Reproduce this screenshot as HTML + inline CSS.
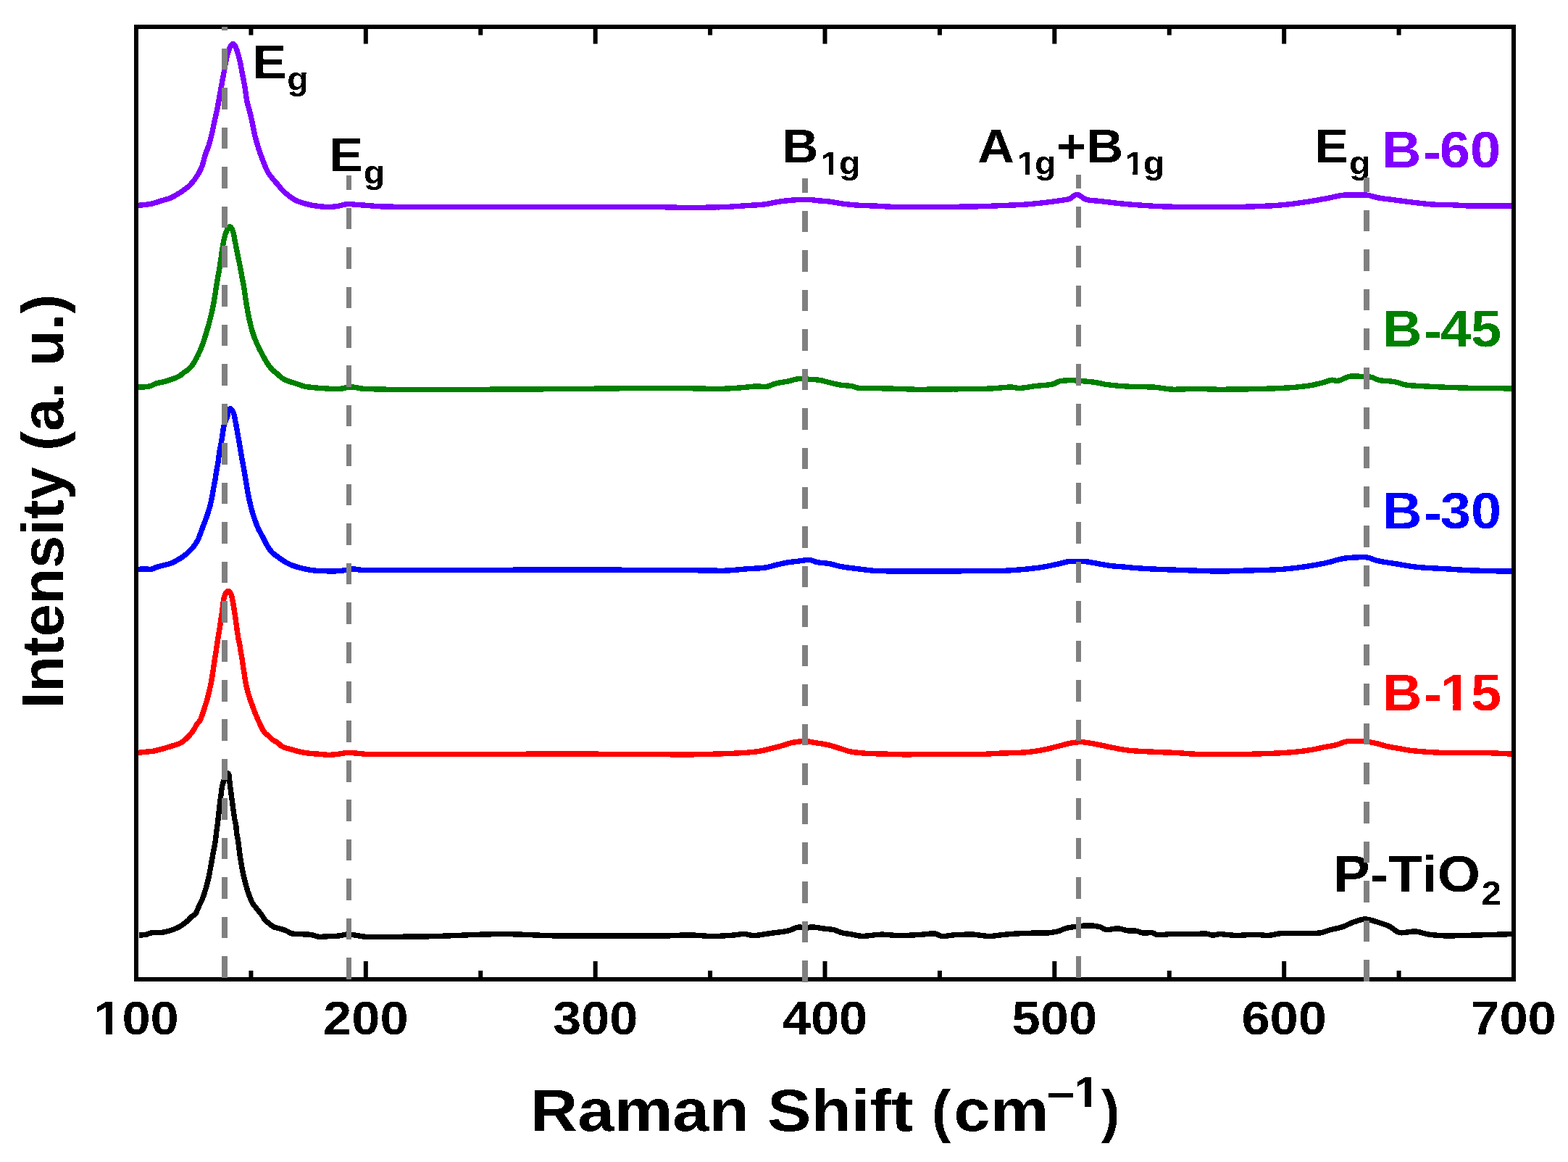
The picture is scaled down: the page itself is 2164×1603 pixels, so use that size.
<!DOCTYPE html>
<html><head><meta charset="utf-8"><title>Raman spectra</title><style>html,body{margin:0;padding:0;background:#fff;overflow:hidden}svg{display:block}</style></head><body>
<svg width="2164" height="1603" viewBox="0 0 2164 1603">
<rect x="0" y="0" width="2164" height="1603" fill="#fff"/>
<path d="M188.9,283.4 189.9,283.3 191.2,283.3 192.6,283.2 194.1,283.1 195.6,283.0 197.1,282.8 198.6,282.7 200.1,282.5 201.6,282.3 203.0,282.1 204.5,281.9 206.0,281.6 207.5,281.4 208.9,281.1 210.4,280.8 211.9,280.4 213.3,280.0 214.7,279.6 216.2,279.1 217.6,278.6 219.0,278.1 220.4,277.7 221.9,277.2 223.3,276.8 224.7,276.3 226.2,275.9 227.6,275.5 229.1,275.1 230.5,274.7 231.9,274.3 233.4,273.8 234.8,273.3 236.2,272.7 237.5,272.1 238.9,271.4 240.2,270.7 241.5,270.0 242.8,269.2 244.1,268.5 245.3,267.7 246.6,266.9 247.9,266.1 249.2,265.3 250.4,264.5 251.7,263.6 252.9,262.8 254.1,261.9 255.3,261.0 256.5,260.1 257.7,259.2 258.9,258.2 260.0,257.3 261.1,256.2 262.2,255.2 263.2,254.1 264.2,253.0 265.2,251.9 266.1,250.7 267.1,249.5 268.0,248.4 268.9,247.2 269.8,245.9 270.6,244.7 271.4,243.4 272.2,242.2 273.0,240.9 273.8,239.6 274.5,238.3 275.3,237.0 276.0,235.7 276.6,234.3 277.3,233.0 277.9,231.6 278.4,230.2 279.0,228.8 279.4,227.4 279.9,226.0 280.3,224.5 280.7,223.1 281.1,221.6 281.4,220.2 281.8,218.7 282.2,217.3 282.6,215.8 283.0,214.4 283.5,212.9 284.0,211.5 284.5,210.1 285.0,208.7 285.6,207.3 286.2,205.9 286.7,204.5 287.2,203.1 287.7,201.7 288.2,200.3 288.6,198.9 289.0,197.4 289.4,196.0 289.8,194.5 290.2,193.1 290.6,191.6 291.0,190.2 291.4,188.7 291.7,187.3 292.1,185.8 292.4,184.4 292.8,182.9 293.1,181.4 293.4,180.0 293.7,178.5 294.0,177.0 294.3,175.6 294.6,174.1 294.9,172.6 295.2,171.2 295.5,169.7 295.9,168.2 296.2,166.8 296.5,165.3 296.8,163.8 297.2,162.4 297.5,160.9 297.8,159.4 298.2,158.0 298.5,156.5 298.8,155.0 299.1,153.6 299.5,152.1 299.8,150.6 300.0,149.2 300.3,147.7 300.6,146.2 300.9,144.7 301.1,143.3 301.4,141.8 301.6,140.3 301.9,138.8 302.2,137.4 302.4,135.9 302.7,134.4 303.0,132.9 303.2,131.5 303.5,130.0 303.8,128.5 304.0,127.0 304.3,125.6 304.6,124.1 304.8,122.6 305.1,121.1 305.4,119.6 305.6,118.2 305.9,116.7 306.2,115.2 306.5,113.8 306.7,112.3 307.0,110.8 307.3,109.3 307.6,107.9 307.8,106.4 308.1,104.9 308.4,103.4 308.6,102.0 308.9,100.5 309.2,99.0 309.4,97.5 309.6,96.0 309.9,94.6 310.1,93.1 310.4,91.6 310.7,90.1 310.9,88.6 311.2,87.2 311.5,85.7 311.8,84.2 312.1,82.8 312.4,81.3 312.8,79.8 313.1,78.4 313.5,76.9 313.9,75.5 314.3,74.0 314.7,72.6 315.1,71.2 315.6,69.7 316.1,68.3 316.6,66.9 317.2,65.5 317.9,64.2 318.6,62.9 319.5,61.8 320.5,61.0 321.5,60.7 322.6,61.1 323.5,62.0 324.4,63.2 325.1,64.5 325.7,65.9 326.2,67.3 326.7,68.7 327.2,70.1 327.6,71.6 328.0,73.0 328.5,74.4 328.9,75.9 329.3,77.3 329.7,78.8 330.1,80.2 330.4,81.7 330.8,83.1 331.1,84.6 331.4,86.1 331.7,87.5 332.1,89.0 332.4,90.5 332.6,91.9 332.9,93.4 333.2,94.9 333.5,96.4 333.8,97.8 334.0,99.3 334.3,100.8 334.6,102.3 334.8,103.7 335.1,105.2 335.4,106.7 335.7,108.2 336.0,109.6 336.3,111.1 336.5,112.6 336.8,114.1 337.1,115.5 337.4,117.0 337.6,118.5 337.9,120.0 338.1,121.4 338.3,122.9 338.6,124.4 338.8,125.9 339.0,127.4 339.2,128.9 339.4,130.3 339.6,131.8 339.8,133.3 340.0,134.8 340.3,136.3 340.5,137.8 340.8,139.2 341.1,140.7 341.4,142.2 341.8,143.6 342.2,145.1 342.6,146.5 343.0,147.9 343.4,149.4 343.8,150.8 344.2,152.3 344.5,153.8 344.9,155.2 345.3,156.7 345.6,158.1 346.0,159.6 346.3,161.0 346.7,162.5 347.0,164.0 347.3,165.4 347.7,166.9 348.0,168.4 348.3,169.8 348.6,171.3 348.9,172.8 349.1,174.2 349.4,175.7 349.7,177.2 350.0,178.7 350.3,180.1 350.6,181.6 350.9,183.1 351.2,184.5 351.6,186.0 351.9,187.4 352.3,188.9 352.7,190.4 353.0,191.8 353.4,193.3 353.8,194.7 354.2,196.1 354.7,197.6 355.1,199.0 355.5,200.5 356.0,201.9 356.4,203.3 356.8,204.8 357.3,206.2 357.8,207.6 358.3,209.0 358.7,210.4 359.2,211.9 359.7,213.3 360.2,214.7 360.8,216.1 361.3,217.5 361.8,218.9 362.4,220.3 362.9,221.7 363.4,223.1 364.0,224.5 364.5,225.9 365.1,227.3 365.6,228.7 366.2,230.1 366.8,231.4 367.4,232.8 368.0,234.2 368.7,235.5 369.4,236.9 370.1,238.2 370.9,239.4 371.8,240.7 372.6,241.9 373.5,243.1 374.5,244.3 375.4,245.4 376.4,246.6 377.3,247.7 378.3,248.9 379.3,250.0 380.3,251.1 381.3,252.2 382.3,253.4 383.3,254.5 384.2,255.7 385.1,256.8 386.1,258.0 387.0,259.2 387.9,260.4 388.9,261.5 389.9,262.6 391.0,263.6 392.1,264.7 393.2,265.7 394.4,266.6 395.5,267.6 396.7,268.5 397.9,269.4 399.1,270.4 400.3,271.3 401.5,272.2 402.7,273.0 403.9,273.9 405.2,274.7 406.5,275.4 407.8,276.2 409.1,276.8 410.5,277.4 411.9,278.0 413.3,278.5 414.7,279.0 416.2,279.5 417.6,279.9 419.0,280.3 420.5,280.7 421.9,281.1 423.4,281.5 424.8,281.9 426.3,282.2 427.7,282.6 429.2,282.9 430.7,283.2 432.1,283.5 433.6,283.7 435.1,283.9 436.6,284.1 438.1,284.3 439.6,284.5 441.1,284.6 442.6,284.8 444.0,285.0 445.5,285.1 447.0,285.2 448.5,285.3 450.0,285.4 451.5,285.4 453.0,285.5 454.5,285.5 456.0,285.4 457.5,285.3 459.0,285.2 460.5,285.1 462.0,284.9 463.5,284.7 465.0,284.5 466.5,284.3 467.9,284.0 469.4,283.7 470.9,283.3 472.3,283.0 473.8,282.6 475.2,282.2 476.7,281.9 478.2,281.7 479.6,281.6 481.1,281.6 482.6,281.6 484.1,281.7 485.6,281.8 487.1,281.9 488.6,282.0 490.1,282.2 491.6,282.3 493.1,282.4 494.6,282.5 496.1,282.6 497.6,282.8 499.1,282.9 500.6,283.0 502.1,283.1 503.6,283.2 505.1,283.3 506.6,283.5 508.1,283.6 509.6,283.7 511.0,283.8 512.5,283.9 514.0,284.1 515.5,284.2 517.0,284.3 518.5,284.4 520.0,284.5 521.5,284.6 523.0,284.7 524.5,284.8 526.0,284.9 527.5,284.9 529.0,285.0 530.5,285.0 532.0,285.0 533.5,285.0 535.0,285.1 536.5,285.1 538.0,285.1 539.5,285.1 541.0,285.1 542.5,285.2 544.0,285.2 545.5,285.2 547.0,285.2 548.5,285.2 550.0,285.3 551.5,285.3 553.0,285.3 554.5,285.3 556.0,285.3 557.5,285.3 559.0,285.3 560.5,285.3 562.0,285.4 563.5,285.4 565.0,285.4 566.5,285.4 568.0,285.4 569.5,285.4 571.0,285.4 572.5,285.4 574.0,285.4 575.5,285.4 577.0,285.4 578.5,285.5 580.0,285.5 581.5,285.5 583.0,285.5 584.5,285.5 586.0,285.5 587.5,285.5 589.0,285.5 590.5,285.5 592.0,285.5 593.5,285.5 595.0,285.5 596.5,285.5 598.0,285.5 599.5,285.5 601.0,285.5 602.5,285.5 604.0,285.5 605.5,285.5 607.0,285.5 608.5,285.5 610.0,285.5 611.5,285.5 613.0,285.5 614.5,285.5 616.0,285.5 617.5,285.5 619.0,285.5 620.5,285.5 622.0,285.5 623.5,285.5 625.0,285.5 626.5,285.5 628.0,285.5 629.5,285.5 631.0,285.5 632.5,285.5 634.0,285.5 635.5,285.5 637.0,285.5 638.5,285.5 640.0,285.5 641.5,285.5 643.0,285.5 644.5,285.5 646.0,285.5 647.5,285.5 649.0,285.5 650.5,285.5 652.0,285.5 653.5,285.5 655.0,285.5 656.5,285.5 658.0,285.5 659.5,285.5 661.0,285.5 662.5,285.5 664.0,285.5 665.5,285.5 667.0,285.5 668.5,285.5 670.0,285.5 671.5,285.5 673.0,285.5 674.5,285.5 676.0,285.5 677.5,285.5 679.0,285.5 680.5,285.5 682.0,285.5 683.5,285.5 685.0,285.5 686.5,285.5 688.0,285.5 689.5,285.5 691.0,285.5 692.5,285.5 694.0,285.5 695.5,285.5 697.0,285.5 698.5,285.5 700.0,285.5 701.5,285.5 703.0,285.5 704.5,285.5 706.0,285.5 707.5,285.5 709.0,285.5 710.5,285.5 712.0,285.5 713.5,285.5 715.0,285.5 716.5,285.5 718.0,285.5 719.5,285.5 721.0,285.5 722.5,285.5 724.0,285.5 725.5,285.5 727.0,285.5 728.5,285.5 730.0,285.5 731.5,285.5 733.0,285.5 734.5,285.5 736.0,285.5 737.5,285.5 739.0,285.5 740.5,285.5 742.0,285.5 743.5,285.5 745.0,285.5 746.5,285.5 748.0,285.5 749.5,285.5 751.0,285.5 752.5,285.5 754.0,285.5 755.5,285.5 757.0,285.5 758.5,285.5 760.0,285.5 761.5,285.5 763.0,285.5 764.5,285.5 766.0,285.5 767.5,285.5 769.0,285.5 770.5,285.5 772.0,285.5 773.5,285.5 775.0,285.5 776.5,285.5 778.0,285.5 779.5,285.5 781.0,285.5 782.5,285.5 784.0,285.5 785.5,285.5 787.0,285.5 788.5,285.5 790.0,285.5 791.5,285.5 793.0,285.5 794.5,285.5 796.0,285.5 797.5,285.5 799.0,285.5 800.5,285.5 802.0,285.5 803.5,285.5 805.0,285.5 806.5,285.5 808.0,285.5 809.5,285.5 811.0,285.5 812.5,285.5 814.0,285.5 815.5,285.5 817.0,285.5 818.5,285.5 820.0,285.5 821.5,285.5 823.0,285.5 824.5,285.5 826.0,285.5 827.5,285.5 829.0,285.5 830.5,285.5 832.0,285.5 833.5,285.5 835.0,285.5 836.5,285.5 838.0,285.5 839.5,285.5 841.0,285.5 842.5,285.5 844.0,285.5 845.5,285.5 847.0,285.5 848.5,285.5 850.0,285.5 851.5,285.5 853.0,285.5 854.5,285.5 856.0,285.5 857.5,285.5 859.0,285.5 860.5,285.5 862.0,285.5 863.5,285.5 865.0,285.5 866.5,285.5 868.0,285.5 869.5,285.5 871.0,285.5 872.5,285.5 874.0,285.5 875.5,285.5 877.0,285.5 878.5,285.5 880.0,285.5 881.5,285.5 883.0,285.5 884.5,285.5 886.0,285.5 887.5,285.5 889.0,285.5 890.5,285.5 892.0,285.5 893.5,285.5 895.0,285.5 896.5,285.5 898.0,285.5 899.5,285.5 901.0,285.5 902.5,285.5 904.0,285.5 905.5,285.5 907.0,285.6 908.5,285.6 910.0,285.6 911.5,285.6 913.0,285.7 914.5,285.7 916.0,285.7 917.5,285.8 919.0,285.8 920.5,285.8 922.0,285.9 923.5,285.9 925.0,285.9 926.5,286.0 928.0,286.0 929.5,286.1 931.0,286.1 932.5,286.1 934.0,286.2 935.5,286.2 937.0,286.2 938.5,286.3 940.0,286.3 941.5,286.3 943.0,286.3 944.5,286.4 946.0,286.4 947.5,286.4 949.0,286.4 950.5,286.4 952.0,286.4 953.5,286.4 955.0,286.4 956.5,286.4 958.0,286.4 959.5,286.4 961.0,286.3 962.5,286.3 964.0,286.3 965.5,286.3 967.0,286.3 968.5,286.3 970.0,286.2 971.5,286.2 973.0,286.2 974.5,286.2 976.0,286.1 977.5,286.1 979.0,286.1 980.5,286.0 982.0,286.0 983.5,286.0 985.0,285.9 986.5,285.9 988.0,285.9 989.5,285.8 991.0,285.8 992.5,285.8 994.0,285.7 995.5,285.7 997.0,285.6 998.5,285.6 1000.0,285.5 1001.5,285.5 1003.0,285.4 1004.5,285.4 1006.0,285.3 1007.5,285.2 1009.0,285.1 1010.5,285.0 1012.0,284.9 1013.5,284.8 1015.0,284.7 1016.5,284.6 1018.0,284.5 1019.5,284.4 1020.9,284.3 1022.4,284.2 1023.9,284.1 1025.4,284.0 1026.9,283.9 1028.4,283.8 1029.9,283.7 1031.4,283.6 1032.9,283.5 1034.4,283.4 1035.9,283.3 1037.4,283.2 1038.9,283.1 1040.4,283.1 1041.9,283.0 1043.4,282.9 1044.9,282.8 1046.4,282.7 1047.9,282.6 1049.4,282.5 1050.9,282.4 1052.4,282.2 1053.9,282.1 1055.4,281.9 1056.8,281.7 1058.3,281.5 1059.8,281.2 1061.3,280.9 1062.7,280.6 1064.2,280.3 1065.7,279.9 1067.1,279.6 1068.6,279.3 1070.1,279.0 1071.5,278.8 1073.0,278.5 1074.5,278.3 1076.0,278.1 1077.5,277.9 1079.0,277.7 1080.5,277.5 1081.9,277.3 1083.4,277.1 1084.9,277.0 1086.4,276.8 1087.9,276.7 1089.4,276.5 1090.9,276.4 1092.4,276.2 1093.9,276.1 1095.4,276.0 1096.9,275.9 1098.4,275.8 1099.9,275.7 1101.4,275.7 1102.9,275.6 1104.4,275.6 1105.9,275.6 1107.4,275.6 1108.9,275.6 1110.4,275.6 1111.9,275.6 1113.4,275.6 1114.9,275.6 1116.4,275.6 1117.9,275.6 1119.4,275.6 1120.9,275.7 1122.3,275.9 1123.8,276.1 1125.3,276.3 1126.8,276.5 1128.3,276.7 1129.8,276.9 1131.3,277.0 1132.8,277.1 1134.3,277.2 1135.8,277.3 1137.3,277.4 1138.7,277.5 1140.2,277.7 1141.7,277.8 1143.2,277.9 1144.7,278.1 1146.2,278.3 1147.7,278.5 1149.2,278.8 1150.6,279.0 1152.1,279.3 1153.6,279.6 1155.1,279.8 1156.5,280.1 1158.0,280.3 1159.5,280.6 1161.0,280.8 1162.5,281.0 1164.0,281.2 1165.5,281.4 1166.9,281.5 1168.4,281.7 1169.9,281.9 1171.4,282.1 1172.9,282.2 1174.4,282.4 1175.9,282.5 1177.4,282.7 1178.9,282.8 1180.4,282.9 1181.9,283.0 1183.4,283.1 1184.9,283.2 1186.4,283.3 1187.9,283.4 1189.4,283.4 1190.9,283.5 1192.4,283.5 1193.9,283.6 1195.4,283.6 1196.9,283.7 1198.4,283.7 1199.9,283.8 1201.4,283.8 1202.9,283.9 1204.4,283.9 1205.8,284.0 1207.3,284.0 1208.8,284.1 1210.3,284.2 1211.8,284.3 1213.3,284.3 1214.8,284.4 1216.3,284.5 1217.8,284.6 1219.3,284.7 1220.8,284.8 1222.3,284.9 1223.8,285.0 1225.3,285.0 1226.8,285.1 1228.3,285.2 1229.8,285.2 1231.3,285.3 1232.8,285.3 1234.3,285.3 1235.8,285.3 1237.3,285.4 1238.8,285.4 1240.3,285.4 1241.8,285.4 1243.3,285.4 1244.8,285.4 1246.3,285.5 1247.8,285.5 1249.3,285.5 1250.8,285.5 1252.3,285.5 1253.8,285.5 1255.3,285.5 1256.8,285.5 1258.3,285.6 1259.8,285.6 1261.3,285.6 1262.8,285.6 1264.3,285.6 1265.8,285.6 1267.3,285.6 1268.8,285.6 1270.3,285.6 1271.8,285.6 1273.3,285.6 1274.8,285.6 1276.3,285.6 1277.8,285.6 1279.3,285.6 1280.8,285.6 1282.3,285.6 1283.8,285.6 1285.3,285.5 1286.8,285.5 1288.3,285.5 1289.8,285.5 1291.3,285.5 1292.8,285.5 1294.3,285.5 1295.8,285.4 1297.3,285.4 1298.8,285.4 1300.3,285.4 1301.8,285.4 1303.3,285.4 1304.8,285.4 1306.3,285.3 1307.8,285.3 1309.3,285.3 1310.8,285.3 1312.3,285.3 1313.8,285.3 1315.3,285.3 1316.8,285.2 1318.3,285.2 1319.8,285.2 1321.3,285.2 1322.8,285.2 1324.3,285.2 1325.8,285.1 1327.3,285.1 1328.8,285.1 1330.3,285.1 1331.8,285.1 1333.3,285.0 1334.8,285.0 1336.3,285.0 1337.8,285.0 1339.3,285.0 1340.8,284.9 1342.3,284.9 1343.8,284.9 1345.3,284.9 1346.8,284.8 1348.3,284.8 1349.8,284.8 1351.3,284.7 1352.8,284.7 1354.3,284.7 1355.8,284.6 1357.3,284.6 1358.8,284.5 1360.3,284.5 1361.8,284.4 1363.3,284.3 1364.8,284.3 1366.3,284.2 1367.8,284.2 1369.3,284.1 1370.8,284.0 1372.3,284.0 1373.8,283.9 1375.3,283.8 1376.8,283.8 1378.3,283.7 1379.8,283.6 1381.3,283.6 1382.8,283.5 1384.3,283.5 1385.8,283.4 1387.3,283.4 1388.8,283.3 1390.3,283.2 1391.8,283.2 1393.3,283.1 1394.8,283.1 1396.3,283.0 1397.8,283.0 1399.3,282.9 1400.8,282.8 1402.3,282.8 1403.8,282.7 1405.3,282.6 1406.8,282.5 1408.3,282.5 1409.8,282.4 1411.3,282.3 1412.8,282.2 1414.3,282.1 1415.7,282.0 1417.2,281.9 1418.7,281.8 1420.2,281.7 1421.7,281.6 1423.2,281.4 1424.7,281.3 1426.2,281.1 1427.7,281.0 1429.2,280.8 1430.7,280.7 1432.2,280.5 1433.7,280.4 1435.2,280.2 1436.7,280.0 1438.1,279.9 1439.6,279.7 1441.1,279.5 1442.6,279.3 1444.1,279.2 1445.6,279.0 1447.1,278.8 1448.6,278.6 1450.1,278.5 1451.5,278.3 1453.0,278.1 1454.5,277.9 1456.0,277.7 1457.5,277.5 1459.0,277.3 1460.5,277.1 1462.0,276.8 1463.4,276.6 1464.9,276.4 1466.4,276.2 1467.9,275.9 1469.4,275.7 1470.8,275.4 1472.3,275.2 1473.8,274.9 1475.2,274.5 1476.6,273.9 1477.9,273.2 1479.1,272.4 1480.3,271.5 1481.5,270.6 1482.7,269.7 1484.0,269.0 1485.3,268.5 1486.6,268.4 1488.0,268.7 1489.4,269.3 1490.6,270.0 1491.9,270.9 1493.1,271.8 1494.3,272.7 1495.5,273.5 1496.8,274.3 1498.1,274.9 1499.5,275.4 1501.0,275.7 1502.4,276.0 1503.9,276.2 1505.4,276.4 1506.9,276.5 1508.4,276.7 1509.9,276.8 1511.4,276.9 1512.9,277.0 1514.4,277.1 1515.9,277.3 1517.4,277.4 1518.9,277.6 1520.3,277.7 1521.8,277.9 1523.3,278.1 1524.8,278.3 1526.3,278.5 1527.8,278.7 1529.3,278.8 1530.8,279.0 1532.3,279.2 1533.7,279.4 1535.2,279.6 1536.7,279.7 1538.2,279.9 1539.7,280.1 1541.2,280.2 1542.7,280.4 1544.2,280.6 1545.7,280.7 1547.2,280.9 1548.7,281.0 1550.1,281.1 1551.6,281.3 1553.1,281.4 1554.6,281.6 1556.1,281.7 1557.6,281.8 1559.1,282.0 1560.6,282.1 1562.1,282.2 1563.6,282.4 1565.1,282.5 1566.6,282.6 1568.1,282.7 1569.6,282.8 1571.1,282.9 1572.6,283.0 1574.1,283.1 1575.6,283.2 1577.1,283.3 1578.6,283.4 1580.0,283.5 1581.5,283.6 1583.0,283.7 1584.5,283.8 1586.0,283.9 1587.5,284.0 1589.0,284.1 1590.5,284.2 1592.0,284.2 1593.5,284.3 1595.0,284.4 1596.5,284.5 1598.0,284.5 1599.5,284.6 1601.0,284.7 1602.5,284.7 1604.0,284.8 1605.5,284.8 1607.0,284.9 1608.5,284.9 1610.0,285.0 1611.5,285.0 1613.0,285.1 1614.5,285.1 1616.0,285.1 1617.5,285.2 1619.0,285.2 1620.5,285.3 1622.0,285.3 1623.5,285.3 1625.0,285.4 1626.5,285.4 1628.0,285.4 1629.5,285.5 1631.0,285.5 1632.5,285.5 1634.0,285.6 1635.5,285.6 1637.0,285.6 1638.5,285.6 1640.0,285.6 1641.5,285.7 1643.0,285.7 1644.5,285.7 1646.0,285.7 1647.5,285.7 1649.0,285.7 1650.5,285.7 1652.0,285.7 1653.5,285.7 1655.0,285.7 1656.5,285.7 1658.0,285.7 1659.5,285.7 1661.0,285.7 1662.5,285.7 1664.0,285.7 1665.5,285.7 1667.0,285.7 1668.5,285.7 1670.0,285.7 1671.5,285.7 1673.0,285.7 1674.5,285.7 1676.0,285.7 1677.5,285.7 1679.0,285.7 1680.5,285.7 1682.0,285.7 1683.5,285.7 1685.0,285.6 1686.5,285.6 1688.0,285.6 1689.5,285.6 1691.0,285.6 1692.5,285.6 1694.0,285.6 1695.5,285.6 1697.0,285.6 1698.5,285.6 1700.0,285.6 1701.5,285.6 1703.0,285.6 1704.5,285.5 1706.0,285.5 1707.5,285.5 1709.0,285.5 1710.5,285.4 1712.0,285.4 1713.5,285.3 1715.0,285.3 1716.5,285.3 1718.0,285.2 1719.5,285.2 1721.0,285.1 1722.5,285.1 1724.0,285.0 1725.5,285.0 1727.0,284.9 1728.5,284.9 1730.0,284.8 1731.5,284.8 1733.0,284.7 1734.5,284.7 1736.0,284.6 1737.5,284.6 1739.0,284.5 1740.5,284.5 1742.0,284.4 1743.5,284.3 1745.0,284.3 1746.5,284.2 1748.0,284.1 1749.5,284.1 1751.0,284.0 1752.5,283.9 1754.0,283.8 1755.5,283.8 1757.0,283.7 1758.5,283.6 1760.0,283.5 1761.5,283.4 1763.0,283.3 1764.5,283.2 1765.9,283.1 1767.4,283.0 1768.9,282.8 1770.4,282.7 1771.9,282.6 1773.4,282.4 1774.9,282.2 1776.4,282.1 1777.9,281.9 1779.4,281.7 1780.9,281.5 1782.4,281.4 1783.8,281.2 1785.3,281.0 1786.8,280.8 1788.3,280.6 1789.8,280.4 1791.3,280.2 1792.8,280.0 1794.3,279.8 1795.7,279.6 1797.2,279.4 1798.7,279.2 1800.2,278.9 1801.7,278.7 1803.2,278.5 1804.6,278.3 1806.1,278.0 1807.6,277.8 1809.1,277.5 1810.6,277.3 1812.0,277.0 1813.5,276.8 1815.0,276.5 1816.5,276.3 1818.0,276.0 1819.4,275.8 1820.9,275.5 1822.4,275.2 1823.9,275.0 1825.3,274.7 1826.8,274.5 1828.3,274.2 1829.8,274.0 1831.2,273.7 1832.7,273.4 1834.2,273.1 1835.7,272.8 1837.1,272.4 1838.6,272.1 1840.0,271.8 1841.5,271.4 1843.0,271.1 1844.4,270.8 1845.9,270.5 1847.4,270.2 1848.9,270.0 1850.3,269.7 1851.8,269.5 1853.3,269.3 1854.8,269.1 1856.3,269.0 1857.8,268.9 1859.3,268.8 1860.8,268.8 1862.3,268.8 1863.8,268.8 1865.3,268.8 1866.8,268.8 1868.3,268.8 1869.8,268.8 1871.3,268.8 1872.8,268.8 1874.3,268.8 1875.8,268.8 1877.3,268.8 1878.8,268.9 1880.3,268.9 1881.8,268.9 1883.3,268.9 1884.8,269.0 1886.3,269.1 1887.8,269.3 1889.2,269.6 1890.7,269.9 1892.1,270.3 1893.6,270.7 1895.0,271.1 1896.4,271.5 1897.9,271.9 1899.4,272.3 1900.8,272.6 1902.3,272.9 1903.8,273.1 1905.3,273.3 1906.7,273.5 1908.2,273.8 1909.7,274.0 1911.2,274.2 1912.7,274.4 1914.2,274.5 1915.7,274.7 1917.2,274.9 1918.6,275.1 1920.1,275.3 1921.6,275.5 1923.1,275.7 1924.6,275.9 1926.1,276.1 1927.6,276.3 1929.1,276.5 1930.5,276.7 1932.0,276.9 1933.5,277.1 1935.0,277.3 1936.5,277.5 1938.0,277.7 1939.5,277.9 1940.9,278.1 1942.4,278.3 1943.9,278.5 1945.4,278.7 1946.9,278.8 1948.4,279.0 1949.9,279.2 1951.4,279.3 1952.9,279.5 1954.3,279.7 1955.8,279.9 1957.3,280.1 1958.8,280.2 1960.3,280.4 1961.8,280.6 1963.3,280.7 1964.8,280.9 1966.3,281.1 1967.8,281.2 1969.3,281.4 1970.7,281.5 1972.2,281.6 1973.7,281.8 1975.2,281.9 1976.7,282.0 1978.2,282.1 1979.7,282.1 1981.2,282.2 1982.7,282.2 1984.2,282.3 1985.7,282.3 1987.2,282.3 1988.7,282.3 1990.2,282.4 1991.7,282.4 1993.2,282.4 1994.7,282.4 1996.2,282.5 1997.7,282.5 1999.2,282.5 2000.7,282.6 2002.2,282.7 2003.7,282.7 2005.2,282.8 2006.7,282.9 2008.2,283.0 2009.7,283.0 2011.2,283.1 2012.7,283.2 2014.2,283.3 2015.7,283.4 2017.2,283.5 2018.7,283.5 2020.2,283.6 2021.7,283.7 2023.2,283.8 2024.7,283.8 2026.2,283.9 2027.7,283.9 2029.2,284.0 2030.7,284.0 2032.2,284.0 2033.7,284.0 2035.2,284.0 2036.7,284.0 2038.2,284.0 2039.7,284.0 2041.2,284.0 2042.7,284.0 2044.2,284.0 2045.7,284.0 2047.2,284.0 2048.7,284.0 2050.2,284.0 2051.7,284.0 2053.2,284.0 2054.7,284.0 2056.2,284.0 2057.7,284.0 2059.2,284.0 2060.7,284.0 2062.2,284.0 2063.7,284.0 2065.2,284.0 2066.7,284.0 2068.2,284.0 2069.7,284.0 2071.2,284.0 2072.7,284.0 2074.2,284.0 2075.7,284.0 2077.2,284.0 2078.7,284.0 2080.2,284.0 2081.7,284.0 2083.2,284.0 2084.7,284.0 2086.1,284.0 2087.4,284.0 2088.3,284.0" fill="none" stroke="#8000FF" stroke-width="7.4" stroke-linejoin="round" stroke-linecap="butt" shape-rendering="crispEdges"/>
<path d="M188.9,283.4 189.9,283.3 191.2,283.3 192.6,283.2 194.1,283.1 195.6,283.0 197.1,282.8 198.6,282.7 200.1,282.5 201.6,282.3 203.0,282.1 204.5,281.9 206.0,281.6 207.5,281.4 208.9,281.1 210.4,280.8 211.9,280.4 213.3,280.0 214.7,279.6 216.2,279.1 217.6,278.6 219.0,278.1 220.4,277.7 221.9,277.2 223.3,276.8 224.7,276.3 226.2,275.9 227.6,275.5 229.1,275.1 230.5,274.7 231.9,274.3 233.4,273.8 234.8,273.3 236.2,272.7 237.5,272.1 238.9,271.4 240.2,270.7 241.5,270.0 242.8,269.2 244.1,268.5 245.3,267.7 246.6,266.9 247.9,266.1 249.2,265.3 250.4,264.5 251.7,263.6 252.9,262.8 254.1,261.9 255.3,261.0 256.5,260.1 257.7,259.2 258.9,258.2 260.0,257.3 261.1,256.2 262.2,255.2 263.2,254.1 264.2,253.0 265.2,251.9 266.1,250.7 267.1,249.5 268.0,248.4 268.9,247.2 269.8,245.9 270.6,244.7 271.4,243.4 272.2,242.2 273.0,240.9 273.8,239.6 274.5,238.3 275.3,237.0 276.0,235.7 276.6,234.3 277.3,233.0 277.9,231.6 278.4,230.2 279.0,228.8 279.4,227.4 279.9,226.0 280.3,224.5 280.7,223.1 281.1,221.6 281.4,220.2 281.8,218.7 282.2,217.3 282.6,215.8 283.0,214.4 283.5,212.9 284.0,211.5 284.5,210.1 285.0,208.7 285.6,207.3 286.2,205.9 286.7,204.5 287.2,203.1 287.7,201.7 288.2,200.3 288.6,198.9 289.0,197.4 289.4,196.0 289.8,194.5 290.2,193.1 290.6,191.6 291.0,190.2 291.4,188.7 291.7,187.3 292.1,185.8 292.4,184.4 292.8,182.9 293.1,181.4 293.4,180.0 293.7,178.5 294.0,177.0 294.3,175.6 294.6,174.1 294.9,172.6 295.2,171.2 295.5,169.7 295.9,168.2 296.2,166.8 296.5,165.3 296.8,163.8 297.2,162.4 297.5,160.9 297.8,159.4 298.2,158.0 298.5,156.5 298.8,155.0 299.1,153.6 299.5,152.1 299.8,150.6 300.0,149.2 300.3,147.7 300.6,146.2 300.9,144.7 301.1,143.3 301.4,141.8 301.6,140.3 301.9,138.8 302.2,137.4 302.4,135.9 302.7,134.4 303.0,132.9 303.2,131.5 303.5,130.0 303.8,128.5 304.0,127.0 304.3,125.6 304.6,124.1 304.8,122.6 305.1,121.1 305.4,119.6 305.6,118.2 305.9,116.7 306.2,115.2 306.5,113.8 306.7,112.3 307.0,110.8 307.3,109.3 307.6,107.9 307.8,106.4 308.1,104.9 308.4,103.4 308.6,102.0 308.9,100.5 309.2,99.0 309.4,97.5 309.6,96.0 309.9,94.6 310.1,93.1 310.4,91.6 310.7,90.1 310.9,88.6 311.2,87.2 311.5,85.7 311.8,84.2 312.1,82.8 312.4,81.3 312.8,79.8 313.1,78.4 313.5,76.9 313.9,75.5 314.3,74.0 314.7,72.6 315.1,71.2 315.6,69.7 316.1,68.3 316.6,66.9 317.2,65.5 317.9,64.2 318.6,62.9 319.5,61.8 320.5,61.0 321.5,60.7 322.6,61.1 323.5,62.0 324.4,63.2 325.1,64.5 325.7,65.9 326.2,67.3 326.7,68.7 327.2,70.1 327.6,71.6 328.0,73.0 328.5,74.4 328.9,75.9 329.3,77.3 329.7,78.8 330.1,80.2 330.4,81.7 330.8,83.1 331.1,84.6 331.4,86.1 331.7,87.5 332.1,89.0 332.4,90.5 332.6,91.9 332.9,93.4 333.2,94.9 333.5,96.4 333.8,97.8 334.0,99.3 334.3,100.8 334.6,102.3 334.8,103.7 335.1,105.2 335.4,106.7 335.7,108.2 336.0,109.6 336.3,111.1 336.5,112.6 336.8,114.1 337.1,115.5 337.4,117.0 337.6,118.5 337.9,120.0 338.1,121.4 338.3,122.9 338.6,124.4 338.8,125.9 339.0,127.4 339.2,128.9 339.4,130.3 339.6,131.8 339.8,133.3 340.0,134.8 340.3,136.3 340.5,137.8 340.8,139.2 341.1,140.7 341.4,142.2 341.8,143.6 342.2,145.1 342.6,146.5 343.0,147.9 343.4,149.4 343.8,150.8 344.2,152.3 344.5,153.8 344.9,155.2 345.3,156.7 345.6,158.1 346.0,159.6 346.3,161.0 346.7,162.5 347.0,164.0 347.3,165.4 347.7,166.9 348.0,168.4 348.3,169.8 348.6,171.3 348.9,172.8 349.1,174.2 349.4,175.7 349.7,177.2 350.0,178.7 350.3,180.1 350.6,181.6 350.9,183.1 351.2,184.5 351.6,186.0 351.9,187.4 352.3,188.9 352.7,190.4 353.0,191.8 353.4,193.3 353.8,194.7 354.2,196.1 354.7,197.6 355.1,199.0 355.5,200.5 356.0,201.9 356.4,203.3 356.8,204.8 357.3,206.2 357.8,207.6 358.3,209.0 358.7,210.4 359.2,211.9 359.7,213.3 360.2,214.7 360.8,216.1 361.3,217.5 361.8,218.9 362.4,220.3 362.9,221.7 363.4,223.1 364.0,224.5 364.5,225.9 365.1,227.3 365.6,228.7 366.2,230.1 366.8,231.4 367.4,232.8 368.0,234.2 368.7,235.5 369.4,236.9 370.1,238.2 370.9,239.4 371.8,240.7 372.6,241.9 373.5,243.1 374.5,244.3 375.4,245.4 376.4,246.6 377.3,247.7 378.3,248.9 379.3,250.0 380.3,251.1 381.3,252.2 382.3,253.4 383.3,254.5 384.2,255.7 385.1,256.8 386.1,258.0 387.0,259.2 387.9,260.4 388.9,261.5 389.9,262.6 391.0,263.6 392.1,264.7 393.2,265.7 394.4,266.6 395.5,267.6 396.7,268.5 397.9,269.4 399.1,270.4 400.3,271.3 401.5,272.2 402.7,273.0 403.9,273.9 405.2,274.7 406.5,275.4 407.8,276.2 409.1,276.8 410.5,277.4 411.9,278.0 413.3,278.5 414.7,279.0 416.2,279.5 417.6,279.9 419.0,280.3 420.5,280.7 421.9,281.1 423.4,281.5 424.8,281.9 426.3,282.2 427.7,282.6 429.2,282.9 430.7,283.2 432.1,283.5 433.6,283.7 435.1,283.9 436.6,284.1 438.1,284.3 439.6,284.5 441.1,284.6 442.6,284.8 444.0,285.0 445.5,285.1 447.0,285.2 448.5,285.3 450.0,285.4 451.5,285.4 453.0,285.5 454.5,285.5 456.0,285.4 457.5,285.3 459.0,285.2 460.5,285.1 462.0,284.9 463.5,284.7 465.0,284.5 466.5,284.3 467.9,284.0 469.4,283.7 470.9,283.3 472.3,283.0 473.8,282.6 475.2,282.2 476.7,281.9 478.2,281.7 479.6,281.6 481.1,281.6 482.6,281.6 484.1,281.7 485.6,281.8 487.1,281.9 488.6,282.0 490.1,282.2 491.6,282.3 493.1,282.4 494.6,282.5 496.1,282.6 497.6,282.8 499.1,282.9 500.6,283.0 502.1,283.1 503.6,283.2 505.1,283.3 506.6,283.5 508.1,283.6 509.6,283.7 511.0,283.8 512.5,283.9 514.0,284.1 515.5,284.2 517.0,284.3 518.5,284.4 520.0,284.5 521.5,284.6 523.0,284.7 524.5,284.8 526.0,284.9 527.5,284.9 529.0,285.0 530.5,285.0 532.0,285.0 533.5,285.0 535.0,285.1 536.5,285.1 538.0,285.1 539.5,285.1 541.0,285.1 542.5,285.2 544.0,285.2 545.5,285.2 547.0,285.2 548.5,285.2 550.0,285.3 551.5,285.3 553.0,285.3 554.5,285.3 556.0,285.3 557.5,285.3 559.0,285.3 560.5,285.3 562.0,285.4 563.5,285.4 565.0,285.4 566.5,285.4 568.0,285.4 569.5,285.4 571.0,285.4 572.5,285.4 574.0,285.4 575.5,285.4 577.0,285.4 578.5,285.5 580.0,285.5 581.5,285.5 583.0,285.5 584.5,285.5 586.0,285.5 587.5,285.5 589.0,285.5 590.5,285.5 592.0,285.5 593.5,285.5 595.0,285.5 596.5,285.5 598.0,285.5 599.5,285.5 601.0,285.5 602.5,285.5 604.0,285.5 605.5,285.5 607.0,285.5 608.5,285.5 610.0,285.5 611.5,285.5 613.0,285.5 614.5,285.5 616.0,285.5 617.5,285.5 619.0,285.5 620.5,285.5 622.0,285.5 623.5,285.5 625.0,285.5 626.5,285.5 628.0,285.5 629.5,285.5 631.0,285.5 632.5,285.5 634.0,285.5 635.5,285.5 637.0,285.5 638.5,285.5 640.0,285.5 641.5,285.5 643.0,285.5 644.5,285.5 646.0,285.5 647.5,285.5 649.0,285.5 650.5,285.5 652.0,285.5 653.5,285.5 655.0,285.5 656.5,285.5 658.0,285.5 659.5,285.5 661.0,285.5 662.5,285.5 664.0,285.5 665.5,285.5 667.0,285.5 668.5,285.5 670.0,285.5 671.5,285.5 673.0,285.5 674.5,285.5 676.0,285.5 677.5,285.5 679.0,285.5 680.5,285.5 682.0,285.5 683.5,285.5 685.0,285.5 686.5,285.5 688.0,285.5 689.5,285.5 691.0,285.5 692.5,285.5 694.0,285.5 695.5,285.5 697.0,285.5 698.5,285.5 700.0,285.5 701.5,285.5 703.0,285.5 704.5,285.5 706.0,285.5 707.5,285.5 709.0,285.5 710.5,285.5 712.0,285.5 713.5,285.5 715.0,285.5 716.5,285.5 718.0,285.5 719.5,285.5 721.0,285.5 722.5,285.5 724.0,285.5 725.5,285.5 727.0,285.5 728.5,285.5 730.0,285.5 731.5,285.5 733.0,285.5 734.5,285.5 736.0,285.5 737.5,285.5 739.0,285.5 740.5,285.5 742.0,285.5 743.5,285.5 745.0,285.5 746.5,285.5 748.0,285.5 749.5,285.5 751.0,285.5 752.5,285.5 754.0,285.5 755.5,285.5 757.0,285.5 758.5,285.5 760.0,285.5 761.5,285.5 763.0,285.5 764.5,285.5 766.0,285.5 767.5,285.5 769.0,285.5 770.5,285.5 772.0,285.5 773.5,285.5 775.0,285.5 776.5,285.5 778.0,285.5 779.5,285.5 781.0,285.5 782.5,285.5 784.0,285.5 785.5,285.5 787.0,285.5 788.5,285.5 790.0,285.5 791.5,285.5 793.0,285.5 794.5,285.5 796.0,285.5 797.5,285.5 799.0,285.5 800.5,285.5 802.0,285.5 803.5,285.5 805.0,285.5 806.5,285.5 808.0,285.5 809.5,285.5 811.0,285.5 812.5,285.5 814.0,285.5 815.5,285.5 817.0,285.5 818.5,285.5 820.0,285.5 821.5,285.5 823.0,285.5 824.5,285.5 826.0,285.5 827.5,285.5 829.0,285.5 830.5,285.5 832.0,285.5 833.5,285.5 835.0,285.5 836.5,285.5 838.0,285.5 839.5,285.5 841.0,285.5 842.5,285.5 844.0,285.5 845.5,285.5 847.0,285.5 848.5,285.5 850.0,285.5 851.5,285.5 853.0,285.5 854.5,285.5 856.0,285.5 857.5,285.5 859.0,285.5 860.5,285.5 862.0,285.5 863.5,285.5 865.0,285.5 866.5,285.5 868.0,285.5 869.5,285.5 871.0,285.5 872.5,285.5 874.0,285.5 875.5,285.5 877.0,285.5 878.5,285.5 880.0,285.5 881.5,285.5 883.0,285.5 884.5,285.5 886.0,285.5 887.5,285.5 889.0,285.5 890.5,285.5 892.0,285.5 893.5,285.5 895.0,285.5 896.5,285.5 898.0,285.5 899.5,285.5 901.0,285.5 902.5,285.5 904.0,285.5 905.5,285.5 907.0,285.6 908.5,285.6 910.0,285.6 911.5,285.6 913.0,285.7 914.5,285.7 916.0,285.7 917.5,285.8 919.0,285.8 920.5,285.8 922.0,285.9 923.5,285.9 925.0,285.9 926.5,286.0 928.0,286.0 929.5,286.1 931.0,286.1 932.5,286.1 934.0,286.2 935.5,286.2 937.0,286.2 938.5,286.3 940.0,286.3 941.5,286.3 943.0,286.3 944.5,286.4 946.0,286.4 947.5,286.4 949.0,286.4 950.5,286.4 952.0,286.4 953.5,286.4 955.0,286.4 956.5,286.4 958.0,286.4 959.5,286.4 961.0,286.3 962.5,286.3 964.0,286.3 965.5,286.3 967.0,286.3 968.5,286.3 970.0,286.2 971.5,286.2 973.0,286.2 974.5,286.2 976.0,286.1 977.5,286.1 979.0,286.1 980.5,286.0 982.0,286.0 983.5,286.0 985.0,285.9 986.5,285.9 988.0,285.9 989.5,285.8 991.0,285.8 992.5,285.8 994.0,285.7 995.5,285.7 997.0,285.6 998.5,285.6 1000.0,285.5 1001.5,285.5 1003.0,285.4 1004.5,285.4 1006.0,285.3 1007.5,285.2 1009.0,285.1 1010.5,285.0 1012.0,284.9 1013.5,284.8 1015.0,284.7 1016.5,284.6 1018.0,284.5 1019.5,284.4 1020.9,284.3 1022.4,284.2 1023.9,284.1 1025.4,284.0 1026.9,283.9 1028.4,283.8 1029.9,283.7 1031.4,283.6 1032.9,283.5 1034.4,283.4 1035.9,283.3 1037.4,283.2 1038.9,283.1 1040.4,283.1 1041.9,283.0 1043.4,282.9 1044.9,282.8 1046.4,282.7 1047.9,282.6 1049.4,282.5 1050.9,282.4 1052.4,282.2 1053.9,282.1 1055.4,281.9 1056.8,281.7 1058.3,281.5 1059.8,281.2 1061.3,280.9 1062.7,280.6 1064.2,280.3 1065.7,279.9 1067.1,279.6 1068.6,279.3 1070.1,279.0 1071.5,278.8 1073.0,278.5 1074.5,278.3 1076.0,278.1 1077.5,277.9 1079.0,277.7 1080.5,277.5 1081.9,277.3 1083.4,277.1 1084.9,277.0 1086.4,276.8 1087.9,276.7 1089.4,276.5 1090.9,276.4 1092.4,276.2 1093.9,276.1 1095.4,276.0 1096.9,275.9 1098.4,275.8 1099.9,275.7 1101.4,275.7 1102.9,275.6 1104.4,275.6 1105.9,275.6 1107.4,275.6 1108.9,275.6 1110.4,275.6 1111.9,275.6 1113.4,275.6 1114.9,275.6 1116.4,275.6 1117.9,275.6 1119.4,275.6 1120.9,275.7 1122.3,275.9 1123.8,276.1 1125.3,276.3 1126.8,276.5 1128.3,276.7 1129.8,276.9 1131.3,277.0 1132.8,277.1 1134.3,277.2 1135.8,277.3 1137.3,277.4 1138.7,277.5 1140.2,277.7 1141.7,277.8 1143.2,277.9 1144.7,278.1 1146.2,278.3 1147.7,278.5 1149.2,278.8 1150.6,279.0 1152.1,279.3 1153.6,279.6 1155.1,279.8 1156.5,280.1 1158.0,280.3 1159.5,280.6 1161.0,280.8 1162.5,281.0 1164.0,281.2 1165.5,281.4 1166.9,281.5 1168.4,281.7 1169.9,281.9 1171.4,282.1 1172.9,282.2 1174.4,282.4 1175.9,282.5 1177.4,282.7 1178.9,282.8 1180.4,282.9 1181.9,283.0 1183.4,283.1 1184.9,283.2 1186.4,283.3 1187.9,283.4 1189.4,283.4 1190.9,283.5 1192.4,283.5 1193.9,283.6 1195.4,283.6 1196.9,283.7 1198.4,283.7 1199.9,283.8 1201.4,283.8 1202.9,283.9 1204.4,283.9 1205.8,284.0 1207.3,284.0 1208.8,284.1 1210.3,284.2 1211.8,284.3 1213.3,284.3 1214.8,284.4 1216.3,284.5 1217.8,284.6 1219.3,284.7 1220.8,284.8 1222.3,284.9 1223.8,285.0 1225.3,285.0 1226.8,285.1 1228.3,285.2 1229.8,285.2 1231.3,285.3 1232.8,285.3 1234.3,285.3 1235.8,285.3 1237.3,285.4 1238.8,285.4 1240.3,285.4 1241.8,285.4 1243.3,285.4 1244.8,285.4 1246.3,285.5 1247.8,285.5 1249.3,285.5 1250.8,285.5 1252.3,285.5 1253.8,285.5 1255.3,285.5 1256.8,285.5 1258.3,285.6 1259.8,285.6 1261.3,285.6 1262.8,285.6 1264.3,285.6 1265.8,285.6 1267.3,285.6 1268.8,285.6 1270.3,285.6 1271.8,285.6 1273.3,285.6 1274.8,285.6 1276.3,285.6 1277.8,285.6 1279.3,285.6 1280.8,285.6 1282.3,285.6 1283.8,285.6 1285.3,285.5 1286.8,285.5 1288.3,285.5 1289.8,285.5 1291.3,285.5 1292.8,285.5 1294.3,285.5 1295.8,285.4 1297.3,285.4 1298.8,285.4 1300.3,285.4 1301.8,285.4 1303.3,285.4 1304.8,285.4 1306.3,285.3 1307.8,285.3 1309.3,285.3 1310.8,285.3 1312.3,285.3 1313.8,285.3 1315.3,285.3 1316.8,285.2 1318.3,285.2 1319.8,285.2 1321.3,285.2 1322.8,285.2 1324.3,285.2 1325.8,285.1 1327.3,285.1 1328.8,285.1 1330.3,285.1 1331.8,285.1 1333.3,285.0 1334.8,285.0 1336.3,285.0 1337.8,285.0 1339.3,285.0 1340.8,284.9 1342.3,284.9 1343.8,284.9 1345.3,284.9 1346.8,284.8 1348.3,284.8 1349.8,284.8 1351.3,284.7 1352.8,284.7 1354.3,284.7 1355.8,284.6 1357.3,284.6 1358.8,284.5 1360.3,284.5 1361.8,284.4 1363.3,284.3 1364.8,284.3 1366.3,284.2 1367.8,284.2 1369.3,284.1 1370.8,284.0 1372.3,284.0 1373.8,283.9 1375.3,283.8 1376.8,283.8 1378.3,283.7 1379.8,283.6 1381.3,283.6 1382.8,283.5 1384.3,283.5 1385.8,283.4 1387.3,283.4 1388.8,283.3 1390.3,283.2 1391.8,283.2 1393.3,283.1 1394.8,283.1 1396.3,283.0 1397.8,283.0 1399.3,282.9 1400.8,282.8 1402.3,282.8 1403.8,282.7 1405.3,282.6 1406.8,282.5 1408.3,282.5 1409.8,282.4 1411.3,282.3 1412.8,282.2 1414.3,282.1 1415.7,282.0 1417.2,281.9 1418.7,281.8 1420.2,281.7 1421.7,281.6 1423.2,281.4 1424.7,281.3 1426.2,281.1 1427.7,281.0 1429.2,280.8 1430.7,280.7 1432.2,280.5 1433.7,280.4 1435.2,280.2 1436.7,280.0 1438.1,279.9 1439.6,279.7 1441.1,279.5 1442.6,279.3 1444.1,279.2 1445.6,279.0 1447.1,278.8 1448.6,278.6 1450.1,278.5 1451.5,278.3 1453.0,278.1 1454.5,277.9 1456.0,277.7 1457.5,277.5 1459.0,277.3 1460.5,277.1 1462.0,276.8 1463.4,276.6 1464.9,276.4 1466.4,276.2 1467.9,275.9 1469.4,275.7 1470.8,275.4 1472.3,275.2 1473.8,274.9 1475.2,274.5 1476.6,273.9 1477.9,273.2 1479.1,272.4 1480.3,271.5 1481.5,270.6 1482.7,269.7 1484.0,269.0 1485.3,268.5 1486.6,268.4 1488.0,268.7 1489.4,269.3 1490.6,270.0 1491.9,270.9 1493.1,271.8 1494.3,272.7 1495.5,273.5 1496.8,274.3 1498.1,274.9 1499.5,275.4 1501.0,275.7 1502.4,276.0 1503.9,276.2 1505.4,276.4 1506.9,276.5 1508.4,276.7 1509.9,276.8 1511.4,276.9 1512.9,277.0 1514.4,277.1 1515.9,277.3 1517.4,277.4 1518.9,277.6 1520.3,277.7 1521.8,277.9 1523.3,278.1 1524.8,278.3 1526.3,278.5 1527.8,278.7 1529.3,278.8 1530.8,279.0 1532.3,279.2 1533.7,279.4 1535.2,279.6 1536.7,279.7 1538.2,279.9 1539.7,280.1 1541.2,280.2 1542.7,280.4 1544.2,280.6 1545.7,280.7 1547.2,280.9 1548.7,281.0 1550.1,281.1 1551.6,281.3 1553.1,281.4 1554.6,281.6 1556.1,281.7 1557.6,281.8 1559.1,282.0 1560.6,282.1 1562.1,282.2 1563.6,282.4 1565.1,282.5 1566.6,282.6 1568.1,282.7 1569.6,282.8 1571.1,282.9 1572.6,283.0 1574.1,283.1 1575.6,283.2 1577.1,283.3 1578.6,283.4 1580.0,283.5 1581.5,283.6 1583.0,283.7 1584.5,283.8 1586.0,283.9 1587.5,284.0 1589.0,284.1 1590.5,284.2 1592.0,284.2 1593.5,284.3 1595.0,284.4 1596.5,284.5 1598.0,284.5 1599.5,284.6 1601.0,284.7 1602.5,284.7 1604.0,284.8 1605.5,284.8 1607.0,284.9 1608.5,284.9 1610.0,285.0 1611.5,285.0 1613.0,285.1 1614.5,285.1 1616.0,285.1 1617.5,285.2 1619.0,285.2 1620.5,285.3 1622.0,285.3 1623.5,285.3 1625.0,285.4 1626.5,285.4 1628.0,285.4 1629.5,285.5 1631.0,285.5 1632.5,285.5 1634.0,285.6 1635.5,285.6 1637.0,285.6 1638.5,285.6 1640.0,285.6 1641.5,285.7 1643.0,285.7 1644.5,285.7 1646.0,285.7 1647.5,285.7 1649.0,285.7 1650.5,285.7 1652.0,285.7 1653.5,285.7 1655.0,285.7 1656.5,285.7 1658.0,285.7 1659.5,285.7 1661.0,285.7 1662.5,285.7 1664.0,285.7 1665.5,285.7 1667.0,285.7 1668.5,285.7 1670.0,285.7 1671.5,285.7 1673.0,285.7 1674.5,285.7 1676.0,285.7 1677.5,285.7 1679.0,285.7 1680.5,285.7 1682.0,285.7 1683.5,285.7 1685.0,285.6 1686.5,285.6 1688.0,285.6 1689.5,285.6 1691.0,285.6 1692.5,285.6 1694.0,285.6 1695.5,285.6 1697.0,285.6 1698.5,285.6 1700.0,285.6 1701.5,285.6 1703.0,285.6 1704.5,285.5 1706.0,285.5 1707.5,285.5 1709.0,285.5 1710.5,285.4 1712.0,285.4 1713.5,285.3 1715.0,285.3 1716.5,285.3 1718.0,285.2 1719.5,285.2 1721.0,285.1 1722.5,285.1 1724.0,285.0 1725.5,285.0 1727.0,284.9 1728.5,284.9 1730.0,284.8 1731.5,284.8 1733.0,284.7 1734.5,284.7 1736.0,284.6 1737.5,284.6 1739.0,284.5 1740.5,284.5 1742.0,284.4 1743.5,284.3 1745.0,284.3 1746.5,284.2 1748.0,284.1 1749.5,284.1 1751.0,284.0 1752.5,283.9 1754.0,283.8 1755.5,283.8 1757.0,283.7 1758.5,283.6 1760.0,283.5 1761.5,283.4 1763.0,283.3 1764.5,283.2 1765.9,283.1 1767.4,283.0 1768.9,282.8 1770.4,282.7 1771.9,282.6 1773.4,282.4 1774.9,282.2 1776.4,282.1 1777.9,281.9 1779.4,281.7 1780.9,281.5 1782.4,281.4 1783.8,281.2 1785.3,281.0 1786.8,280.8 1788.3,280.6 1789.8,280.4 1791.3,280.2 1792.8,280.0 1794.3,279.8 1795.7,279.6 1797.2,279.4 1798.7,279.2 1800.2,278.9 1801.7,278.7 1803.2,278.5 1804.6,278.3 1806.1,278.0 1807.6,277.8 1809.1,277.5 1810.6,277.3 1812.0,277.0 1813.5,276.8 1815.0,276.5 1816.5,276.3 1818.0,276.0 1819.4,275.8 1820.9,275.5 1822.4,275.2 1823.9,275.0 1825.3,274.7 1826.8,274.5 1828.3,274.2 1829.8,274.0 1831.2,273.7 1832.7,273.4 1834.2,273.1 1835.7,272.8 1837.1,272.4 1838.6,272.1 1840.0,271.8 1841.5,271.4 1843.0,271.1 1844.4,270.8 1845.9,270.5 1847.4,270.2 1848.9,270.0 1850.3,269.7 1851.8,269.5 1853.3,269.3 1854.8,269.1 1856.3,269.0 1857.8,268.9 1859.3,268.8 1860.8,268.8 1862.3,268.8 1863.8,268.8 1865.3,268.8 1866.8,268.8 1868.3,268.8 1869.8,268.8 1871.3,268.8 1872.8,268.8 1874.3,268.8 1875.8,268.8 1877.3,268.8 1878.8,268.9 1880.3,268.9 1881.8,268.9 1883.3,268.9 1884.8,269.0 1886.3,269.1 1887.8,269.3 1889.2,269.6 1890.7,269.9 1892.1,270.3 1893.6,270.7 1895.0,271.1 1896.4,271.5 1897.9,271.9 1899.4,272.3 1900.8,272.6 1902.3,272.9 1903.8,273.1 1905.3,273.3 1906.7,273.5 1908.2,273.8 1909.7,274.0 1911.2,274.2 1912.7,274.4 1914.2,274.5 1915.7,274.7 1917.2,274.9 1918.6,275.1 1920.1,275.3 1921.6,275.5 1923.1,275.7 1924.6,275.9 1926.1,276.1 1927.6,276.3 1929.1,276.5 1930.5,276.7 1932.0,276.9 1933.5,277.1 1935.0,277.3 1936.5,277.5 1938.0,277.7 1939.5,277.9 1940.9,278.1 1942.4,278.3 1943.9,278.5 1945.4,278.7 1946.9,278.8 1948.4,279.0 1949.9,279.2 1951.4,279.3 1952.9,279.5 1954.3,279.7 1955.8,279.9 1957.3,280.1 1958.8,280.2 1960.3,280.4 1961.8,280.6 1963.3,280.7 1964.8,280.9 1966.3,281.1 1967.8,281.2 1969.3,281.4 1970.7,281.5 1972.2,281.6 1973.7,281.8 1975.2,281.9 1976.7,282.0 1978.2,282.1 1979.7,282.1 1981.2,282.2 1982.7,282.2 1984.2,282.3 1985.7,282.3 1987.2,282.3 1988.7,282.3 1990.2,282.4 1991.7,282.4 1993.2,282.4 1994.7,282.4 1996.2,282.5 1997.7,282.5 1999.2,282.5 2000.7,282.6 2002.2,282.7 2003.7,282.7 2005.2,282.8 2006.7,282.9 2008.2,283.0 2009.7,283.0 2011.2,283.1 2012.7,283.2 2014.2,283.3 2015.7,283.4 2017.2,283.5 2018.7,283.5 2020.2,283.6 2021.7,283.7 2023.2,283.8 2024.7,283.8 2026.2,283.9 2027.7,283.9 2029.2,284.0 2030.7,284.0 2032.2,284.0 2033.7,284.0 2035.2,284.0 2036.7,284.0 2038.2,284.0 2039.7,284.0 2041.2,284.0 2042.7,284.0 2044.2,284.0 2045.7,284.0 2047.2,284.0 2048.7,284.0 2050.2,284.0 2051.7,284.0 2053.2,284.0 2054.7,284.0 2056.2,284.0 2057.7,284.0 2059.2,284.0 2060.7,284.0 2062.2,284.0 2063.7,284.0 2065.2,284.0 2066.7,284.0 2068.2,284.0 2069.7,284.0 2071.2,284.0 2072.7,284.0 2074.2,284.0 2075.7,284.0 2077.2,284.0 2078.7,284.0 2080.2,284.0 2081.7,284.0 2083.2,284.0 2084.7,284.0 2086.1,284.0 2087.4,284.0 2088.3,284.0" fill="none" stroke="#8000FF" stroke-width="4" stroke-linejoin="round" stroke-linecap="butt"/>
<path d="M188.9,533.7 189.9,533.8 191.1,533.8 192.6,533.9 194.1,534.0 195.6,534.0 197.1,534.0 198.6,533.9 200.1,533.8 201.6,533.7 203.1,533.5 204.5,533.2 206.0,532.9 207.4,532.5 208.8,532.0 210.2,531.4 211.6,530.8 212.9,530.1 214.3,529.5 215.7,529.0 217.1,528.5 218.6,528.2 220.0,527.9 221.5,527.6 223.0,527.3 224.4,527.0 225.9,526.7 227.3,526.3 228.8,525.9 230.2,525.4 231.6,525.0 233.1,524.5 234.5,524.0 235.9,523.6 237.3,523.1 238.8,522.6 240.2,522.1 241.6,521.6 243.0,521.0 244.4,520.4 245.7,519.8 247.0,519.1 248.3,518.3 249.5,517.4 250.6,516.4 251.8,515.5 252.9,514.5 254.1,513.6 255.4,512.8 256.6,512.0 257.9,511.2 259.1,510.4 260.3,509.4 261.4,508.4 262.4,507.3 263.4,506.2 264.3,505.0 265.2,503.8 266.1,502.6 266.9,501.4 267.7,500.1 268.5,498.8 269.2,497.5 270.0,496.2 270.7,494.9 271.4,493.5 272.0,492.2 272.7,490.9 273.4,489.5 274.0,488.2 274.7,486.8 275.3,485.4 275.9,484.1 276.6,482.7 277.1,481.3 277.7,479.9 278.3,478.6 278.8,477.2 279.4,475.8 279.9,474.4 280.4,472.9 280.9,471.5 281.3,470.1 281.8,468.7 282.2,467.2 282.7,465.8 283.1,464.4 283.6,462.9 284.0,461.5 284.4,460.1 284.9,458.6 285.3,457.2 285.7,455.8 286.1,454.3 286.6,452.9 287.0,451.4 287.4,450.0 287.8,448.5 288.2,447.1 288.5,445.6 288.9,444.2 289.3,442.7 289.7,441.3 290.1,439.8 290.4,438.4 290.8,436.9 291.2,435.5 291.5,434.0 291.9,432.6 292.2,431.1 292.6,429.6 292.9,428.2 293.2,426.7 293.5,425.2 293.8,423.8 294.1,422.3 294.4,420.8 294.7,419.4 295.0,417.9 295.2,416.4 295.5,414.9 295.7,413.4 296.0,412.0 296.2,410.5 296.5,409.0 296.7,407.5 296.9,406.0 297.1,404.6 297.3,403.1 297.5,401.6 297.7,400.1 297.9,398.6 298.2,397.1 298.4,395.6 298.7,394.2 299.0,392.7 299.3,391.2 299.5,389.8 299.8,388.3 300.0,386.8 300.2,385.3 300.5,383.8 300.7,382.3 301.0,380.9 301.2,379.4 301.5,377.9 301.8,376.4 302.0,375.0 302.3,373.5 302.6,372.0 302.9,370.5 303.1,369.1 303.4,367.6 303.6,366.1 303.8,364.6 304.0,363.1 304.2,361.6 304.4,360.2 304.6,358.7 304.9,357.2 305.1,355.7 305.3,354.2 305.5,352.7 305.7,351.3 305.9,349.8 306.1,348.3 306.4,346.8 306.6,345.3 306.8,343.8 307.1,342.4 307.3,340.9 307.5,339.4 307.8,337.9 308.0,336.4 308.3,335.0 308.5,333.5 308.8,332.0 309.2,330.5 309.5,329.1 309.9,327.6 310.2,326.2 310.6,324.7 311.0,323.3 311.5,321.9 312.0,320.4 312.5,319.0 313.1,317.7 313.7,316.3 314.4,315.0 315.1,313.8 316.1,313.0 317.1,312.7 318.1,313.2 319.1,314.1 319.9,315.3 320.5,316.6 321.1,318.0 321.6,319.4 322.0,320.8 322.4,322.3 322.7,323.8 322.9,325.3 323.2,326.7 323.5,328.2 323.7,329.7 324.0,331.2 324.3,332.6 324.6,334.1 324.9,335.6 325.2,337.0 325.4,338.5 325.7,340.0 326.0,341.5 326.3,342.9 326.6,344.4 326.9,345.9 327.2,347.3 327.5,348.8 327.8,350.3 328.1,351.8 328.4,353.2 328.7,354.7 329.0,356.2 329.3,357.6 329.6,359.1 329.9,360.6 330.2,362.0 330.5,363.5 330.8,365.0 331.1,366.5 331.4,367.9 331.6,369.4 331.9,370.9 332.2,372.3 332.5,373.8 332.7,375.3 333.0,376.8 333.3,378.3 333.5,379.7 333.8,381.2 334.1,382.7 334.4,384.1 334.7,385.6 335.0,387.1 335.3,388.6 335.6,390.0 335.9,391.5 336.1,393.0 336.4,394.5 336.7,395.9 336.9,397.4 337.1,398.9 337.3,400.4 337.5,401.9 337.7,403.4 337.9,404.8 338.1,406.3 338.3,407.8 338.6,409.3 338.8,410.8 339.0,412.3 339.2,413.7 339.4,415.2 339.7,416.7 339.9,418.2 340.1,419.7 340.4,421.2 340.6,422.6 340.9,424.1 341.1,425.6 341.4,427.1 341.7,428.5 341.9,430.0 342.2,431.5 342.5,433.0 342.8,434.4 343.1,435.9 343.4,437.4 343.7,438.8 344.0,440.3 344.4,441.8 344.7,443.2 345.0,444.7 345.4,446.2 345.7,447.6 346.1,449.1 346.5,450.5 346.8,452.0 347.2,453.4 347.6,454.9 348.0,456.3 348.4,457.8 348.9,459.2 349.4,460.6 349.8,462.0 350.3,463.4 350.8,464.9 351.4,466.3 351.9,467.7 352.5,469.0 353.1,470.4 353.6,471.8 354.2,473.2 354.9,474.6 355.5,475.9 356.1,477.3 356.7,478.6 357.4,480.0 358.0,481.3 358.7,482.7 359.4,484.0 360.1,485.4 360.8,486.7 361.5,488.0 362.2,489.3 362.9,490.7 363.6,492.0 364.4,493.3 365.1,494.6 365.8,495.9 366.5,497.2 367.3,498.5 368.0,499.8 368.8,501.1 369.6,502.4 370.5,503.6 371.3,504.8 372.3,506.0 373.2,507.2 374.2,508.3 375.2,509.4 376.2,510.5 377.3,511.5 378.5,512.5 379.7,513.4 380.8,514.3 382.0,515.2 383.2,516.2 384.3,517.2 385.4,518.2 386.5,519.3 387.6,520.3 388.7,521.2 390.0,522.0 391.2,522.8 392.6,523.5 393.9,524.1 395.3,524.7 396.7,525.3 398.1,525.8 399.5,526.3 400.9,526.8 402.4,527.2 403.8,527.7 405.2,528.1 406.7,528.5 408.1,529.0 409.5,529.5 410.9,530.0 412.4,530.5 413.8,531.0 415.2,531.5 416.6,532.0 418.0,532.4 419.5,532.8 420.9,533.2 422.4,533.5 423.9,533.7 425.4,533.9 426.9,534.1 428.3,534.2 429.8,534.4 431.3,534.5 432.8,534.6 434.3,534.8 435.8,534.9 437.3,535.0 438.8,535.2 440.3,535.3 441.8,535.4 443.3,535.5 444.8,535.6 446.3,535.7 447.8,535.8 449.3,535.9 450.8,536.0 452.3,536.1 453.8,536.2 455.3,536.2 456.8,536.3 458.3,536.4 459.8,536.4 461.3,536.4 462.8,536.4 464.3,536.4 465.8,536.3 467.3,536.3 468.8,536.2 470.3,536.2 471.8,536.1 473.2,535.9 474.7,535.6 476.1,535.2 477.5,534.7 479.0,534.3 480.4,534.1 481.9,534.0 483.4,534.0 484.9,534.0 486.4,534.1 487.9,534.1 489.4,534.3 490.9,534.5 492.3,534.8 493.8,535.1 495.3,535.4 496.7,535.7 498.2,535.9 499.7,536.1 501.2,536.2 502.7,536.3 504.2,536.4 505.7,536.5 507.2,536.5 508.7,536.6 510.2,536.6 511.7,536.7 513.2,536.7 514.7,536.7 516.2,536.8 517.7,536.8 519.2,536.9 520.7,536.9 522.2,536.9 523.7,537.0 525.2,537.0 526.7,537.0 528.2,537.1 529.7,537.1 531.2,537.1 532.7,537.2 534.2,537.2 535.7,537.2 537.2,537.2 538.7,537.3 540.2,537.3 541.7,537.3 543.2,537.4 544.7,537.4 546.2,537.4 547.7,537.4 549.2,537.4 550.7,537.5 552.2,537.5 553.7,537.5 555.2,537.5 556.7,537.5 558.2,537.6 559.7,537.6 561.2,537.6 562.7,537.6 564.2,537.6 565.7,537.6 567.2,537.6 568.7,537.7 570.2,537.7 571.7,537.7 573.2,537.7 574.7,537.7 576.2,537.7 577.7,537.7 579.2,537.7 580.7,537.7 582.2,537.7 583.7,537.7 585.2,537.7 586.7,537.7 588.2,537.7 589.7,537.7 591.2,537.7 592.7,537.7 594.2,537.7 595.7,537.7 597.2,537.7 598.7,537.7 600.2,537.7 601.7,537.7 603.2,537.7 604.7,537.7 606.2,537.6 607.7,537.6 609.2,537.6 610.7,537.6 612.2,537.6 613.7,537.6 615.2,537.6 616.7,537.6 618.2,537.6 619.7,537.6 621.2,537.6 622.7,537.6 624.2,537.6 625.7,537.5 627.2,537.5 628.7,537.5 630.2,537.5 631.7,537.5 633.2,537.5 634.7,537.5 636.2,537.5 637.7,537.5 639.2,537.4 640.7,537.4 642.2,537.4 643.7,537.4 645.2,537.4 646.7,537.4 648.2,537.4 649.7,537.4 651.2,537.4 652.7,537.3 654.2,537.3 655.7,537.3 657.2,537.3 658.7,537.3 660.2,537.3 661.7,537.3 663.2,537.3 664.7,537.2 666.2,537.2 667.7,537.2 669.2,537.2 670.7,537.2 672.2,537.2 673.7,537.2 675.2,537.2 676.7,537.2 678.2,537.1 679.7,537.1 681.2,537.1 682.7,537.1 684.2,537.1 685.7,537.1 687.2,537.1 688.7,537.1 690.2,537.1 691.7,537.0 693.2,537.0 694.7,537.0 696.2,537.0 697.7,537.0 699.2,537.0 700.7,537.0 702.2,537.0 703.7,537.0 705.2,537.0 706.7,537.0 708.2,537.0 709.7,536.9 711.2,536.9 712.7,536.9 714.2,536.9 715.7,536.9 717.2,536.9 718.7,536.9 720.2,536.9 721.7,536.9 723.2,536.9 724.7,536.9 726.2,536.9 727.7,536.9 729.2,536.9 730.7,536.8 732.2,536.8 733.7,536.8 735.2,536.8 736.7,536.8 738.2,536.8 739.7,536.8 741.2,536.8 742.7,536.8 744.2,536.8 745.7,536.8 747.2,536.8 748.7,536.8 750.2,536.8 751.7,536.7 753.2,536.7 754.7,536.7 756.2,536.7 757.7,536.7 759.2,536.7 760.7,536.7 762.2,536.7 763.7,536.7 765.2,536.7 766.7,536.7 768.2,536.7 769.7,536.6 771.2,536.6 772.7,536.6 774.2,536.6 775.7,536.6 777.2,536.6 778.7,536.6 780.2,536.6 781.7,536.6 783.2,536.6 784.7,536.5 786.2,536.5 787.7,536.5 789.2,536.5 790.7,536.5 792.2,536.5 793.7,536.5 795.2,536.4 796.7,536.4 798.2,536.4 799.7,536.4 801.2,536.4 802.7,536.4 804.2,536.4 805.7,536.3 807.2,536.3 808.7,536.3 810.2,536.3 811.7,536.3 813.2,536.3 814.7,536.2 816.2,536.2 817.7,536.2 819.2,536.2 820.7,536.2 822.2,536.1 823.7,536.1 825.2,536.1 826.7,536.1 828.2,536.1 829.7,536.1 831.2,536.0 832.7,536.0 834.2,536.0 835.7,536.0 837.2,536.0 838.7,535.9 840.2,535.9 841.7,535.9 843.2,535.9 844.7,535.9 846.2,535.9 847.7,535.8 849.2,535.8 850.7,535.8 852.2,535.8 853.7,535.8 855.2,535.8 856.7,535.7 858.2,535.7 859.7,535.7 861.2,535.7 862.7,535.7 864.2,535.7 865.7,535.7 867.2,535.7 868.7,535.6 870.2,535.6 871.7,535.6 873.2,535.6 874.7,535.6 876.2,535.6 877.7,535.6 879.2,535.6 880.7,535.6 882.2,535.5 883.7,535.5 885.2,535.5 886.7,535.5 888.2,535.5 889.7,535.5 891.2,535.5 892.7,535.5 894.2,535.5 895.7,535.5 897.2,535.5 898.7,535.5 900.2,535.5 901.7,535.5 903.2,535.5 904.7,535.5 906.2,535.5 907.7,535.5 909.2,535.5 910.7,535.5 912.2,535.5 913.7,535.5 915.2,535.5 916.7,535.5 918.2,535.5 919.7,535.5 921.2,535.5 922.7,535.5 924.2,535.6 925.7,535.6 927.2,535.6 928.7,535.6 930.2,535.6 931.7,535.6 933.2,535.6 934.7,535.6 936.2,535.6 937.7,535.6 939.2,535.6 940.7,535.6 942.2,535.7 943.7,535.7 945.2,535.7 946.7,535.7 948.2,535.7 949.7,535.7 951.2,535.7 952.7,535.7 954.2,535.7 955.7,535.8 957.2,535.8 958.7,535.8 960.2,535.9 961.7,535.9 963.2,535.9 964.7,536.0 966.2,536.0 967.7,536.0 969.2,536.1 970.7,536.1 972.2,536.1 973.7,536.2 975.2,536.2 976.7,536.2 978.2,536.3 979.7,536.3 981.2,536.3 982.7,536.3 984.2,536.4 985.7,536.4 987.2,536.4 988.7,536.4 990.2,536.4 991.7,536.4 993.2,536.4 994.7,536.3 996.2,536.3 997.7,536.3 999.2,536.2 1000.7,536.2 1002.2,536.1 1003.7,536.0 1005.2,535.9 1006.7,535.8 1008.2,535.8 1009.7,535.7 1011.2,535.6 1012.7,535.5 1014.1,535.4 1015.6,535.3 1017.1,535.2 1018.6,535.1 1020.1,535.0 1021.6,534.9 1023.1,534.8 1024.6,534.7 1026.1,534.5 1027.6,534.4 1029.1,534.2 1030.6,534.1 1032.1,533.9 1033.6,533.8 1035.1,533.6 1036.6,533.4 1038.1,533.3 1039.5,533.2 1041.0,533.1 1042.5,533.0 1044.0,532.9 1045.5,532.9 1047.0,532.9 1048.5,533.0 1050.0,533.2 1051.5,533.4 1053.0,533.5 1054.5,533.7 1056.0,533.6 1057.4,533.5 1058.9,533.2 1060.3,532.8 1061.7,532.3 1063.1,531.7 1064.5,531.2 1065.9,530.6 1067.3,530.1 1068.7,529.6 1070.2,529.2 1071.6,528.8 1073.1,528.5 1074.6,528.2 1076.0,527.9 1077.5,527.6 1079.0,527.4 1080.5,527.2 1082.0,526.9 1083.4,526.7 1084.9,526.4 1086.4,526.2 1087.9,525.9 1089.3,525.6 1090.8,525.2 1092.2,524.8 1093.7,524.4 1095.1,524.0 1096.6,523.7 1098.0,523.3 1099.5,523.1 1101.0,522.8 1102.5,522.7 1104.0,522.7 1105.5,522.7 1107.0,522.7 1108.5,522.8 1110.0,522.8 1111.5,522.9 1113.0,523.0 1114.5,523.1 1116.0,523.3 1117.5,523.4 1119.0,523.4 1120.5,523.5 1122.0,523.6 1123.4,523.7 1124.9,523.7 1126.4,523.8 1127.9,523.9 1129.4,524.1 1130.9,524.3 1132.4,524.6 1133.9,524.9 1135.3,525.2 1136.8,525.6 1138.2,526.0 1139.7,526.4 1141.1,526.8 1142.6,527.1 1144.0,527.5 1145.5,527.8 1146.9,528.2 1148.4,528.6 1149.8,528.9 1151.3,529.3 1152.8,529.7 1154.2,530.0 1155.7,530.3 1157.1,530.6 1158.6,530.9 1160.1,531.1 1161.6,531.3 1163.1,531.5 1164.6,531.6 1166.1,531.7 1167.6,531.9 1169.1,532.0 1170.6,532.1 1172.1,532.2 1173.5,532.4 1175.0,532.6 1176.5,532.8 1177.9,533.2 1179.4,533.7 1180.8,534.2 1182.2,534.7 1183.6,535.0 1185.1,535.2 1186.6,535.3 1188.1,535.4 1189.6,535.4 1191.1,535.4 1192.6,535.4 1194.1,535.5 1195.6,535.5 1197.1,535.5 1198.6,535.5 1200.1,535.5 1201.6,535.5 1203.1,535.5 1204.6,535.5 1206.1,535.6 1207.6,535.6 1209.1,535.6 1210.6,535.6 1212.1,535.7 1213.6,535.7 1215.1,535.7 1216.6,535.8 1218.1,535.8 1219.6,535.8 1221.1,535.9 1222.6,535.9 1224.1,535.9 1225.6,536.0 1227.1,536.0 1228.6,536.0 1230.1,536.1 1231.6,536.1 1233.1,536.2 1234.6,536.2 1236.1,536.3 1237.6,536.3 1239.1,536.3 1240.6,536.4 1242.1,536.4 1243.6,536.5 1245.1,536.5 1246.6,536.6 1248.1,536.7 1249.6,536.7 1251.1,536.8 1252.6,536.9 1254.1,536.9 1255.6,537.0 1257.1,537.0 1258.6,537.1 1260.0,537.1 1261.5,537.2 1263.0,537.2 1264.5,537.2 1266.0,537.2 1267.5,537.2 1269.0,537.2 1270.5,537.2 1272.0,537.2 1273.5,537.2 1275.0,537.2 1276.5,537.2 1278.0,537.2 1279.5,537.2 1281.0,537.1 1282.5,537.1 1284.0,537.1 1285.5,537.1 1287.0,537.1 1288.5,537.1 1290.0,537.1 1291.5,537.1 1293.0,537.1 1294.5,537.0 1296.0,537.0 1297.5,537.0 1299.0,537.0 1300.5,537.0 1302.0,537.0 1303.5,537.0 1305.0,537.0 1306.5,536.9 1308.0,536.9 1309.5,536.9 1311.0,536.9 1312.5,536.9 1314.0,536.9 1315.5,536.8 1317.0,536.8 1318.5,536.8 1320.0,536.8 1321.5,536.8 1323.0,536.7 1324.5,536.7 1326.0,536.7 1327.5,536.7 1329.0,536.6 1330.5,536.6 1332.0,536.6 1333.5,536.6 1335.0,536.6 1336.5,536.5 1338.0,536.5 1339.5,536.5 1341.0,536.5 1342.5,536.5 1344.0,536.5 1345.5,536.4 1347.0,536.4 1348.5,536.4 1350.0,536.4 1351.5,536.4 1353.0,536.3 1354.5,536.3 1356.0,536.3 1357.5,536.3 1359.0,536.2 1360.5,536.2 1362.0,536.2 1363.5,536.1 1365.0,536.1 1366.5,536.0 1368.0,536.0 1369.5,535.9 1371.0,535.8 1372.5,535.7 1374.0,535.6 1375.5,535.4 1377.0,535.3 1378.5,535.2 1380.0,535.0 1381.5,534.9 1383.0,534.8 1384.5,534.6 1386.0,534.5 1387.5,534.4 1389.0,534.3 1390.5,534.2 1392.0,534.1 1393.5,534.1 1395.0,534.1 1396.5,534.1 1397.9,534.2 1399.4,534.4 1400.9,534.7 1402.4,535.0 1403.8,535.2 1405.3,535.3 1406.8,535.3 1408.3,535.3 1409.8,535.2 1411.3,535.0 1412.8,534.9 1414.3,534.7 1415.8,534.5 1417.3,534.3 1418.7,534.1 1420.2,533.8 1421.7,533.6 1423.2,533.4 1424.7,533.1 1426.2,532.9 1427.6,532.7 1429.1,532.5 1430.6,532.4 1432.1,532.2 1433.6,532.1 1435.1,532.0 1436.6,531.8 1438.1,531.7 1439.6,531.6 1441.1,531.5 1442.6,531.4 1444.1,531.2 1445.6,531.1 1447.1,530.9 1448.5,530.7 1450.0,530.5 1451.5,530.2 1453.0,529.9 1454.4,529.5 1455.7,528.9 1457.1,528.2 1458.4,527.5 1459.7,526.8 1461.1,526.3 1462.5,525.9 1464.0,525.6 1465.4,525.4 1466.9,525.2 1468.4,525.1 1469.9,525.0 1471.4,524.8 1472.9,524.8 1474.4,524.7 1475.9,524.6 1477.4,524.6 1478.9,524.6 1480.4,524.7 1481.9,524.7 1483.4,524.8 1484.9,524.9 1486.4,525.0 1487.9,525.2 1489.4,525.3 1490.9,525.4 1492.4,525.5 1493.9,525.7 1495.4,525.8 1496.9,525.9 1498.4,526.1 1499.8,526.2 1501.3,526.3 1502.8,526.5 1504.3,526.6 1505.8,526.8 1507.3,526.9 1508.8,527.1 1510.3,527.3 1511.8,527.5 1513.2,527.8 1514.7,528.1 1516.2,528.4 1517.7,528.7 1519.1,529.0 1520.6,529.3 1522.1,529.6 1523.5,529.9 1525.0,530.2 1526.5,530.4 1528.0,530.6 1529.5,530.8 1531.0,530.9 1532.4,531.1 1533.9,531.3 1535.4,531.4 1536.9,531.6 1538.4,531.7 1539.9,531.9 1541.4,532.0 1542.9,532.2 1544.4,532.3 1545.9,532.4 1547.4,532.5 1548.9,532.6 1550.4,532.7 1551.9,532.8 1553.4,532.9 1554.9,533.0 1556.4,533.1 1557.9,533.2 1559.4,533.2 1560.9,533.3 1562.4,533.3 1563.9,533.4 1565.4,533.4 1566.9,533.4 1568.4,533.5 1569.8,533.5 1571.3,533.5 1572.8,533.6 1574.3,533.6 1575.8,533.6 1577.3,533.6 1578.8,533.7 1580.3,533.7 1581.8,533.7 1583.3,533.8 1584.8,533.8 1586.3,533.8 1587.8,533.9 1589.3,533.9 1590.8,534.0 1592.3,534.1 1593.8,534.2 1595.3,534.3 1596.8,534.5 1598.3,534.7 1599.8,534.9 1601.3,535.1 1602.8,535.3 1604.2,535.5 1605.7,535.8 1607.2,536.0 1608.7,536.2 1610.2,536.4 1611.7,536.6 1613.2,536.8 1614.7,536.9 1616.1,537.0 1617.6,537.1 1619.1,537.2 1620.6,537.2 1622.1,537.2 1623.6,537.2 1625.1,537.1 1626.6,537.1 1628.1,537.1 1629.6,537.0 1631.1,537.0 1632.6,536.9 1634.1,536.8 1635.6,536.8 1637.1,536.7 1638.6,536.7 1640.1,536.6 1641.6,536.6 1643.1,536.5 1644.6,536.5 1646.1,536.4 1647.6,536.4 1649.1,536.4 1650.6,536.4 1652.1,536.4 1653.6,536.4 1655.1,536.5 1656.6,536.5 1658.1,536.5 1659.6,536.6 1661.1,536.6 1662.6,536.7 1664.1,536.7 1665.6,536.8 1667.1,536.8 1668.6,536.9 1670.1,536.9 1671.6,537.0 1673.1,537.0 1674.6,537.1 1676.1,537.1 1677.6,537.1 1679.1,537.2 1680.6,537.2 1682.1,537.2 1683.6,537.2 1685.1,537.2 1686.6,537.2 1688.1,537.2 1689.6,537.2 1691.1,537.2 1692.6,537.2 1694.1,537.1 1695.6,537.1 1697.1,537.1 1698.6,537.1 1700.1,537.1 1701.6,537.1 1703.1,537.0 1704.6,537.0 1706.1,537.0 1707.6,537.0 1709.1,537.0 1710.6,537.0 1712.1,536.9 1713.6,536.9 1715.1,536.9 1716.6,536.9 1718.1,536.9 1719.6,536.8 1721.1,536.8 1722.6,536.8 1724.1,536.7 1725.6,536.7 1727.1,536.7 1728.6,536.7 1730.1,536.6 1731.6,536.6 1733.1,536.6 1734.6,536.5 1736.1,536.5 1737.6,536.5 1739.1,536.4 1740.6,536.4 1742.1,536.3 1743.6,536.3 1745.1,536.3 1746.6,536.2 1748.1,536.2 1749.6,536.1 1751.1,536.1 1752.6,536.0 1754.1,536.0 1755.6,535.9 1757.1,535.9 1758.6,535.8 1760.1,535.8 1761.6,535.7 1763.1,535.6 1764.6,535.6 1766.1,535.5 1767.6,535.4 1769.1,535.4 1770.6,535.3 1772.1,535.2 1773.6,535.1 1775.1,535.0 1776.6,535.0 1778.1,534.9 1779.6,534.8 1781.1,534.7 1782.6,534.6 1784.1,534.5 1785.6,534.4 1787.1,534.3 1788.6,534.1 1790.0,534.0 1791.5,533.9 1793.0,533.7 1794.5,533.6 1796.0,533.4 1797.5,533.2 1799.0,533.1 1800.5,532.9 1802.0,532.7 1803.5,532.5 1804.9,532.3 1806.4,532.1 1807.9,531.8 1809.4,531.6 1810.9,531.3 1812.3,531.0 1813.8,530.7 1815.3,530.4 1816.7,530.0 1818.2,529.7 1819.7,529.4 1821.1,529.0 1822.6,528.6 1824.0,528.3 1825.5,527.9 1826.9,527.5 1828.4,527.1 1829.8,526.7 1831.2,526.2 1832.6,525.6 1834.0,525.1 1835.4,524.7 1836.9,524.3 1838.3,524.2 1839.8,524.3 1841.2,524.7 1842.6,525.1 1844.0,525.4 1845.5,525.4 1846.9,525.2 1848.4,524.9 1849.8,524.4 1851.2,523.9 1852.5,523.3 1853.9,522.6 1855.3,522.0 1856.6,521.4 1858.0,520.8 1859.4,520.2 1860.8,519.7 1862.2,519.4 1863.7,519.1 1865.2,519.0 1866.7,518.9 1868.2,518.9 1869.7,519.0 1871.2,519.0 1872.7,519.0 1874.2,519.1 1875.7,519.2 1877.2,519.2 1878.7,519.3 1880.2,519.4 1881.7,519.4 1883.2,519.5 1884.7,519.6 1886.2,519.7 1887.7,519.8 1889.2,519.9 1890.7,520.0 1892.1,520.2 1893.6,520.6 1895.0,521.1 1896.4,521.7 1897.7,522.3 1899.0,523.0 1900.4,523.6 1901.8,524.0 1903.3,524.4 1904.7,524.7 1906.2,524.9 1907.7,525.0 1909.2,525.2 1910.7,525.3 1912.2,525.5 1913.7,525.6 1915.2,525.7 1916.7,525.8 1918.2,525.9 1919.7,526.1 1921.2,526.2 1922.6,526.4 1924.1,526.6 1925.6,526.9 1927.1,527.2 1928.5,527.6 1930.0,528.0 1931.4,528.5 1932.8,529.0 1934.2,529.4 1935.6,529.9 1937.1,530.3 1938.5,530.7 1940.0,531.0 1941.5,531.2 1943.0,531.4 1944.5,531.5 1946.0,531.7 1947.5,531.8 1948.9,531.9 1950.4,532.0 1951.9,532.1 1953.4,532.2 1954.9,532.3 1956.4,532.4 1957.9,532.5 1959.4,532.5 1960.9,532.6 1962.4,532.7 1963.9,532.7 1965.4,532.8 1966.9,532.9 1968.4,533.0 1969.9,533.0 1971.4,533.1 1972.9,533.2 1974.4,533.2 1975.9,533.3 1977.4,533.4 1978.9,533.5 1980.4,533.5 1981.9,533.6 1983.4,533.7 1984.9,533.8 1986.4,533.8 1987.9,533.9 1989.4,534.0 1990.9,534.0 1992.4,534.1 1993.9,534.2 1995.4,534.2 1996.9,534.3 1998.4,534.3 1999.9,534.4 2001.4,534.4 2002.9,534.5 2004.4,534.5 2005.9,534.6 2007.4,534.6 2008.9,534.7 2010.4,534.7 2011.9,534.8 2013.4,534.8 2014.9,534.9 2016.4,534.9 2017.9,535.0 2019.4,535.0 2020.9,535.0 2022.4,535.1 2023.9,535.1 2025.4,535.2 2026.9,535.2 2028.4,535.2 2029.9,535.2 2031.4,535.3 2032.9,535.3 2034.4,535.3 2035.9,535.3 2037.4,535.4 2038.9,535.4 2040.4,535.4 2041.9,535.4 2043.4,535.4 2044.9,535.5 2046.4,535.5 2047.9,535.5 2049.4,535.5 2050.9,535.5 2052.4,535.6 2053.9,535.6 2055.4,535.6 2056.9,535.6 2058.4,535.6 2059.9,535.6 2061.4,535.7 2062.9,535.7 2064.4,535.7 2065.9,535.7 2067.4,535.7 2068.9,535.7 2070.4,535.7 2071.9,535.7 2073.4,535.7 2074.9,535.8 2076.4,535.8 2077.9,535.8 2079.4,535.8 2080.9,535.8 2082.4,535.8 2083.9,535.8 2085.3,535.8 2086.7,535.8 2087.8,535.8 2088.3,535.8" fill="none" stroke="#008000" stroke-width="7.4" stroke-linejoin="round" stroke-linecap="butt" shape-rendering="crispEdges"/>
<path d="M188.9,533.7 189.9,533.8 191.1,533.8 192.6,533.9 194.1,534.0 195.6,534.0 197.1,534.0 198.6,533.9 200.1,533.8 201.6,533.7 203.1,533.5 204.5,533.2 206.0,532.9 207.4,532.5 208.8,532.0 210.2,531.4 211.6,530.8 212.9,530.1 214.3,529.5 215.7,529.0 217.1,528.5 218.6,528.2 220.0,527.9 221.5,527.6 223.0,527.3 224.4,527.0 225.9,526.7 227.3,526.3 228.8,525.9 230.2,525.4 231.6,525.0 233.1,524.5 234.5,524.0 235.9,523.6 237.3,523.1 238.8,522.6 240.2,522.1 241.6,521.6 243.0,521.0 244.4,520.4 245.7,519.8 247.0,519.1 248.3,518.3 249.5,517.4 250.6,516.4 251.8,515.5 252.9,514.5 254.1,513.6 255.4,512.8 256.6,512.0 257.9,511.2 259.1,510.4 260.3,509.4 261.4,508.4 262.4,507.3 263.4,506.2 264.3,505.0 265.2,503.8 266.1,502.6 266.9,501.4 267.7,500.1 268.5,498.8 269.2,497.5 270.0,496.2 270.7,494.9 271.4,493.5 272.0,492.2 272.7,490.9 273.4,489.5 274.0,488.2 274.7,486.8 275.3,485.4 275.9,484.1 276.6,482.7 277.1,481.3 277.7,479.9 278.3,478.6 278.8,477.2 279.4,475.8 279.9,474.4 280.4,472.9 280.9,471.5 281.3,470.1 281.8,468.7 282.2,467.2 282.7,465.8 283.1,464.4 283.6,462.9 284.0,461.5 284.4,460.1 284.9,458.6 285.3,457.2 285.7,455.8 286.1,454.3 286.6,452.9 287.0,451.4 287.4,450.0 287.8,448.5 288.2,447.1 288.5,445.6 288.9,444.2 289.3,442.7 289.7,441.3 290.1,439.8 290.4,438.4 290.8,436.9 291.2,435.5 291.5,434.0 291.9,432.6 292.2,431.1 292.6,429.6 292.9,428.2 293.2,426.7 293.5,425.2 293.8,423.8 294.1,422.3 294.4,420.8 294.7,419.4 295.0,417.9 295.2,416.4 295.5,414.9 295.7,413.4 296.0,412.0 296.2,410.5 296.5,409.0 296.7,407.5 296.9,406.0 297.1,404.6 297.3,403.1 297.5,401.6 297.7,400.1 297.9,398.6 298.2,397.1 298.4,395.6 298.7,394.2 299.0,392.7 299.3,391.2 299.5,389.8 299.8,388.3 300.0,386.8 300.2,385.3 300.5,383.8 300.7,382.3 301.0,380.9 301.2,379.4 301.5,377.9 301.8,376.4 302.0,375.0 302.3,373.5 302.6,372.0 302.9,370.5 303.1,369.1 303.4,367.6 303.6,366.1 303.8,364.6 304.0,363.1 304.2,361.6 304.4,360.2 304.6,358.7 304.9,357.2 305.1,355.7 305.3,354.2 305.5,352.7 305.7,351.3 305.9,349.8 306.1,348.3 306.4,346.8 306.6,345.3 306.8,343.8 307.1,342.4 307.3,340.9 307.5,339.4 307.8,337.9 308.0,336.4 308.3,335.0 308.5,333.5 308.8,332.0 309.2,330.5 309.5,329.1 309.9,327.6 310.2,326.2 310.6,324.7 311.0,323.3 311.5,321.9 312.0,320.4 312.5,319.0 313.1,317.7 313.7,316.3 314.4,315.0 315.1,313.8 316.1,313.0 317.1,312.7 318.1,313.2 319.1,314.1 319.9,315.3 320.5,316.6 321.1,318.0 321.6,319.4 322.0,320.8 322.4,322.3 322.7,323.8 322.9,325.3 323.2,326.7 323.5,328.2 323.7,329.7 324.0,331.2 324.3,332.6 324.6,334.1 324.9,335.6 325.2,337.0 325.4,338.5 325.7,340.0 326.0,341.5 326.3,342.9 326.6,344.4 326.9,345.9 327.2,347.3 327.5,348.8 327.8,350.3 328.1,351.8 328.4,353.2 328.7,354.7 329.0,356.2 329.3,357.6 329.6,359.1 329.9,360.6 330.2,362.0 330.5,363.5 330.8,365.0 331.1,366.5 331.4,367.9 331.6,369.4 331.9,370.9 332.2,372.3 332.5,373.8 332.7,375.3 333.0,376.8 333.3,378.3 333.5,379.7 333.8,381.2 334.1,382.7 334.4,384.1 334.7,385.6 335.0,387.1 335.3,388.6 335.6,390.0 335.9,391.5 336.1,393.0 336.4,394.5 336.7,395.9 336.9,397.4 337.1,398.9 337.3,400.4 337.5,401.9 337.7,403.4 337.9,404.8 338.1,406.3 338.3,407.8 338.6,409.3 338.8,410.8 339.0,412.3 339.2,413.7 339.4,415.2 339.7,416.7 339.9,418.2 340.1,419.7 340.4,421.2 340.6,422.6 340.9,424.1 341.1,425.6 341.4,427.1 341.7,428.5 341.9,430.0 342.2,431.5 342.5,433.0 342.8,434.4 343.1,435.9 343.4,437.4 343.7,438.8 344.0,440.3 344.4,441.8 344.7,443.2 345.0,444.7 345.4,446.2 345.7,447.6 346.1,449.1 346.5,450.5 346.8,452.0 347.2,453.4 347.6,454.9 348.0,456.3 348.4,457.8 348.9,459.2 349.4,460.6 349.8,462.0 350.3,463.4 350.8,464.9 351.4,466.3 351.9,467.7 352.5,469.0 353.1,470.4 353.6,471.8 354.2,473.2 354.9,474.6 355.5,475.9 356.1,477.3 356.7,478.6 357.4,480.0 358.0,481.3 358.7,482.7 359.4,484.0 360.1,485.4 360.8,486.7 361.5,488.0 362.2,489.3 362.9,490.7 363.6,492.0 364.4,493.3 365.1,494.6 365.8,495.9 366.5,497.2 367.3,498.5 368.0,499.8 368.8,501.1 369.6,502.4 370.5,503.6 371.3,504.8 372.3,506.0 373.2,507.2 374.2,508.3 375.2,509.4 376.2,510.5 377.3,511.5 378.5,512.5 379.7,513.4 380.8,514.3 382.0,515.2 383.2,516.2 384.3,517.2 385.4,518.2 386.5,519.3 387.6,520.3 388.7,521.2 390.0,522.0 391.2,522.8 392.6,523.5 393.9,524.1 395.3,524.7 396.7,525.3 398.1,525.8 399.5,526.3 400.9,526.8 402.4,527.2 403.8,527.7 405.2,528.1 406.7,528.5 408.1,529.0 409.5,529.5 410.9,530.0 412.4,530.5 413.8,531.0 415.2,531.5 416.6,532.0 418.0,532.4 419.5,532.8 420.9,533.2 422.4,533.5 423.9,533.7 425.4,533.9 426.9,534.1 428.3,534.2 429.8,534.4 431.3,534.5 432.8,534.6 434.3,534.8 435.8,534.9 437.3,535.0 438.8,535.2 440.3,535.3 441.8,535.4 443.3,535.5 444.8,535.6 446.3,535.7 447.8,535.8 449.3,535.9 450.8,536.0 452.3,536.1 453.8,536.2 455.3,536.2 456.8,536.3 458.3,536.4 459.8,536.4 461.3,536.4 462.8,536.4 464.3,536.4 465.8,536.3 467.3,536.3 468.8,536.2 470.3,536.2 471.8,536.1 473.2,535.9 474.7,535.6 476.1,535.2 477.5,534.7 479.0,534.3 480.4,534.1 481.9,534.0 483.4,534.0 484.9,534.0 486.4,534.1 487.9,534.1 489.4,534.3 490.9,534.5 492.3,534.8 493.8,535.1 495.3,535.4 496.7,535.7 498.2,535.9 499.7,536.1 501.2,536.2 502.7,536.3 504.2,536.4 505.7,536.5 507.2,536.5 508.7,536.6 510.2,536.6 511.7,536.7 513.2,536.7 514.7,536.7 516.2,536.8 517.7,536.8 519.2,536.9 520.7,536.9 522.2,536.9 523.7,537.0 525.2,537.0 526.7,537.0 528.2,537.1 529.7,537.1 531.2,537.1 532.7,537.2 534.2,537.2 535.7,537.2 537.2,537.2 538.7,537.3 540.2,537.3 541.7,537.3 543.2,537.4 544.7,537.4 546.2,537.4 547.7,537.4 549.2,537.4 550.7,537.5 552.2,537.5 553.7,537.5 555.2,537.5 556.7,537.5 558.2,537.6 559.7,537.6 561.2,537.6 562.7,537.6 564.2,537.6 565.7,537.6 567.2,537.6 568.7,537.7 570.2,537.7 571.7,537.7 573.2,537.7 574.7,537.7 576.2,537.7 577.7,537.7 579.2,537.7 580.7,537.7 582.2,537.7 583.7,537.7 585.2,537.7 586.7,537.7 588.2,537.7 589.7,537.7 591.2,537.7 592.7,537.7 594.2,537.7 595.7,537.7 597.2,537.7 598.7,537.7 600.2,537.7 601.7,537.7 603.2,537.7 604.7,537.7 606.2,537.6 607.7,537.6 609.2,537.6 610.7,537.6 612.2,537.6 613.7,537.6 615.2,537.6 616.7,537.6 618.2,537.6 619.7,537.6 621.2,537.6 622.7,537.6 624.2,537.6 625.7,537.5 627.2,537.5 628.7,537.5 630.2,537.5 631.7,537.5 633.2,537.5 634.7,537.5 636.2,537.5 637.7,537.5 639.2,537.4 640.7,537.4 642.2,537.4 643.7,537.4 645.2,537.4 646.7,537.4 648.2,537.4 649.7,537.4 651.2,537.4 652.7,537.3 654.2,537.3 655.7,537.3 657.2,537.3 658.7,537.3 660.2,537.3 661.7,537.3 663.2,537.3 664.7,537.2 666.2,537.2 667.7,537.2 669.2,537.2 670.7,537.2 672.2,537.2 673.7,537.2 675.2,537.2 676.7,537.2 678.2,537.1 679.7,537.1 681.2,537.1 682.7,537.1 684.2,537.1 685.7,537.1 687.2,537.1 688.7,537.1 690.2,537.1 691.7,537.0 693.2,537.0 694.7,537.0 696.2,537.0 697.7,537.0 699.2,537.0 700.7,537.0 702.2,537.0 703.7,537.0 705.2,537.0 706.7,537.0 708.2,537.0 709.7,536.9 711.2,536.9 712.7,536.9 714.2,536.9 715.7,536.9 717.2,536.9 718.7,536.9 720.2,536.9 721.7,536.9 723.2,536.9 724.7,536.9 726.2,536.9 727.7,536.9 729.2,536.9 730.7,536.8 732.2,536.8 733.7,536.8 735.2,536.8 736.7,536.8 738.2,536.8 739.7,536.8 741.2,536.8 742.7,536.8 744.2,536.8 745.7,536.8 747.2,536.8 748.7,536.8 750.2,536.8 751.7,536.7 753.2,536.7 754.7,536.7 756.2,536.7 757.7,536.7 759.2,536.7 760.7,536.7 762.2,536.7 763.7,536.7 765.2,536.7 766.7,536.7 768.2,536.7 769.7,536.6 771.2,536.6 772.7,536.6 774.2,536.6 775.7,536.6 777.2,536.6 778.7,536.6 780.2,536.6 781.7,536.6 783.2,536.6 784.7,536.5 786.2,536.5 787.7,536.5 789.2,536.5 790.7,536.5 792.2,536.5 793.7,536.5 795.2,536.4 796.7,536.4 798.2,536.4 799.7,536.4 801.2,536.4 802.7,536.4 804.2,536.4 805.7,536.3 807.2,536.3 808.7,536.3 810.2,536.3 811.7,536.3 813.2,536.3 814.7,536.2 816.2,536.2 817.7,536.2 819.2,536.2 820.7,536.2 822.2,536.1 823.7,536.1 825.2,536.1 826.7,536.1 828.2,536.1 829.7,536.1 831.2,536.0 832.7,536.0 834.2,536.0 835.7,536.0 837.2,536.0 838.7,535.9 840.2,535.9 841.7,535.9 843.2,535.9 844.7,535.9 846.2,535.9 847.7,535.8 849.2,535.8 850.7,535.8 852.2,535.8 853.7,535.8 855.2,535.8 856.7,535.7 858.2,535.7 859.7,535.7 861.2,535.7 862.7,535.7 864.2,535.7 865.7,535.7 867.2,535.7 868.7,535.6 870.2,535.6 871.7,535.6 873.2,535.6 874.7,535.6 876.2,535.6 877.7,535.6 879.2,535.6 880.7,535.6 882.2,535.5 883.7,535.5 885.2,535.5 886.7,535.5 888.2,535.5 889.7,535.5 891.2,535.5 892.7,535.5 894.2,535.5 895.7,535.5 897.2,535.5 898.7,535.5 900.2,535.5 901.7,535.5 903.2,535.5 904.7,535.5 906.2,535.5 907.7,535.5 909.2,535.5 910.7,535.5 912.2,535.5 913.7,535.5 915.2,535.5 916.7,535.5 918.2,535.5 919.7,535.5 921.2,535.5 922.7,535.5 924.2,535.6 925.7,535.6 927.2,535.6 928.7,535.6 930.2,535.6 931.7,535.6 933.2,535.6 934.7,535.6 936.2,535.6 937.7,535.6 939.2,535.6 940.7,535.6 942.2,535.7 943.7,535.7 945.2,535.7 946.7,535.7 948.2,535.7 949.7,535.7 951.2,535.7 952.7,535.7 954.2,535.7 955.7,535.8 957.2,535.8 958.7,535.8 960.2,535.9 961.7,535.9 963.2,535.9 964.7,536.0 966.2,536.0 967.7,536.0 969.2,536.1 970.7,536.1 972.2,536.1 973.7,536.2 975.2,536.2 976.7,536.2 978.2,536.3 979.7,536.3 981.2,536.3 982.7,536.3 984.2,536.4 985.7,536.4 987.2,536.4 988.7,536.4 990.2,536.4 991.7,536.4 993.2,536.4 994.7,536.3 996.2,536.3 997.7,536.3 999.2,536.2 1000.7,536.2 1002.2,536.1 1003.7,536.0 1005.2,535.9 1006.7,535.8 1008.2,535.8 1009.7,535.7 1011.2,535.6 1012.7,535.5 1014.1,535.4 1015.6,535.3 1017.1,535.2 1018.6,535.1 1020.1,535.0 1021.6,534.9 1023.1,534.8 1024.6,534.7 1026.1,534.5 1027.6,534.4 1029.1,534.2 1030.6,534.1 1032.1,533.9 1033.6,533.8 1035.1,533.6 1036.6,533.4 1038.1,533.3 1039.5,533.2 1041.0,533.1 1042.5,533.0 1044.0,532.9 1045.5,532.9 1047.0,532.9 1048.5,533.0 1050.0,533.2 1051.5,533.4 1053.0,533.5 1054.5,533.7 1056.0,533.6 1057.4,533.5 1058.9,533.2 1060.3,532.8 1061.7,532.3 1063.1,531.7 1064.5,531.2 1065.9,530.6 1067.3,530.1 1068.7,529.6 1070.2,529.2 1071.6,528.8 1073.1,528.5 1074.6,528.2 1076.0,527.9 1077.5,527.6 1079.0,527.4 1080.5,527.2 1082.0,526.9 1083.4,526.7 1084.9,526.4 1086.4,526.2 1087.9,525.9 1089.3,525.6 1090.8,525.2 1092.2,524.8 1093.7,524.4 1095.1,524.0 1096.6,523.7 1098.0,523.3 1099.5,523.1 1101.0,522.8 1102.5,522.7 1104.0,522.7 1105.5,522.7 1107.0,522.7 1108.5,522.8 1110.0,522.8 1111.5,522.9 1113.0,523.0 1114.5,523.1 1116.0,523.3 1117.5,523.4 1119.0,523.4 1120.5,523.5 1122.0,523.6 1123.4,523.7 1124.9,523.7 1126.4,523.8 1127.9,523.9 1129.4,524.1 1130.9,524.3 1132.4,524.6 1133.9,524.9 1135.3,525.2 1136.8,525.6 1138.2,526.0 1139.7,526.4 1141.1,526.8 1142.6,527.1 1144.0,527.5 1145.5,527.8 1146.9,528.2 1148.4,528.6 1149.8,528.9 1151.3,529.3 1152.8,529.7 1154.2,530.0 1155.7,530.3 1157.1,530.6 1158.6,530.9 1160.1,531.1 1161.6,531.3 1163.1,531.5 1164.6,531.6 1166.1,531.7 1167.6,531.9 1169.1,532.0 1170.6,532.1 1172.1,532.2 1173.5,532.4 1175.0,532.6 1176.5,532.8 1177.9,533.2 1179.4,533.7 1180.8,534.2 1182.2,534.7 1183.6,535.0 1185.1,535.2 1186.6,535.3 1188.1,535.4 1189.6,535.4 1191.1,535.4 1192.6,535.4 1194.1,535.5 1195.6,535.5 1197.1,535.5 1198.6,535.5 1200.1,535.5 1201.6,535.5 1203.1,535.5 1204.6,535.5 1206.1,535.6 1207.6,535.6 1209.1,535.6 1210.6,535.6 1212.1,535.7 1213.6,535.7 1215.1,535.7 1216.6,535.8 1218.1,535.8 1219.6,535.8 1221.1,535.9 1222.6,535.9 1224.1,535.9 1225.6,536.0 1227.1,536.0 1228.6,536.0 1230.1,536.1 1231.6,536.1 1233.1,536.2 1234.6,536.2 1236.1,536.3 1237.6,536.3 1239.1,536.3 1240.6,536.4 1242.1,536.4 1243.6,536.5 1245.1,536.5 1246.6,536.6 1248.1,536.7 1249.6,536.7 1251.1,536.8 1252.6,536.9 1254.1,536.9 1255.6,537.0 1257.1,537.0 1258.6,537.1 1260.0,537.1 1261.5,537.2 1263.0,537.2 1264.5,537.2 1266.0,537.2 1267.5,537.2 1269.0,537.2 1270.5,537.2 1272.0,537.2 1273.5,537.2 1275.0,537.2 1276.5,537.2 1278.0,537.2 1279.5,537.2 1281.0,537.1 1282.5,537.1 1284.0,537.1 1285.5,537.1 1287.0,537.1 1288.5,537.1 1290.0,537.1 1291.5,537.1 1293.0,537.1 1294.5,537.0 1296.0,537.0 1297.5,537.0 1299.0,537.0 1300.5,537.0 1302.0,537.0 1303.5,537.0 1305.0,537.0 1306.5,536.9 1308.0,536.9 1309.5,536.9 1311.0,536.9 1312.5,536.9 1314.0,536.9 1315.5,536.8 1317.0,536.8 1318.5,536.8 1320.0,536.8 1321.5,536.8 1323.0,536.7 1324.5,536.7 1326.0,536.7 1327.5,536.7 1329.0,536.6 1330.5,536.6 1332.0,536.6 1333.5,536.6 1335.0,536.6 1336.5,536.5 1338.0,536.5 1339.5,536.5 1341.0,536.5 1342.5,536.5 1344.0,536.5 1345.5,536.4 1347.0,536.4 1348.5,536.4 1350.0,536.4 1351.5,536.4 1353.0,536.3 1354.5,536.3 1356.0,536.3 1357.5,536.3 1359.0,536.2 1360.5,536.2 1362.0,536.2 1363.5,536.1 1365.0,536.1 1366.5,536.0 1368.0,536.0 1369.5,535.9 1371.0,535.8 1372.5,535.7 1374.0,535.6 1375.5,535.4 1377.0,535.3 1378.5,535.2 1380.0,535.0 1381.5,534.9 1383.0,534.8 1384.5,534.6 1386.0,534.5 1387.5,534.4 1389.0,534.3 1390.5,534.2 1392.0,534.1 1393.5,534.1 1395.0,534.1 1396.5,534.1 1397.9,534.2 1399.4,534.4 1400.9,534.7 1402.4,535.0 1403.8,535.2 1405.3,535.3 1406.8,535.3 1408.3,535.3 1409.8,535.2 1411.3,535.0 1412.8,534.9 1414.3,534.7 1415.8,534.5 1417.3,534.3 1418.7,534.1 1420.2,533.8 1421.7,533.6 1423.2,533.4 1424.7,533.1 1426.2,532.9 1427.6,532.7 1429.1,532.5 1430.6,532.4 1432.1,532.2 1433.6,532.1 1435.1,532.0 1436.6,531.8 1438.1,531.7 1439.6,531.6 1441.1,531.5 1442.6,531.4 1444.1,531.2 1445.6,531.1 1447.1,530.9 1448.5,530.7 1450.0,530.5 1451.5,530.2 1453.0,529.9 1454.4,529.5 1455.7,528.9 1457.1,528.2 1458.4,527.5 1459.7,526.8 1461.1,526.3 1462.5,525.9 1464.0,525.6 1465.4,525.4 1466.9,525.2 1468.4,525.1 1469.9,525.0 1471.4,524.8 1472.9,524.8 1474.4,524.7 1475.9,524.6 1477.4,524.6 1478.9,524.6 1480.4,524.7 1481.9,524.7 1483.4,524.8 1484.9,524.9 1486.4,525.0 1487.9,525.2 1489.4,525.3 1490.9,525.4 1492.4,525.5 1493.9,525.7 1495.4,525.8 1496.9,525.9 1498.4,526.1 1499.8,526.2 1501.3,526.3 1502.8,526.5 1504.3,526.6 1505.8,526.8 1507.3,526.9 1508.8,527.1 1510.3,527.3 1511.8,527.5 1513.2,527.8 1514.7,528.1 1516.2,528.4 1517.7,528.7 1519.1,529.0 1520.6,529.3 1522.1,529.6 1523.5,529.9 1525.0,530.2 1526.5,530.4 1528.0,530.6 1529.5,530.8 1531.0,530.9 1532.4,531.1 1533.9,531.3 1535.4,531.4 1536.9,531.6 1538.4,531.7 1539.9,531.9 1541.4,532.0 1542.9,532.2 1544.4,532.3 1545.9,532.4 1547.4,532.5 1548.9,532.6 1550.4,532.7 1551.9,532.8 1553.4,532.9 1554.9,533.0 1556.4,533.1 1557.9,533.2 1559.4,533.2 1560.9,533.3 1562.4,533.3 1563.9,533.4 1565.4,533.4 1566.9,533.4 1568.4,533.5 1569.8,533.5 1571.3,533.5 1572.8,533.6 1574.3,533.6 1575.8,533.6 1577.3,533.6 1578.8,533.7 1580.3,533.7 1581.8,533.7 1583.3,533.8 1584.8,533.8 1586.3,533.8 1587.8,533.9 1589.3,533.9 1590.8,534.0 1592.3,534.1 1593.8,534.2 1595.3,534.3 1596.8,534.5 1598.3,534.7 1599.8,534.9 1601.3,535.1 1602.8,535.3 1604.2,535.5 1605.7,535.8 1607.2,536.0 1608.7,536.2 1610.2,536.4 1611.7,536.6 1613.2,536.8 1614.7,536.9 1616.1,537.0 1617.6,537.1 1619.1,537.2 1620.6,537.2 1622.1,537.2 1623.6,537.2 1625.1,537.1 1626.6,537.1 1628.1,537.1 1629.6,537.0 1631.1,537.0 1632.6,536.9 1634.1,536.8 1635.6,536.8 1637.1,536.7 1638.6,536.7 1640.1,536.6 1641.6,536.6 1643.1,536.5 1644.6,536.5 1646.1,536.4 1647.6,536.4 1649.1,536.4 1650.6,536.4 1652.1,536.4 1653.6,536.4 1655.1,536.5 1656.6,536.5 1658.1,536.5 1659.6,536.6 1661.1,536.6 1662.6,536.7 1664.1,536.7 1665.6,536.8 1667.1,536.8 1668.6,536.9 1670.1,536.9 1671.6,537.0 1673.1,537.0 1674.6,537.1 1676.1,537.1 1677.6,537.1 1679.1,537.2 1680.6,537.2 1682.1,537.2 1683.6,537.2 1685.1,537.2 1686.6,537.2 1688.1,537.2 1689.6,537.2 1691.1,537.2 1692.6,537.2 1694.1,537.1 1695.6,537.1 1697.1,537.1 1698.6,537.1 1700.1,537.1 1701.6,537.1 1703.1,537.0 1704.6,537.0 1706.1,537.0 1707.6,537.0 1709.1,537.0 1710.6,537.0 1712.1,536.9 1713.6,536.9 1715.1,536.9 1716.6,536.9 1718.1,536.9 1719.6,536.8 1721.1,536.8 1722.6,536.8 1724.1,536.7 1725.6,536.7 1727.1,536.7 1728.6,536.7 1730.1,536.6 1731.6,536.6 1733.1,536.6 1734.6,536.5 1736.1,536.5 1737.6,536.5 1739.1,536.4 1740.6,536.4 1742.1,536.3 1743.6,536.3 1745.1,536.3 1746.6,536.2 1748.1,536.2 1749.6,536.1 1751.1,536.1 1752.6,536.0 1754.1,536.0 1755.6,535.9 1757.1,535.9 1758.6,535.8 1760.1,535.8 1761.6,535.7 1763.1,535.6 1764.6,535.6 1766.1,535.5 1767.6,535.4 1769.1,535.4 1770.6,535.3 1772.1,535.2 1773.6,535.1 1775.1,535.0 1776.6,535.0 1778.1,534.9 1779.6,534.8 1781.1,534.7 1782.6,534.6 1784.1,534.5 1785.6,534.4 1787.1,534.3 1788.6,534.1 1790.0,534.0 1791.5,533.9 1793.0,533.7 1794.5,533.6 1796.0,533.4 1797.5,533.2 1799.0,533.1 1800.5,532.9 1802.0,532.7 1803.5,532.5 1804.9,532.3 1806.4,532.1 1807.9,531.8 1809.4,531.6 1810.9,531.3 1812.3,531.0 1813.8,530.7 1815.3,530.4 1816.7,530.0 1818.2,529.7 1819.7,529.4 1821.1,529.0 1822.6,528.6 1824.0,528.3 1825.5,527.9 1826.9,527.5 1828.4,527.1 1829.8,526.7 1831.2,526.2 1832.6,525.6 1834.0,525.1 1835.4,524.7 1836.9,524.3 1838.3,524.2 1839.8,524.3 1841.2,524.7 1842.6,525.1 1844.0,525.4 1845.5,525.4 1846.9,525.2 1848.4,524.9 1849.8,524.4 1851.2,523.9 1852.5,523.3 1853.9,522.6 1855.3,522.0 1856.6,521.4 1858.0,520.8 1859.4,520.2 1860.8,519.7 1862.2,519.4 1863.7,519.1 1865.2,519.0 1866.7,518.9 1868.2,518.9 1869.7,519.0 1871.2,519.0 1872.7,519.0 1874.2,519.1 1875.7,519.2 1877.2,519.2 1878.7,519.3 1880.2,519.4 1881.7,519.4 1883.2,519.5 1884.7,519.6 1886.2,519.7 1887.7,519.8 1889.2,519.9 1890.7,520.0 1892.1,520.2 1893.6,520.6 1895.0,521.1 1896.4,521.7 1897.7,522.3 1899.0,523.0 1900.4,523.6 1901.8,524.0 1903.3,524.4 1904.7,524.7 1906.2,524.9 1907.7,525.0 1909.2,525.2 1910.7,525.3 1912.2,525.5 1913.7,525.6 1915.2,525.7 1916.7,525.8 1918.2,525.9 1919.7,526.1 1921.2,526.2 1922.6,526.4 1924.1,526.6 1925.6,526.9 1927.1,527.2 1928.5,527.6 1930.0,528.0 1931.4,528.5 1932.8,529.0 1934.2,529.4 1935.6,529.9 1937.1,530.3 1938.5,530.7 1940.0,531.0 1941.5,531.2 1943.0,531.4 1944.5,531.5 1946.0,531.7 1947.5,531.8 1948.9,531.9 1950.4,532.0 1951.9,532.1 1953.4,532.2 1954.9,532.3 1956.4,532.4 1957.9,532.5 1959.4,532.5 1960.9,532.6 1962.4,532.7 1963.9,532.7 1965.4,532.8 1966.9,532.9 1968.4,533.0 1969.9,533.0 1971.4,533.1 1972.9,533.2 1974.4,533.2 1975.9,533.3 1977.4,533.4 1978.9,533.5 1980.4,533.5 1981.9,533.6 1983.4,533.7 1984.9,533.8 1986.4,533.8 1987.9,533.9 1989.4,534.0 1990.9,534.0 1992.4,534.1 1993.9,534.2 1995.4,534.2 1996.9,534.3 1998.4,534.3 1999.9,534.4 2001.4,534.4 2002.9,534.5 2004.4,534.5 2005.9,534.6 2007.4,534.6 2008.9,534.7 2010.4,534.7 2011.9,534.8 2013.4,534.8 2014.9,534.9 2016.4,534.9 2017.9,535.0 2019.4,535.0 2020.9,535.0 2022.4,535.1 2023.9,535.1 2025.4,535.2 2026.9,535.2 2028.4,535.2 2029.9,535.2 2031.4,535.3 2032.9,535.3 2034.4,535.3 2035.9,535.3 2037.4,535.4 2038.9,535.4 2040.4,535.4 2041.9,535.4 2043.4,535.4 2044.9,535.5 2046.4,535.5 2047.9,535.5 2049.4,535.5 2050.9,535.5 2052.4,535.6 2053.9,535.6 2055.4,535.6 2056.9,535.6 2058.4,535.6 2059.9,535.6 2061.4,535.7 2062.9,535.7 2064.4,535.7 2065.9,535.7 2067.4,535.7 2068.9,535.7 2070.4,535.7 2071.9,535.7 2073.4,535.7 2074.9,535.8 2076.4,535.8 2077.9,535.8 2079.4,535.8 2080.9,535.8 2082.4,535.8 2083.9,535.8 2085.3,535.8 2086.7,535.8 2087.8,535.8 2088.3,535.8" fill="none" stroke="#008000" stroke-width="4" stroke-linejoin="round" stroke-linecap="butt"/>
<path d="M189.5,785.8 190.4,785.6 191.7,785.4 193.2,785.2 194.6,785.1 196.1,785.0 197.6,784.9 199.1,785.0 200.6,785.0 202.1,785.1 203.6,785.1 205.1,785.2 206.6,785.2 208.1,785.2 209.6,785.0 211.0,784.6 212.4,784.1 213.7,783.4 215.1,782.8 216.5,782.3 217.9,781.8 219.4,781.4 220.8,781.0 222.3,780.6 223.7,780.3 225.2,779.9 226.6,779.5 228.1,779.2 229.5,778.9 231.0,778.5 232.5,778.2 233.9,777.8 235.3,777.3 236.7,776.8 238.1,776.2 239.5,775.5 240.8,774.9 242.1,774.2 243.4,773.4 244.7,772.7 246.0,771.9 247.3,771.1 248.6,770.4 249.9,769.6 251.1,768.7 252.3,767.9 253.6,767.0 254.7,766.1 255.9,765.2 257.1,764.2 258.2,763.2 259.3,762.2 260.4,761.2 261.5,760.1 262.5,759.1 263.6,758.0 264.6,756.9 265.6,755.8 266.6,754.6 267.5,753.5 268.4,752.3 269.3,751.1 270.2,749.8 271.0,748.6 271.7,747.3 272.5,746.0 273.1,744.6 273.8,743.3 274.4,741.9 274.9,740.5 275.5,739.1 276.0,737.7 276.5,736.3 277.0,734.9 277.5,733.5 278.0,732.1 278.6,730.7 279.1,729.3 279.6,727.9 280.1,726.4 280.7,725.0 281.2,723.6 281.7,722.2 282.3,720.8 282.8,719.4 283.3,718.0 283.9,716.6 284.4,715.2 284.9,713.8 285.4,712.4 285.8,711.0 286.3,709.5 286.8,708.1 287.2,706.7 287.7,705.3 288.1,703.8 288.5,702.4 289.0,700.9 289.4,699.5 289.8,698.1 290.2,696.6 290.5,695.2 290.9,693.7 291.2,692.2 291.5,690.8 291.9,689.3 292.2,687.8 292.4,686.4 292.7,684.9 293.0,683.4 293.2,681.9 293.5,680.5 293.8,679.0 294.0,677.5 294.3,676.0 294.6,674.6 294.8,673.1 295.1,671.6 295.4,670.1 295.6,668.6 295.9,667.2 296.2,665.7 296.4,664.2 296.7,662.7 297.0,661.3 297.2,659.8 297.5,658.3 297.7,656.8 297.9,655.3 298.2,653.9 298.4,652.4 298.6,650.9 298.8,649.4 299.1,647.9 299.3,646.5 299.6,645.0 299.9,643.5 300.2,642.0 300.4,640.6 300.7,639.1 301.0,637.6 301.2,636.1 301.4,634.6 301.5,633.1 301.7,631.7 301.9,630.2 302.1,628.7 302.3,627.2 302.5,625.7 302.7,624.2 303.0,622.7 303.3,621.3 303.5,619.8 303.8,618.3 304.1,616.9 304.4,615.4 304.7,613.9 305.0,612.4 305.2,611.0 305.5,609.5 305.7,608.0 306.0,606.5 306.2,605.0 306.4,603.6 306.7,602.1 306.9,600.6 307.1,599.1 307.3,597.6 307.6,596.1 307.8,594.7 308.0,593.2 308.2,591.7 308.5,590.2 308.8,588.7 309.1,587.3 309.5,585.8 309.9,584.4 310.4,583.0 311.0,581.6 311.5,580.2 312.1,578.8 312.7,577.4 313.2,576.0 313.6,574.6 314.1,573.2 314.4,571.7 314.7,570.2 315.1,568.8 315.4,567.3 315.8,565.9 316.3,564.7 317.1,563.9 318.0,563.8 319.0,564.4 320.0,565.4 320.8,566.6 321.6,567.9 322.2,569.2 322.7,570.6 323.1,572.1 323.4,573.5 323.7,575.0 324.0,576.5 324.3,577.9 324.6,579.4 324.8,580.9 325.1,582.4 325.4,583.8 325.7,585.3 326.0,586.8 326.2,588.3 326.5,589.7 326.8,591.2 327.0,592.7 327.3,594.2 327.6,595.6 327.8,597.1 328.1,598.6 328.3,600.1 328.6,601.5 328.8,603.0 329.1,604.5 329.4,606.0 329.6,607.5 329.9,608.9 330.1,610.4 330.4,611.9 330.6,613.4 330.9,614.9 331.1,616.3 331.4,617.8 331.6,619.3 331.9,620.8 332.1,622.2 332.4,623.7 332.6,625.2 332.8,626.7 333.1,628.2 333.4,629.6 333.6,631.1 333.9,632.6 334.1,634.1 334.4,635.6 334.7,637.0 335.0,638.5 335.3,640.0 335.5,641.4 335.8,642.9 336.1,644.4 336.3,645.9 336.6,647.3 336.9,648.8 337.1,650.3 337.4,651.8 337.6,653.3 337.8,654.7 338.1,656.2 338.3,657.7 338.6,659.2 338.8,660.7 339.1,662.1 339.3,663.6 339.5,665.1 339.8,666.6 340.0,668.1 340.3,669.5 340.5,671.0 340.8,672.5 341.0,674.0 341.3,675.5 341.6,676.9 341.9,678.4 342.1,679.9 342.4,681.4 342.7,682.8 343.0,684.3 343.3,685.8 343.6,687.2 343.9,688.7 344.2,690.2 344.5,691.6 344.9,693.1 345.2,694.6 345.6,696.0 345.9,697.5 346.3,698.9 346.6,700.4 347.0,701.8 347.4,703.3 347.8,704.7 348.2,706.2 348.6,707.6 349.1,709.1 349.5,710.5 349.9,711.9 350.4,713.3 350.9,714.8 351.4,716.2 351.8,717.6 352.3,719.0 352.9,720.4 353.4,721.8 353.9,723.2 354.5,724.6 355.1,726.0 355.7,727.4 356.3,728.8 356.9,730.1 357.6,731.5 358.3,732.8 359.0,734.1 359.7,735.4 360.4,736.8 361.1,738.1 361.8,739.4 362.6,740.7 363.3,742.0 364.0,743.3 364.7,744.7 365.4,746.0 366.0,747.3 366.7,748.7 367.4,750.0 368.0,751.4 368.8,752.7 369.5,754.0 370.3,755.2 371.2,756.5 372.0,757.7 372.9,758.9 373.9,760.1 374.9,761.2 375.9,762.3 377.0,763.3 378.1,764.3 379.3,765.3 380.5,766.2 381.7,767.0 382.9,767.9 384.1,768.8 385.3,769.6 386.6,770.5 387.8,771.3 389.1,772.2 390.3,773.0 391.5,773.9 392.8,774.7 394.1,775.5 395.4,776.2 396.7,776.9 398.0,777.6 399.4,778.2 400.8,778.8 402.1,779.4 403.5,780.0 404.9,780.5 406.4,781.0 407.8,781.5 409.2,781.9 410.6,782.3 412.1,782.7 413.5,783.1 415.0,783.5 416.5,783.8 417.9,784.2 419.4,784.5 420.8,784.8 422.3,785.1 423.8,785.4 425.3,785.7 426.7,786.0 428.2,786.2 429.7,786.5 431.2,786.7 432.7,786.9 434.2,787.0 435.6,787.2 437.1,787.3 438.6,787.3 440.1,787.4 441.6,787.5 443.1,787.6 444.6,787.6 446.1,787.7 447.6,787.7 449.1,787.7 450.6,787.8 452.1,787.8 453.6,787.8 455.1,787.9 456.6,787.9 458.1,787.9 459.6,787.9 461.1,787.9 462.6,787.8 464.1,787.8 465.6,787.7 467.1,787.6 468.6,787.5 470.1,787.4 471.6,787.3 473.1,787.1 474.6,786.9 476.1,786.6 477.5,786.3 479.0,786.0 480.4,785.7 481.9,785.3 483.4,785.1 484.9,784.9 486.4,784.8 487.8,784.8 489.3,785.0 490.8,785.2 492.3,785.4 493.8,785.6 495.3,785.9 496.7,786.1 498.2,786.2 499.7,786.3 501.2,786.3 502.7,786.3 504.2,786.3 505.7,786.3 507.2,786.3 508.7,786.3 510.2,786.3 511.7,786.3 513.2,786.3 514.7,786.3 516.2,786.3 517.7,786.3 519.2,786.3 520.7,786.3 522.2,786.3 523.7,786.3 525.2,786.3 526.7,786.3 528.2,786.3 529.7,786.3 531.2,786.3 532.7,786.3 534.2,786.3 535.7,786.3 537.2,786.3 538.7,786.3 540.2,786.3 541.7,786.3 543.2,786.3 544.7,786.3 546.2,786.3 547.7,786.3 549.2,786.3 550.7,786.3 552.2,786.3 553.7,786.3 555.2,786.3 556.7,786.3 558.2,786.3 559.7,786.3 561.2,786.3 562.7,786.3 564.2,786.3 565.7,786.3 567.2,786.3 568.7,786.3 570.2,786.3 571.7,786.3 573.2,786.3 574.7,786.3 576.2,786.3 577.7,786.3 579.2,786.3 580.7,786.3 582.2,786.3 583.7,786.3 585.2,786.3 586.7,786.3 588.2,786.3 589.7,786.3 591.2,786.3 592.7,786.3 594.2,786.3 595.7,786.3 597.2,786.3 598.7,786.3 600.2,786.3 601.7,786.3 603.2,786.3 604.7,786.3 606.2,786.3 607.7,786.3 609.2,786.3 610.7,786.3 612.2,786.3 613.7,786.3 615.2,786.3 616.7,786.3 618.2,786.3 619.7,786.3 621.2,786.3 622.7,786.3 624.2,786.3 625.7,786.3 627.2,786.3 628.7,786.3 630.2,786.3 631.7,786.3 633.2,786.3 634.7,786.3 636.2,786.3 637.7,786.3 639.2,786.3 640.7,786.3 642.2,786.3 643.7,786.3 645.2,786.3 646.7,786.3 648.2,786.3 649.7,786.3 651.2,786.3 652.7,786.3 654.2,786.3 655.7,786.3 657.2,786.3 658.7,786.3 660.2,786.3 661.7,786.3 663.2,786.3 664.7,786.3 666.2,786.3 667.7,786.3 669.2,786.3 670.7,786.3 672.2,786.3 673.7,786.3 675.2,786.3 676.7,786.2 678.2,786.2 679.7,786.2 681.2,786.2 682.7,786.2 684.2,786.2 685.7,786.2 687.2,786.2 688.7,786.2 690.2,786.2 691.7,786.2 693.2,786.2 694.7,786.2 696.2,786.2 697.7,786.2 699.2,786.2 700.7,786.2 702.2,786.2 703.7,786.2 705.2,786.2 706.7,786.2 708.2,786.2 709.7,786.1 711.2,786.1 712.7,786.1 714.2,786.1 715.7,786.1 717.2,786.1 718.7,786.1 720.2,786.1 721.7,786.1 723.2,786.1 724.7,786.1 726.2,786.1 727.7,786.1 729.2,786.1 730.7,786.1 732.2,786.1 733.7,786.1 735.2,786.1 736.7,786.1 738.2,786.1 739.7,786.1 741.2,786.1 742.7,786.0 744.2,786.0 745.7,786.0 747.2,786.0 748.7,786.0 750.2,786.0 751.7,786.0 753.2,786.0 754.7,786.0 756.2,786.0 757.7,786.0 759.2,786.0 760.7,786.0 762.2,786.0 763.7,786.0 765.2,786.0 766.7,786.0 768.2,786.0 769.7,786.0 771.2,786.0 772.7,786.0 774.2,786.0 775.7,786.0 777.2,786.0 778.7,786.0 780.2,786.0 781.7,786.0 783.2,786.0 784.7,786.0 786.2,786.0 787.7,786.0 789.2,786.0 790.7,786.0 792.2,786.0 793.7,786.0 795.2,786.0 796.7,786.0 798.2,786.0 799.7,786.0 801.2,786.0 802.7,786.0 804.2,786.0 805.7,786.0 807.2,786.0 808.7,786.0 810.2,786.0 811.7,786.0 813.2,786.0 814.7,786.0 816.2,786.0 817.7,786.0 819.2,786.0 820.7,786.0 822.2,786.0 823.7,786.1 825.2,786.1 826.7,786.1 828.2,786.1 829.7,786.1 831.2,786.1 832.7,786.1 834.2,786.1 835.7,786.1 837.2,786.1 838.7,786.1 840.2,786.1 841.7,786.1 843.2,786.1 844.7,786.1 846.2,786.1 847.7,786.1 849.2,786.1 850.7,786.1 852.2,786.1 853.7,786.1 855.2,786.1 856.7,786.1 858.2,786.2 859.7,786.2 861.2,786.2 862.7,786.2 864.2,786.2 865.7,786.2 867.2,786.2 868.7,786.2 870.2,786.2 871.7,786.2 873.2,786.2 874.7,786.2 876.2,786.2 877.7,786.2 879.2,786.2 880.7,786.2 882.2,786.2 883.7,786.3 885.2,786.3 886.7,786.3 888.2,786.3 889.7,786.3 891.2,786.3 892.7,786.3 894.2,786.3 895.7,786.3 897.2,786.3 898.7,786.3 900.2,786.3 901.7,786.3 903.2,786.3 904.7,786.3 906.2,786.4 907.7,786.4 909.2,786.4 910.7,786.4 912.2,786.4 913.7,786.4 915.2,786.4 916.7,786.4 918.2,786.4 919.7,786.4 921.2,786.4 922.7,786.4 924.2,786.5 925.7,786.5 927.2,786.5 928.7,786.5 930.2,786.5 931.7,786.5 933.2,786.5 934.7,786.5 936.2,786.5 937.7,786.5 939.2,786.5 940.7,786.5 942.2,786.6 943.7,786.6 945.2,786.6 946.7,786.6 948.2,786.6 949.7,786.6 951.2,786.6 952.7,786.6 954.2,786.6 955.7,786.7 957.2,786.7 958.7,786.7 960.2,786.7 961.7,786.7 963.2,786.8 964.7,786.8 966.2,786.8 967.7,786.8 969.2,786.9 970.7,786.9 972.2,786.9 973.7,786.9 975.2,787.0 976.7,787.0 978.2,787.0 979.7,787.0 981.2,787.0 982.7,787.1 984.2,787.1 985.7,787.1 987.2,787.1 988.7,787.1 990.2,787.2 991.7,787.2 993.2,787.2 994.7,787.2 996.2,787.2 997.7,787.2 999.2,787.2 1000.7,787.2 1002.2,787.1 1003.7,787.1 1005.2,787.0 1006.7,786.9 1008.2,786.8 1009.7,786.7 1011.2,786.6 1012.7,786.5 1014.2,786.3 1015.7,786.2 1017.2,786.0 1018.7,785.9 1020.2,785.8 1021.7,785.6 1023.2,785.5 1024.6,785.3 1026.1,785.2 1027.6,785.1 1029.1,784.9 1030.6,784.8 1032.1,784.7 1033.6,784.6 1035.1,784.5 1036.6,784.5 1038.1,784.4 1039.6,784.3 1041.1,784.2 1042.6,784.1 1044.1,784.0 1045.6,784.0 1047.1,783.9 1048.6,783.8 1050.1,783.6 1051.6,783.5 1053.1,783.4 1054.6,783.2 1056.1,783.0 1057.5,782.8 1059.0,782.5 1060.5,782.2 1061.9,781.8 1063.4,781.4 1064.8,781.0 1066.3,780.6 1067.7,780.2 1069.2,779.8 1070.6,779.5 1072.1,779.1 1073.5,778.8 1075.0,778.5 1076.5,778.1 1077.9,777.8 1079.4,777.5 1080.9,777.2 1082.3,776.9 1083.8,776.6 1085.3,776.3 1086.7,776.0 1088.2,775.8 1089.7,775.6 1091.2,775.4 1092.7,775.2 1094.2,775.0 1095.7,774.8 1097.2,774.7 1098.6,774.5 1100.1,774.3 1101.6,774.1 1103.1,773.9 1104.6,773.7 1106.1,773.5 1107.6,773.3 1109.0,773.1 1110.5,772.9 1112.0,772.7 1113.5,772.5 1115.0,772.4 1116.5,772.4 1118.0,772.6 1119.4,772.9 1120.9,773.3 1122.3,773.8 1123.7,774.3 1125.1,774.8 1126.5,775.3 1128.0,775.6 1129.4,775.9 1130.9,776.1 1132.4,776.3 1133.9,776.4 1135.4,776.6 1136.9,776.7 1138.4,776.8 1139.9,777.0 1141.4,777.2 1142.8,777.4 1144.3,777.6 1145.8,777.8 1147.3,778.2 1148.7,778.5 1150.2,778.9 1151.6,779.3 1153.1,779.7 1154.5,780.1 1156.0,780.5 1157.4,780.8 1158.9,781.2 1160.3,781.5 1161.8,781.8 1163.3,782.0 1164.8,782.2 1166.3,782.5 1167.7,782.7 1169.2,782.9 1170.7,783.1 1172.2,783.3 1173.7,783.5 1175.2,783.7 1176.7,783.9 1178.2,784.0 1179.6,784.2 1181.1,784.4 1182.6,784.6 1184.1,784.8 1185.6,784.9 1187.1,785.1 1188.6,785.3 1190.1,785.5 1191.6,785.7 1193.0,785.9 1194.5,786.1 1196.0,786.3 1197.5,786.5 1199.0,786.6 1200.5,786.8 1202.0,786.9 1203.5,787.1 1205.0,787.2 1206.5,787.3 1208.0,787.4 1209.5,787.4 1211.0,787.5 1212.5,787.5 1214.0,787.6 1215.5,787.6 1217.0,787.6 1218.5,787.7 1220.0,787.7 1221.5,787.7 1223.0,787.8 1224.5,787.8 1226.0,787.8 1227.5,787.9 1229.0,787.9 1230.5,787.9 1232.0,787.9 1233.5,787.9 1235.0,788.0 1236.5,788.0 1238.0,788.0 1239.5,788.0 1241.0,788.0 1242.5,788.0 1244.0,788.0 1245.5,788.0 1247.0,788.0 1248.5,788.0 1250.0,788.0 1251.5,788.0 1253.0,788.0 1254.5,788.0 1256.0,788.0 1257.5,788.0 1259.0,788.1 1260.5,788.1 1262.0,788.1 1263.5,788.1 1265.0,788.1 1266.5,788.1 1268.0,788.1 1269.5,788.1 1271.0,788.1 1272.5,788.1 1274.0,788.1 1275.5,788.1 1277.0,788.1 1278.5,788.1 1280.0,788.1 1281.5,788.1 1283.0,788.1 1284.5,788.1 1286.0,788.1 1287.5,788.1 1289.0,788.1 1290.5,788.1 1292.0,788.1 1293.5,788.1 1295.0,788.1 1296.5,788.1 1298.0,788.1 1299.5,788.1 1301.0,788.1 1302.5,788.1 1304.0,788.1 1305.5,788.1 1307.0,788.1 1308.5,788.0 1310.0,788.0 1311.5,788.0 1313.0,788.0 1314.5,788.0 1316.0,787.9 1317.5,787.9 1319.0,787.9 1320.5,787.9 1322.0,787.8 1323.5,787.8 1325.0,787.8 1326.5,787.8 1328.0,787.7 1329.5,787.7 1331.0,787.7 1332.5,787.7 1334.0,787.7 1335.5,787.7 1337.0,787.7 1338.5,787.7 1340.0,787.6 1341.5,787.6 1343.0,787.6 1344.5,787.6 1346.0,787.6 1347.5,787.6 1349.0,787.6 1350.5,787.6 1352.0,787.6 1353.5,787.6 1355.0,787.6 1356.5,787.6 1358.0,787.6 1359.5,787.6 1361.0,787.6 1362.5,787.5 1364.0,787.5 1365.5,787.5 1367.0,787.5 1368.5,787.5 1370.0,787.5 1371.5,787.5 1373.0,787.5 1374.5,787.5 1376.0,787.5 1377.5,787.4 1379.0,787.4 1380.5,787.4 1382.0,787.4 1383.5,787.3 1385.0,787.3 1386.4,787.3 1387.9,787.2 1389.4,787.1 1390.9,787.1 1392.4,787.0 1393.9,786.9 1395.4,786.8 1396.9,786.7 1398.4,786.6 1399.9,786.5 1401.4,786.4 1402.9,786.2 1404.4,786.1 1405.9,786.0 1407.4,785.9 1408.9,785.8 1410.4,785.6 1411.9,785.5 1413.4,785.4 1414.9,785.3 1416.4,785.1 1417.9,785.0 1419.4,784.8 1420.8,784.7 1422.3,784.5 1423.8,784.3 1425.3,784.1 1426.8,784.0 1428.3,783.8 1429.8,783.6 1431.3,783.4 1432.8,783.2 1434.2,783.0 1435.7,782.8 1437.2,782.5 1438.7,782.3 1440.2,782.1 1441.6,781.8 1443.1,781.5 1444.6,781.3 1446.1,781.0 1447.5,780.7 1449.0,780.4 1450.5,780.1 1451.9,779.8 1453.4,779.4 1454.9,779.1 1456.3,778.8 1457.8,778.5 1459.3,778.2 1460.7,777.9 1462.2,777.6 1463.7,777.2 1465.1,776.9 1466.6,776.5 1468.0,776.1 1469.5,775.8 1471.0,775.4 1472.4,775.1 1473.9,774.8 1475.4,774.6 1476.9,774.5 1478.4,774.4 1479.9,774.4 1481.4,774.4 1482.9,774.4 1484.4,774.3 1485.9,774.3 1487.4,774.3 1488.9,774.3 1490.4,774.3 1491.9,774.3 1493.4,774.3 1494.9,774.4 1496.4,774.4 1497.8,774.6 1499.3,774.7 1500.8,775.0 1502.3,775.2 1503.8,775.5 1505.2,775.8 1506.7,776.1 1508.2,776.3 1509.7,776.6 1511.1,776.8 1512.6,777.1 1514.1,777.3 1515.6,777.6 1517.1,777.9 1518.5,778.1 1520.0,778.4 1521.5,778.7 1523.0,778.9 1524.4,779.2 1525.9,779.5 1527.4,779.7 1528.9,779.9 1530.4,780.2 1531.8,780.4 1533.3,780.6 1534.8,780.7 1536.3,780.9 1537.8,781.0 1539.3,781.1 1540.8,781.3 1542.3,781.4 1543.8,781.5 1545.3,781.6 1546.8,781.7 1548.3,781.8 1549.8,781.9 1551.3,782.1 1552.8,782.2 1554.3,782.3 1555.8,782.5 1557.2,782.6 1558.7,782.7 1560.2,782.9 1561.7,783.0 1563.2,783.2 1564.7,783.3 1566.2,783.4 1567.7,783.6 1569.2,783.7 1570.7,783.8 1572.2,783.9 1573.7,784.0 1575.2,784.1 1576.7,784.2 1578.2,784.3 1579.7,784.4 1581.2,784.5 1582.7,784.5 1584.2,784.6 1585.7,784.7 1587.2,784.8 1588.7,784.8 1590.2,784.9 1591.7,785.0 1593.2,785.0 1594.7,785.1 1596.2,785.2 1597.7,785.2 1599.2,785.3 1600.7,785.3 1602.1,785.4 1603.6,785.5 1605.1,785.5 1606.6,785.6 1608.1,785.6 1609.6,785.7 1611.1,785.8 1612.6,785.8 1614.1,785.9 1615.6,785.9 1617.1,786.0 1618.6,786.0 1620.1,786.1 1621.6,786.1 1623.1,786.2 1624.6,786.3 1626.1,786.3 1627.6,786.4 1629.1,786.4 1630.6,786.5 1632.1,786.5 1633.6,786.6 1635.1,786.6 1636.6,786.7 1638.1,786.7 1639.6,786.8 1641.1,786.8 1642.6,786.9 1644.1,786.9 1645.6,787.0 1647.1,787.0 1648.6,787.1 1650.1,787.1 1651.6,787.2 1653.1,787.2 1654.6,787.3 1656.1,787.3 1657.6,787.4 1659.1,787.4 1660.6,787.5 1662.1,787.5 1663.6,787.6 1665.1,787.6 1666.6,787.7 1668.1,787.7 1669.6,787.8 1671.1,787.8 1672.6,787.9 1674.1,787.9 1675.6,787.9 1677.1,788.0 1678.6,788.0 1680.1,788.0 1681.6,788.0 1683.1,788.0 1684.6,788.0 1686.1,788.0 1687.6,788.0 1689.1,787.9 1690.6,787.9 1692.1,787.9 1693.6,787.8 1695.1,787.8 1696.6,787.8 1698.1,787.7 1699.6,787.7 1701.1,787.6 1702.6,787.6 1704.1,787.5 1705.6,787.5 1707.1,787.4 1708.6,787.4 1710.1,787.3 1711.6,787.3 1713.1,787.2 1714.6,787.2 1716.1,787.2 1717.6,787.1 1719.1,787.1 1720.6,787.0 1722.1,787.0 1723.6,787.0 1725.1,786.9 1726.6,786.9 1728.1,786.9 1729.6,786.8 1731.1,786.8 1732.6,786.7 1734.1,786.7 1735.6,786.7 1737.1,786.6 1738.6,786.6 1740.1,786.5 1741.6,786.5 1743.1,786.5 1744.6,786.4 1746.1,786.4 1747.6,786.3 1749.1,786.3 1750.6,786.2 1752.1,786.2 1753.6,786.1 1755.1,786.1 1756.6,786.0 1758.1,785.9 1759.6,785.9 1761.1,785.8 1762.6,785.7 1764.1,785.6 1765.6,785.6 1767.1,785.5 1768.6,785.4 1770.1,785.3 1771.6,785.1 1773.0,785.0 1774.5,784.9 1776.0,784.7 1777.5,784.6 1779.0,784.4 1780.5,784.3 1782.0,784.1 1783.5,784.0 1785.0,783.8 1786.5,783.6 1788.0,783.4 1789.5,783.3 1790.9,783.1 1792.4,782.9 1793.9,782.7 1795.4,782.5 1796.9,782.3 1798.4,782.1 1799.9,781.9 1801.3,781.7 1802.8,781.5 1804.3,781.3 1805.8,781.0 1807.3,780.8 1808.8,780.5 1810.2,780.3 1811.7,780.0 1813.2,779.8 1814.7,779.5 1816.1,779.2 1817.6,779.0 1819.1,778.7 1820.6,778.4 1822.0,778.1 1823.5,777.8 1825.0,777.6 1826.5,777.3 1827.9,777.0 1829.4,776.7 1830.9,776.3 1832.3,776.0 1833.8,775.6 1835.2,775.3 1836.7,774.9 1838.1,774.5 1839.6,774.1 1841.0,773.7 1842.5,773.2 1843.9,772.8 1845.3,772.5 1846.8,772.1 1848.2,771.7 1849.7,771.3 1851.2,771.0 1852.6,770.7 1854.1,770.4 1855.6,770.2 1857.1,770.0 1858.6,769.8 1860.1,769.6 1861.5,769.5 1863.0,769.4 1864.5,769.3 1866.0,769.2 1867.5,769.1 1869.0,769.1 1870.5,769.0 1872.0,768.9 1873.5,768.9 1875.0,768.8 1876.5,768.7 1878.0,768.7 1879.5,768.7 1881.0,768.6 1882.5,768.6 1884.0,768.7 1885.5,768.8 1887.0,769.0 1888.4,769.3 1889.9,769.7 1891.3,770.2 1892.7,770.7 1894.1,771.2 1895.5,771.8 1896.9,772.3 1898.3,772.8 1899.8,773.2 1901.2,773.6 1902.7,773.9 1904.1,774.2 1905.6,774.5 1907.1,774.7 1908.6,775.0 1910.1,775.2 1911.5,775.5 1913.0,775.7 1914.5,775.9 1916.0,776.2 1917.5,776.4 1919.0,776.6 1920.4,776.8 1921.9,777.0 1923.4,777.3 1924.9,777.5 1926.4,777.7 1927.8,778.0 1929.3,778.2 1930.8,778.5 1932.3,778.8 1933.8,779.0 1935.2,779.3 1936.7,779.5 1938.2,779.8 1939.7,780.0 1941.1,780.3 1942.6,780.5 1944.1,780.8 1945.6,781.0 1947.1,781.2 1948.6,781.5 1950.0,781.7 1951.5,781.9 1953.0,782.0 1954.5,782.2 1956.0,782.4 1957.5,782.5 1959.0,782.6 1960.5,782.8 1962.0,782.9 1963.5,783.0 1965.0,783.1 1966.5,783.2 1968.0,783.3 1969.5,783.4 1971.0,783.5 1972.5,783.6 1973.9,783.7 1975.4,783.7 1976.9,783.8 1978.4,783.9 1979.9,784.0 1981.4,784.0 1982.9,784.1 1984.4,784.2 1985.9,784.3 1987.4,784.4 1988.9,784.4 1990.4,784.5 1991.9,784.6 1993.4,784.7 1994.9,784.7 1996.4,784.8 1997.9,784.9 1999.4,785.0 2000.9,785.1 2002.4,785.2 2003.9,785.3 2005.4,785.4 2006.9,785.5 2008.4,785.6 2009.9,785.7 2011.4,785.8 2012.9,785.9 2014.4,786.0 2015.9,786.1 2017.4,786.2 2018.9,786.2 2020.4,786.3 2021.9,786.4 2023.4,786.5 2024.9,786.6 2026.4,786.6 2027.9,786.7 2029.4,786.8 2030.9,786.8 2032.4,786.9 2033.9,786.9 2035.4,787.0 2036.9,787.0 2038.4,787.1 2039.9,787.1 2041.4,787.2 2042.9,787.2 2044.4,787.2 2045.9,787.3 2047.4,787.3 2048.8,787.4 2050.3,787.4 2051.8,787.4 2053.3,787.5 2054.8,787.5 2056.3,787.6 2057.8,787.6 2059.3,787.6 2060.8,787.7 2062.3,787.7 2063.8,787.7 2065.3,787.8 2066.8,787.8 2068.3,787.8 2069.8,787.8 2071.3,787.9 2072.8,787.9 2074.3,787.9 2075.8,787.9 2077.3,787.9 2078.8,787.9 2080.3,788.0 2081.8,788.0 2083.3,788.0 2084.8,788.0 2086.3,788.0 2087.5,788.0 2088.2,788.0" fill="none" stroke="#0000FF" stroke-width="7.4" stroke-linejoin="round" stroke-linecap="butt" shape-rendering="crispEdges"/>
<path d="M189.5,785.8 190.4,785.6 191.7,785.4 193.2,785.2 194.6,785.1 196.1,785.0 197.6,784.9 199.1,785.0 200.6,785.0 202.1,785.1 203.6,785.1 205.1,785.2 206.6,785.2 208.1,785.2 209.6,785.0 211.0,784.6 212.4,784.1 213.7,783.4 215.1,782.8 216.5,782.3 217.9,781.8 219.4,781.4 220.8,781.0 222.3,780.6 223.7,780.3 225.2,779.9 226.6,779.5 228.1,779.2 229.5,778.9 231.0,778.5 232.5,778.2 233.9,777.8 235.3,777.3 236.7,776.8 238.1,776.2 239.5,775.5 240.8,774.9 242.1,774.2 243.4,773.4 244.7,772.7 246.0,771.9 247.3,771.1 248.6,770.4 249.9,769.6 251.1,768.7 252.3,767.9 253.6,767.0 254.7,766.1 255.9,765.2 257.1,764.2 258.2,763.2 259.3,762.2 260.4,761.2 261.5,760.1 262.5,759.1 263.6,758.0 264.6,756.9 265.6,755.8 266.6,754.6 267.5,753.5 268.4,752.3 269.3,751.1 270.2,749.8 271.0,748.6 271.7,747.3 272.5,746.0 273.1,744.6 273.8,743.3 274.4,741.9 274.9,740.5 275.5,739.1 276.0,737.7 276.5,736.3 277.0,734.9 277.5,733.5 278.0,732.1 278.6,730.7 279.1,729.3 279.6,727.9 280.1,726.4 280.7,725.0 281.2,723.6 281.7,722.2 282.3,720.8 282.8,719.4 283.3,718.0 283.9,716.6 284.4,715.2 284.9,713.8 285.4,712.4 285.8,711.0 286.3,709.5 286.8,708.1 287.2,706.7 287.7,705.3 288.1,703.8 288.5,702.4 289.0,700.9 289.4,699.5 289.8,698.1 290.2,696.6 290.5,695.2 290.9,693.7 291.2,692.2 291.5,690.8 291.9,689.3 292.2,687.8 292.4,686.4 292.7,684.9 293.0,683.4 293.2,681.9 293.5,680.5 293.8,679.0 294.0,677.5 294.3,676.0 294.6,674.6 294.8,673.1 295.1,671.6 295.4,670.1 295.6,668.6 295.9,667.2 296.2,665.7 296.4,664.2 296.7,662.7 297.0,661.3 297.2,659.8 297.5,658.3 297.7,656.8 297.9,655.3 298.2,653.9 298.4,652.4 298.6,650.9 298.8,649.4 299.1,647.9 299.3,646.5 299.6,645.0 299.9,643.5 300.2,642.0 300.4,640.6 300.7,639.1 301.0,637.6 301.2,636.1 301.4,634.6 301.5,633.1 301.7,631.7 301.9,630.2 302.1,628.7 302.3,627.2 302.5,625.7 302.7,624.2 303.0,622.7 303.3,621.3 303.5,619.8 303.8,618.3 304.1,616.9 304.4,615.4 304.7,613.9 305.0,612.4 305.2,611.0 305.5,609.5 305.7,608.0 306.0,606.5 306.2,605.0 306.4,603.6 306.7,602.1 306.9,600.6 307.1,599.1 307.3,597.6 307.6,596.1 307.8,594.7 308.0,593.2 308.2,591.7 308.5,590.2 308.8,588.7 309.1,587.3 309.5,585.8 309.9,584.4 310.4,583.0 311.0,581.6 311.5,580.2 312.1,578.8 312.7,577.4 313.2,576.0 313.6,574.6 314.1,573.2 314.4,571.7 314.7,570.2 315.1,568.8 315.4,567.3 315.8,565.9 316.3,564.7 317.1,563.9 318.0,563.8 319.0,564.4 320.0,565.4 320.8,566.6 321.6,567.9 322.2,569.2 322.7,570.6 323.1,572.1 323.4,573.5 323.7,575.0 324.0,576.5 324.3,577.9 324.6,579.4 324.8,580.9 325.1,582.4 325.4,583.8 325.7,585.3 326.0,586.8 326.2,588.3 326.5,589.7 326.8,591.2 327.0,592.7 327.3,594.2 327.6,595.6 327.8,597.1 328.1,598.6 328.3,600.1 328.6,601.5 328.8,603.0 329.1,604.5 329.4,606.0 329.6,607.5 329.9,608.9 330.1,610.4 330.4,611.9 330.6,613.4 330.9,614.9 331.1,616.3 331.4,617.8 331.6,619.3 331.9,620.8 332.1,622.2 332.4,623.7 332.6,625.2 332.8,626.7 333.1,628.2 333.4,629.6 333.6,631.1 333.9,632.6 334.1,634.1 334.4,635.6 334.7,637.0 335.0,638.5 335.3,640.0 335.5,641.4 335.8,642.9 336.1,644.4 336.3,645.9 336.6,647.3 336.9,648.8 337.1,650.3 337.4,651.8 337.6,653.3 337.8,654.7 338.1,656.2 338.3,657.7 338.6,659.2 338.8,660.7 339.1,662.1 339.3,663.6 339.5,665.1 339.8,666.6 340.0,668.1 340.3,669.5 340.5,671.0 340.8,672.5 341.0,674.0 341.3,675.5 341.6,676.9 341.9,678.4 342.1,679.9 342.4,681.4 342.7,682.8 343.0,684.3 343.3,685.8 343.6,687.2 343.9,688.7 344.2,690.2 344.5,691.6 344.9,693.1 345.2,694.6 345.6,696.0 345.9,697.5 346.3,698.9 346.6,700.4 347.0,701.8 347.4,703.3 347.8,704.7 348.2,706.2 348.6,707.6 349.1,709.1 349.5,710.5 349.9,711.9 350.4,713.3 350.9,714.8 351.4,716.2 351.8,717.6 352.3,719.0 352.9,720.4 353.4,721.8 353.9,723.2 354.5,724.6 355.1,726.0 355.7,727.4 356.3,728.8 356.9,730.1 357.6,731.5 358.3,732.8 359.0,734.1 359.7,735.4 360.4,736.8 361.1,738.1 361.8,739.4 362.6,740.7 363.3,742.0 364.0,743.3 364.7,744.7 365.4,746.0 366.0,747.3 366.7,748.7 367.4,750.0 368.0,751.4 368.8,752.7 369.5,754.0 370.3,755.2 371.2,756.5 372.0,757.7 372.9,758.9 373.9,760.1 374.9,761.2 375.9,762.3 377.0,763.3 378.1,764.3 379.3,765.3 380.5,766.2 381.7,767.0 382.9,767.9 384.1,768.8 385.3,769.6 386.6,770.5 387.8,771.3 389.1,772.2 390.3,773.0 391.5,773.9 392.8,774.7 394.1,775.5 395.4,776.2 396.7,776.9 398.0,777.6 399.4,778.2 400.8,778.8 402.1,779.4 403.5,780.0 404.9,780.5 406.4,781.0 407.8,781.5 409.2,781.9 410.6,782.3 412.1,782.7 413.5,783.1 415.0,783.5 416.5,783.8 417.9,784.2 419.4,784.5 420.8,784.8 422.3,785.1 423.8,785.4 425.3,785.7 426.7,786.0 428.2,786.2 429.7,786.5 431.2,786.7 432.7,786.9 434.2,787.0 435.6,787.2 437.1,787.3 438.6,787.3 440.1,787.4 441.6,787.5 443.1,787.6 444.6,787.6 446.1,787.7 447.6,787.7 449.1,787.7 450.6,787.8 452.1,787.8 453.6,787.8 455.1,787.9 456.6,787.9 458.1,787.9 459.6,787.9 461.1,787.9 462.6,787.8 464.1,787.8 465.6,787.7 467.1,787.6 468.6,787.5 470.1,787.4 471.6,787.3 473.1,787.1 474.6,786.9 476.1,786.6 477.5,786.3 479.0,786.0 480.4,785.7 481.9,785.3 483.4,785.1 484.9,784.9 486.4,784.8 487.8,784.8 489.3,785.0 490.8,785.2 492.3,785.4 493.8,785.6 495.3,785.9 496.7,786.1 498.2,786.2 499.7,786.3 501.2,786.3 502.7,786.3 504.2,786.3 505.7,786.3 507.2,786.3 508.7,786.3 510.2,786.3 511.7,786.3 513.2,786.3 514.7,786.3 516.2,786.3 517.7,786.3 519.2,786.3 520.7,786.3 522.2,786.3 523.7,786.3 525.2,786.3 526.7,786.3 528.2,786.3 529.7,786.3 531.2,786.3 532.7,786.3 534.2,786.3 535.7,786.3 537.2,786.3 538.7,786.3 540.2,786.3 541.7,786.3 543.2,786.3 544.7,786.3 546.2,786.3 547.7,786.3 549.2,786.3 550.7,786.3 552.2,786.3 553.7,786.3 555.2,786.3 556.7,786.3 558.2,786.3 559.7,786.3 561.2,786.3 562.7,786.3 564.2,786.3 565.7,786.3 567.2,786.3 568.7,786.3 570.2,786.3 571.7,786.3 573.2,786.3 574.7,786.3 576.2,786.3 577.7,786.3 579.2,786.3 580.7,786.3 582.2,786.3 583.7,786.3 585.2,786.3 586.7,786.3 588.2,786.3 589.7,786.3 591.2,786.3 592.7,786.3 594.2,786.3 595.7,786.3 597.2,786.3 598.7,786.3 600.2,786.3 601.7,786.3 603.2,786.3 604.7,786.3 606.2,786.3 607.7,786.3 609.2,786.3 610.7,786.3 612.2,786.3 613.7,786.3 615.2,786.3 616.7,786.3 618.2,786.3 619.7,786.3 621.2,786.3 622.7,786.3 624.2,786.3 625.7,786.3 627.2,786.3 628.7,786.3 630.2,786.3 631.7,786.3 633.2,786.3 634.7,786.3 636.2,786.3 637.7,786.3 639.2,786.3 640.7,786.3 642.2,786.3 643.7,786.3 645.2,786.3 646.7,786.3 648.2,786.3 649.7,786.3 651.2,786.3 652.7,786.3 654.2,786.3 655.7,786.3 657.2,786.3 658.7,786.3 660.2,786.3 661.7,786.3 663.2,786.3 664.7,786.3 666.2,786.3 667.7,786.3 669.2,786.3 670.7,786.3 672.2,786.3 673.7,786.3 675.2,786.3 676.7,786.2 678.2,786.2 679.7,786.2 681.2,786.2 682.7,786.2 684.2,786.2 685.7,786.2 687.2,786.2 688.7,786.2 690.2,786.2 691.7,786.2 693.2,786.2 694.7,786.2 696.2,786.2 697.7,786.2 699.2,786.2 700.7,786.2 702.2,786.2 703.7,786.2 705.2,786.2 706.7,786.2 708.2,786.2 709.7,786.1 711.2,786.1 712.7,786.1 714.2,786.1 715.7,786.1 717.2,786.1 718.7,786.1 720.2,786.1 721.7,786.1 723.2,786.1 724.7,786.1 726.2,786.1 727.7,786.1 729.2,786.1 730.7,786.1 732.2,786.1 733.7,786.1 735.2,786.1 736.7,786.1 738.2,786.1 739.7,786.1 741.2,786.1 742.7,786.0 744.2,786.0 745.7,786.0 747.2,786.0 748.7,786.0 750.2,786.0 751.7,786.0 753.2,786.0 754.7,786.0 756.2,786.0 757.7,786.0 759.2,786.0 760.7,786.0 762.2,786.0 763.7,786.0 765.2,786.0 766.7,786.0 768.2,786.0 769.7,786.0 771.2,786.0 772.7,786.0 774.2,786.0 775.7,786.0 777.2,786.0 778.7,786.0 780.2,786.0 781.7,786.0 783.2,786.0 784.7,786.0 786.2,786.0 787.7,786.0 789.2,786.0 790.7,786.0 792.2,786.0 793.7,786.0 795.2,786.0 796.7,786.0 798.2,786.0 799.7,786.0 801.2,786.0 802.7,786.0 804.2,786.0 805.7,786.0 807.2,786.0 808.7,786.0 810.2,786.0 811.7,786.0 813.2,786.0 814.7,786.0 816.2,786.0 817.7,786.0 819.2,786.0 820.7,786.0 822.2,786.0 823.7,786.1 825.2,786.1 826.7,786.1 828.2,786.1 829.7,786.1 831.2,786.1 832.7,786.1 834.2,786.1 835.7,786.1 837.2,786.1 838.7,786.1 840.2,786.1 841.7,786.1 843.2,786.1 844.7,786.1 846.2,786.1 847.7,786.1 849.2,786.1 850.7,786.1 852.2,786.1 853.7,786.1 855.2,786.1 856.7,786.1 858.2,786.2 859.7,786.2 861.2,786.2 862.7,786.2 864.2,786.2 865.7,786.2 867.2,786.2 868.7,786.2 870.2,786.2 871.7,786.2 873.2,786.2 874.7,786.2 876.2,786.2 877.7,786.2 879.2,786.2 880.7,786.2 882.2,786.2 883.7,786.3 885.2,786.3 886.7,786.3 888.2,786.3 889.7,786.3 891.2,786.3 892.7,786.3 894.2,786.3 895.7,786.3 897.2,786.3 898.7,786.3 900.2,786.3 901.7,786.3 903.2,786.3 904.7,786.3 906.2,786.4 907.7,786.4 909.2,786.4 910.7,786.4 912.2,786.4 913.7,786.4 915.2,786.4 916.7,786.4 918.2,786.4 919.7,786.4 921.2,786.4 922.7,786.4 924.2,786.5 925.7,786.5 927.2,786.5 928.7,786.5 930.2,786.5 931.7,786.5 933.2,786.5 934.7,786.5 936.2,786.5 937.7,786.5 939.2,786.5 940.7,786.5 942.2,786.6 943.7,786.6 945.2,786.6 946.7,786.6 948.2,786.6 949.7,786.6 951.2,786.6 952.7,786.6 954.2,786.6 955.7,786.7 957.2,786.7 958.7,786.7 960.2,786.7 961.7,786.7 963.2,786.8 964.7,786.8 966.2,786.8 967.7,786.8 969.2,786.9 970.7,786.9 972.2,786.9 973.7,786.9 975.2,787.0 976.7,787.0 978.2,787.0 979.7,787.0 981.2,787.0 982.7,787.1 984.2,787.1 985.7,787.1 987.2,787.1 988.7,787.1 990.2,787.2 991.7,787.2 993.2,787.2 994.7,787.2 996.2,787.2 997.7,787.2 999.2,787.2 1000.7,787.2 1002.2,787.1 1003.7,787.1 1005.2,787.0 1006.7,786.9 1008.2,786.8 1009.7,786.7 1011.2,786.6 1012.7,786.5 1014.2,786.3 1015.7,786.2 1017.2,786.0 1018.7,785.9 1020.2,785.8 1021.7,785.6 1023.2,785.5 1024.6,785.3 1026.1,785.2 1027.6,785.1 1029.1,784.9 1030.6,784.8 1032.1,784.7 1033.6,784.6 1035.1,784.5 1036.6,784.5 1038.1,784.4 1039.6,784.3 1041.1,784.2 1042.6,784.1 1044.1,784.0 1045.6,784.0 1047.1,783.9 1048.6,783.8 1050.1,783.6 1051.6,783.5 1053.1,783.4 1054.6,783.2 1056.1,783.0 1057.5,782.8 1059.0,782.5 1060.5,782.2 1061.9,781.8 1063.4,781.4 1064.8,781.0 1066.3,780.6 1067.7,780.2 1069.2,779.8 1070.6,779.5 1072.1,779.1 1073.5,778.8 1075.0,778.5 1076.5,778.1 1077.9,777.8 1079.4,777.5 1080.9,777.2 1082.3,776.9 1083.8,776.6 1085.3,776.3 1086.7,776.0 1088.2,775.8 1089.7,775.6 1091.2,775.4 1092.7,775.2 1094.2,775.0 1095.7,774.8 1097.2,774.7 1098.6,774.5 1100.1,774.3 1101.6,774.1 1103.1,773.9 1104.6,773.7 1106.1,773.5 1107.6,773.3 1109.0,773.1 1110.5,772.9 1112.0,772.7 1113.5,772.5 1115.0,772.4 1116.5,772.4 1118.0,772.6 1119.4,772.9 1120.9,773.3 1122.3,773.8 1123.7,774.3 1125.1,774.8 1126.5,775.3 1128.0,775.6 1129.4,775.9 1130.9,776.1 1132.4,776.3 1133.9,776.4 1135.4,776.6 1136.9,776.7 1138.4,776.8 1139.9,777.0 1141.4,777.2 1142.8,777.4 1144.3,777.6 1145.8,777.8 1147.3,778.2 1148.7,778.5 1150.2,778.9 1151.6,779.3 1153.1,779.7 1154.5,780.1 1156.0,780.5 1157.4,780.8 1158.9,781.2 1160.3,781.5 1161.8,781.8 1163.3,782.0 1164.8,782.2 1166.3,782.5 1167.7,782.7 1169.2,782.9 1170.7,783.1 1172.2,783.3 1173.7,783.5 1175.2,783.7 1176.7,783.9 1178.2,784.0 1179.6,784.2 1181.1,784.4 1182.6,784.6 1184.1,784.8 1185.6,784.9 1187.1,785.1 1188.6,785.3 1190.1,785.5 1191.6,785.7 1193.0,785.9 1194.5,786.1 1196.0,786.3 1197.5,786.5 1199.0,786.6 1200.5,786.8 1202.0,786.9 1203.5,787.1 1205.0,787.2 1206.5,787.3 1208.0,787.4 1209.5,787.4 1211.0,787.5 1212.5,787.5 1214.0,787.6 1215.5,787.6 1217.0,787.6 1218.5,787.7 1220.0,787.7 1221.5,787.7 1223.0,787.8 1224.5,787.8 1226.0,787.8 1227.5,787.9 1229.0,787.9 1230.5,787.9 1232.0,787.9 1233.5,787.9 1235.0,788.0 1236.5,788.0 1238.0,788.0 1239.5,788.0 1241.0,788.0 1242.5,788.0 1244.0,788.0 1245.5,788.0 1247.0,788.0 1248.5,788.0 1250.0,788.0 1251.5,788.0 1253.0,788.0 1254.5,788.0 1256.0,788.0 1257.5,788.0 1259.0,788.1 1260.5,788.1 1262.0,788.1 1263.5,788.1 1265.0,788.1 1266.5,788.1 1268.0,788.1 1269.5,788.1 1271.0,788.1 1272.5,788.1 1274.0,788.1 1275.5,788.1 1277.0,788.1 1278.5,788.1 1280.0,788.1 1281.5,788.1 1283.0,788.1 1284.5,788.1 1286.0,788.1 1287.5,788.1 1289.0,788.1 1290.5,788.1 1292.0,788.1 1293.5,788.1 1295.0,788.1 1296.5,788.1 1298.0,788.1 1299.5,788.1 1301.0,788.1 1302.5,788.1 1304.0,788.1 1305.5,788.1 1307.0,788.1 1308.5,788.0 1310.0,788.0 1311.5,788.0 1313.0,788.0 1314.5,788.0 1316.0,787.9 1317.5,787.9 1319.0,787.9 1320.5,787.9 1322.0,787.8 1323.5,787.8 1325.0,787.8 1326.5,787.8 1328.0,787.7 1329.5,787.7 1331.0,787.7 1332.5,787.7 1334.0,787.7 1335.5,787.7 1337.0,787.7 1338.5,787.7 1340.0,787.6 1341.5,787.6 1343.0,787.6 1344.5,787.6 1346.0,787.6 1347.5,787.6 1349.0,787.6 1350.5,787.6 1352.0,787.6 1353.5,787.6 1355.0,787.6 1356.5,787.6 1358.0,787.6 1359.5,787.6 1361.0,787.6 1362.5,787.5 1364.0,787.5 1365.5,787.5 1367.0,787.5 1368.5,787.5 1370.0,787.5 1371.5,787.5 1373.0,787.5 1374.5,787.5 1376.0,787.5 1377.5,787.4 1379.0,787.4 1380.5,787.4 1382.0,787.4 1383.5,787.3 1385.0,787.3 1386.4,787.3 1387.9,787.2 1389.4,787.1 1390.9,787.1 1392.4,787.0 1393.9,786.9 1395.4,786.8 1396.9,786.7 1398.4,786.6 1399.9,786.5 1401.4,786.4 1402.9,786.2 1404.4,786.1 1405.9,786.0 1407.4,785.9 1408.9,785.8 1410.4,785.6 1411.9,785.5 1413.4,785.4 1414.9,785.3 1416.4,785.1 1417.9,785.0 1419.4,784.8 1420.8,784.7 1422.3,784.5 1423.8,784.3 1425.3,784.1 1426.8,784.0 1428.3,783.8 1429.8,783.6 1431.3,783.4 1432.8,783.2 1434.2,783.0 1435.7,782.8 1437.2,782.5 1438.7,782.3 1440.2,782.1 1441.6,781.8 1443.1,781.5 1444.6,781.3 1446.1,781.0 1447.5,780.7 1449.0,780.4 1450.5,780.1 1451.9,779.8 1453.4,779.4 1454.9,779.1 1456.3,778.8 1457.8,778.5 1459.3,778.2 1460.7,777.9 1462.2,777.6 1463.7,777.2 1465.1,776.9 1466.6,776.5 1468.0,776.1 1469.5,775.8 1471.0,775.4 1472.4,775.1 1473.9,774.8 1475.4,774.6 1476.9,774.5 1478.4,774.4 1479.9,774.4 1481.4,774.4 1482.9,774.4 1484.4,774.3 1485.9,774.3 1487.4,774.3 1488.9,774.3 1490.4,774.3 1491.9,774.3 1493.4,774.3 1494.9,774.4 1496.4,774.4 1497.8,774.6 1499.3,774.7 1500.8,775.0 1502.3,775.2 1503.8,775.5 1505.2,775.8 1506.7,776.1 1508.2,776.3 1509.7,776.6 1511.1,776.8 1512.6,777.1 1514.1,777.3 1515.6,777.6 1517.1,777.9 1518.5,778.1 1520.0,778.4 1521.5,778.7 1523.0,778.9 1524.4,779.2 1525.9,779.5 1527.4,779.7 1528.9,779.9 1530.4,780.2 1531.8,780.4 1533.3,780.6 1534.8,780.7 1536.3,780.9 1537.8,781.0 1539.3,781.1 1540.8,781.3 1542.3,781.4 1543.8,781.5 1545.3,781.6 1546.8,781.7 1548.3,781.8 1549.8,781.9 1551.3,782.1 1552.8,782.2 1554.3,782.3 1555.8,782.5 1557.2,782.6 1558.7,782.7 1560.2,782.9 1561.7,783.0 1563.2,783.2 1564.7,783.3 1566.2,783.4 1567.7,783.6 1569.2,783.7 1570.7,783.8 1572.2,783.9 1573.7,784.0 1575.2,784.1 1576.7,784.2 1578.2,784.3 1579.7,784.4 1581.2,784.5 1582.7,784.5 1584.2,784.6 1585.7,784.7 1587.2,784.8 1588.7,784.8 1590.2,784.9 1591.7,785.0 1593.2,785.0 1594.7,785.1 1596.2,785.2 1597.7,785.2 1599.2,785.3 1600.7,785.3 1602.1,785.4 1603.6,785.5 1605.1,785.5 1606.6,785.6 1608.1,785.6 1609.6,785.7 1611.1,785.8 1612.6,785.8 1614.1,785.9 1615.6,785.9 1617.1,786.0 1618.6,786.0 1620.1,786.1 1621.6,786.1 1623.1,786.2 1624.6,786.3 1626.1,786.3 1627.6,786.4 1629.1,786.4 1630.6,786.5 1632.1,786.5 1633.6,786.6 1635.1,786.6 1636.6,786.7 1638.1,786.7 1639.6,786.8 1641.1,786.8 1642.6,786.9 1644.1,786.9 1645.6,787.0 1647.1,787.0 1648.6,787.1 1650.1,787.1 1651.6,787.2 1653.1,787.2 1654.6,787.3 1656.1,787.3 1657.6,787.4 1659.1,787.4 1660.6,787.5 1662.1,787.5 1663.6,787.6 1665.1,787.6 1666.6,787.7 1668.1,787.7 1669.6,787.8 1671.1,787.8 1672.6,787.9 1674.1,787.9 1675.6,787.9 1677.1,788.0 1678.6,788.0 1680.1,788.0 1681.6,788.0 1683.1,788.0 1684.6,788.0 1686.1,788.0 1687.6,788.0 1689.1,787.9 1690.6,787.9 1692.1,787.9 1693.6,787.8 1695.1,787.8 1696.6,787.8 1698.1,787.7 1699.6,787.7 1701.1,787.6 1702.6,787.6 1704.1,787.5 1705.6,787.5 1707.1,787.4 1708.6,787.4 1710.1,787.3 1711.6,787.3 1713.1,787.2 1714.6,787.2 1716.1,787.2 1717.6,787.1 1719.1,787.1 1720.6,787.0 1722.1,787.0 1723.6,787.0 1725.1,786.9 1726.6,786.9 1728.1,786.9 1729.6,786.8 1731.1,786.8 1732.6,786.7 1734.1,786.7 1735.6,786.7 1737.1,786.6 1738.6,786.6 1740.1,786.5 1741.6,786.5 1743.1,786.5 1744.6,786.4 1746.1,786.4 1747.6,786.3 1749.1,786.3 1750.6,786.2 1752.1,786.2 1753.6,786.1 1755.1,786.1 1756.6,786.0 1758.1,785.9 1759.6,785.9 1761.1,785.8 1762.6,785.7 1764.1,785.6 1765.6,785.6 1767.1,785.5 1768.6,785.4 1770.1,785.3 1771.6,785.1 1773.0,785.0 1774.5,784.9 1776.0,784.7 1777.5,784.6 1779.0,784.4 1780.5,784.3 1782.0,784.1 1783.5,784.0 1785.0,783.8 1786.5,783.6 1788.0,783.4 1789.5,783.3 1790.9,783.1 1792.4,782.9 1793.9,782.7 1795.4,782.5 1796.9,782.3 1798.4,782.1 1799.9,781.9 1801.3,781.7 1802.8,781.5 1804.3,781.3 1805.8,781.0 1807.3,780.8 1808.8,780.5 1810.2,780.3 1811.7,780.0 1813.2,779.8 1814.7,779.5 1816.1,779.2 1817.6,779.0 1819.1,778.7 1820.6,778.4 1822.0,778.1 1823.5,777.8 1825.0,777.6 1826.5,777.3 1827.9,777.0 1829.4,776.7 1830.9,776.3 1832.3,776.0 1833.8,775.6 1835.2,775.3 1836.7,774.9 1838.1,774.5 1839.6,774.1 1841.0,773.7 1842.5,773.2 1843.9,772.8 1845.3,772.5 1846.8,772.1 1848.2,771.7 1849.7,771.3 1851.2,771.0 1852.6,770.7 1854.1,770.4 1855.6,770.2 1857.1,770.0 1858.6,769.8 1860.1,769.6 1861.5,769.5 1863.0,769.4 1864.5,769.3 1866.0,769.2 1867.5,769.1 1869.0,769.1 1870.5,769.0 1872.0,768.9 1873.5,768.9 1875.0,768.8 1876.5,768.7 1878.0,768.7 1879.5,768.7 1881.0,768.6 1882.5,768.6 1884.0,768.7 1885.5,768.8 1887.0,769.0 1888.4,769.3 1889.9,769.7 1891.3,770.2 1892.7,770.7 1894.1,771.2 1895.5,771.8 1896.9,772.3 1898.3,772.8 1899.8,773.2 1901.2,773.6 1902.7,773.9 1904.1,774.2 1905.6,774.5 1907.1,774.7 1908.6,775.0 1910.1,775.2 1911.5,775.5 1913.0,775.7 1914.5,775.9 1916.0,776.2 1917.5,776.4 1919.0,776.6 1920.4,776.8 1921.9,777.0 1923.4,777.3 1924.9,777.5 1926.4,777.7 1927.8,778.0 1929.3,778.2 1930.8,778.5 1932.3,778.8 1933.8,779.0 1935.2,779.3 1936.7,779.5 1938.2,779.8 1939.7,780.0 1941.1,780.3 1942.6,780.5 1944.1,780.8 1945.6,781.0 1947.1,781.2 1948.6,781.5 1950.0,781.7 1951.5,781.9 1953.0,782.0 1954.5,782.2 1956.0,782.4 1957.5,782.5 1959.0,782.6 1960.5,782.8 1962.0,782.9 1963.5,783.0 1965.0,783.1 1966.5,783.2 1968.0,783.3 1969.5,783.4 1971.0,783.5 1972.5,783.6 1973.9,783.7 1975.4,783.7 1976.9,783.8 1978.4,783.9 1979.9,784.0 1981.4,784.0 1982.9,784.1 1984.4,784.2 1985.9,784.3 1987.4,784.4 1988.9,784.4 1990.4,784.5 1991.9,784.6 1993.4,784.7 1994.9,784.7 1996.4,784.8 1997.9,784.9 1999.4,785.0 2000.9,785.1 2002.4,785.2 2003.9,785.3 2005.4,785.4 2006.9,785.5 2008.4,785.6 2009.9,785.7 2011.4,785.8 2012.9,785.9 2014.4,786.0 2015.9,786.1 2017.4,786.2 2018.9,786.2 2020.4,786.3 2021.9,786.4 2023.4,786.5 2024.9,786.6 2026.4,786.6 2027.9,786.7 2029.4,786.8 2030.9,786.8 2032.4,786.9 2033.9,786.9 2035.4,787.0 2036.9,787.0 2038.4,787.1 2039.9,787.1 2041.4,787.2 2042.9,787.2 2044.4,787.2 2045.9,787.3 2047.4,787.3 2048.8,787.4 2050.3,787.4 2051.8,787.4 2053.3,787.5 2054.8,787.5 2056.3,787.6 2057.8,787.6 2059.3,787.6 2060.8,787.7 2062.3,787.7 2063.8,787.7 2065.3,787.8 2066.8,787.8 2068.3,787.8 2069.8,787.8 2071.3,787.9 2072.8,787.9 2074.3,787.9 2075.8,787.9 2077.3,787.9 2078.8,787.9 2080.3,788.0 2081.8,788.0 2083.3,788.0 2084.8,788.0 2086.3,788.0 2087.5,788.0 2088.2,788.0" fill="none" stroke="#0000FF" stroke-width="4" stroke-linejoin="round" stroke-linecap="butt"/>
<path d="M188.9,1038.5 189.9,1038.4 191.1,1038.3 192.6,1038.1 194.1,1038.0 195.6,1037.8 197.0,1037.7 198.5,1037.5 200.0,1037.4 201.5,1037.2 203.0,1037.1 204.5,1037.0 206.0,1036.8 207.5,1036.7 209.0,1036.5 210.5,1036.3 212.0,1036.1 213.4,1035.8 214.9,1035.5 216.4,1035.1 217.8,1034.8 219.3,1034.4 220.7,1034.0 222.2,1033.7 223.6,1033.3 225.1,1032.8 226.5,1032.4 227.9,1032.0 229.4,1031.5 230.8,1031.1 232.2,1030.6 233.7,1030.2 235.1,1029.8 236.5,1029.3 238.0,1028.9 239.4,1028.5 240.9,1028.1 242.3,1027.7 243.7,1027.2 245.1,1026.7 246.5,1026.2 247.9,1025.6 249.2,1024.9 250.5,1024.1 251.8,1023.3 253.0,1022.4 254.2,1021.5 255.3,1020.5 256.4,1019.5 257.5,1018.5 258.6,1017.4 259.6,1016.4 260.7,1015.3 261.7,1014.2 262.7,1013.1 263.7,1011.9 264.6,1010.8 265.5,1009.6 266.4,1008.4 267.2,1007.1 268.0,1005.8 268.7,1004.5 269.4,1003.2 270.1,1001.9 270.9,1000.6 271.7,999.3 272.6,998.1 273.5,997.0 274.5,995.8 275.4,994.7 276.2,993.4 276.9,992.1 277.5,990.7 278.0,989.3 278.5,987.9 279.0,986.5 279.5,985.0 280.0,983.6 280.4,982.2 280.9,980.8 281.3,979.3 281.8,977.9 282.3,976.5 282.7,975.1 283.2,973.6 283.6,972.2 284.1,970.8 284.5,969.3 285.0,967.9 285.4,966.5 285.8,965.0 286.2,963.6 286.6,962.1 287.0,960.7 287.4,959.2 287.7,957.8 288.1,956.3 288.5,954.9 288.8,953.4 289.2,951.9 289.5,950.5 289.8,949.0 290.1,947.6 290.4,946.1 290.8,944.6 291.0,943.1 291.3,941.7 291.6,940.2 291.9,938.7 292.1,937.2 292.4,935.8 292.6,934.3 292.9,932.8 293.1,931.3 293.3,929.8 293.6,928.4 293.8,926.9 294.0,925.4 294.2,923.9 294.5,922.4 294.7,920.9 294.9,919.5 295.1,918.0 295.4,916.5 295.6,915.0 295.8,913.5 296.0,912.0 296.2,910.6 296.5,909.1 296.7,907.6 296.9,906.1 297.2,904.6 297.4,903.2 297.7,901.7 297.9,900.2 298.2,898.7 298.4,897.2 298.6,895.8 298.8,894.3 299.0,892.8 299.2,891.3 299.5,889.8 299.7,888.3 299.9,886.8 300.1,885.4 300.3,883.9 300.6,882.4 300.8,880.9 301.1,879.4 301.3,878.0 301.5,876.5 301.8,875.0 302.0,873.5 302.3,872.0 302.5,870.6 302.7,869.1 303.0,867.6 303.2,866.1 303.5,864.6 303.7,863.1 303.9,861.7 304.1,860.2 304.4,858.7 304.6,857.2 304.8,855.7 305.0,854.2 305.2,852.8 305.5,851.3 305.7,849.8 305.9,848.3 306.1,846.8 306.3,845.3 306.5,843.9 306.7,842.4 306.9,840.9 307.1,839.4 307.3,837.9 307.5,836.4 307.7,834.9 307.9,833.4 308.0,832.0 308.2,830.5 308.4,829.0 308.6,827.5 308.9,826.0 309.2,824.6 309.6,823.1 310.1,821.7 310.7,820.3 311.3,819.0 312.0,817.7 312.9,816.5 313.9,815.7 315.0,815.5 316.2,815.9 317.2,816.7 318.0,817.9 318.7,819.2 319.3,820.6 319.7,822.0 320.0,823.5 320.3,824.9 320.6,826.4 320.9,827.9 321.2,829.3 321.4,830.8 321.7,832.3 322.0,833.8 322.2,835.2 322.5,836.7 322.8,838.2 323.0,839.7 323.2,841.2 323.5,842.6 323.7,844.1 323.9,845.6 324.2,847.1 324.4,848.6 324.6,850.1 324.8,851.5 325.0,853.0 325.2,854.5 325.4,856.0 325.6,857.5 325.8,859.0 326.0,860.5 326.2,861.9 326.4,863.4 326.6,864.9 326.8,866.4 327.0,867.9 327.2,869.4 327.4,870.9 327.6,872.3 327.9,873.8 328.1,875.3 328.3,876.8 328.5,878.3 328.8,879.8 329.0,881.2 329.3,882.7 329.7,884.2 330.0,885.6 330.3,887.1 330.6,888.6 330.9,890.0 331.1,891.5 331.4,893.0 331.6,894.5 331.8,896.0 332.0,897.5 332.3,898.9 332.5,900.4 332.8,901.9 333.1,903.4 333.3,904.8 333.6,906.3 333.8,907.8 334.1,909.3 334.3,910.8 334.5,912.2 334.8,913.7 335.0,915.2 335.2,916.7 335.4,918.2 335.6,919.7 335.8,921.1 336.1,922.6 336.3,924.1 336.5,925.6 336.7,927.1 337.0,928.6 337.2,930.0 337.4,931.5 337.6,933.0 337.9,934.5 338.1,936.0 338.3,937.5 338.6,938.9 338.8,940.4 339.1,941.9 339.4,943.4 339.7,944.8 340.0,946.3 340.4,947.8 340.7,949.2 341.1,950.7 341.4,952.1 341.8,953.6 342.2,955.0 342.6,956.5 343.0,957.9 343.4,959.4 343.9,960.8 344.3,962.2 344.8,963.6 345.2,965.1 345.7,966.5 346.2,967.9 346.7,969.3 347.2,970.7 347.8,972.1 348.3,973.5 348.8,975.0 349.3,976.4 349.9,977.8 350.4,979.2 350.9,980.6 351.5,982.0 352.0,983.4 352.6,984.7 353.1,986.1 353.7,987.5 354.3,988.9 354.9,990.3 355.5,991.7 356.1,993.0 356.7,994.4 357.4,995.8 358.0,997.1 358.6,998.5 359.2,999.8 359.9,1001.2 360.5,1002.6 361.2,1003.9 361.9,1005.2 362.6,1006.6 363.3,1007.9 364.1,1009.1 365.0,1010.3 366.0,1011.4 367.1,1012.4 368.3,1013.3 369.5,1014.1 370.7,1015.0 371.8,1016.1 372.8,1017.1 373.8,1018.2 374.9,1019.3 376.0,1020.3 377.2,1021.2 378.5,1021.9 379.8,1022.6 381.1,1023.3 382.4,1024.1 383.6,1024.9 384.7,1025.9 385.8,1026.9 386.9,1027.9 388.1,1028.9 389.3,1029.7 390.6,1030.4 392.0,1031.0 393.4,1031.5 394.8,1031.9 396.2,1032.3 397.7,1032.7 399.1,1033.1 400.6,1033.5 402.0,1033.8 403.5,1034.3 404.9,1034.7 406.4,1035.1 407.8,1035.5 409.3,1035.9 410.7,1036.3 412.2,1036.7 413.6,1037.0 415.1,1037.3 416.6,1037.6 418.0,1037.9 419.5,1038.2 421.0,1038.4 422.5,1038.7 423.9,1038.9 425.4,1039.1 426.9,1039.2 428.4,1039.4 429.9,1039.5 431.4,1039.7 432.9,1039.8 434.4,1039.9 435.9,1040.0 437.4,1040.1 438.9,1040.1 440.4,1040.3 441.9,1040.4 443.4,1040.5 444.9,1040.6 446.4,1040.8 447.9,1040.9 449.3,1041.1 450.8,1041.2 452.3,1041.2 453.8,1041.3 455.3,1041.2 456.8,1041.2 458.3,1041.1 459.8,1041.0 461.3,1040.9 462.8,1040.7 464.3,1040.6 465.8,1040.4 467.3,1040.2 468.8,1040.0 470.3,1039.8 471.7,1039.5 473.2,1039.3 474.7,1039.0 476.2,1038.8 477.7,1038.6 479.1,1038.5 480.6,1038.5 482.1,1038.5 483.6,1038.5 485.1,1038.6 486.6,1038.7 488.1,1038.8 489.6,1038.9 491.1,1039.1 492.6,1039.2 494.1,1039.3 495.6,1039.5 497.1,1039.6 498.6,1039.8 500.1,1039.9 501.6,1040.1 503.1,1040.2 504.6,1040.2 506.1,1040.3 507.6,1040.3 509.1,1040.3 510.6,1040.3 512.1,1040.3 513.6,1040.3 515.1,1040.3 516.6,1040.3 518.1,1040.3 519.6,1040.3 521.1,1040.4 522.6,1040.4 524.1,1040.4 525.6,1040.4 527.1,1040.4 528.6,1040.4 530.1,1040.4 531.6,1040.4 533.1,1040.4 534.6,1040.4 536.1,1040.4 537.6,1040.4 539.1,1040.4 540.6,1040.4 542.1,1040.4 543.6,1040.4 545.1,1040.4 546.6,1040.4 548.1,1040.4 549.6,1040.4 551.1,1040.4 552.6,1040.4 554.1,1040.4 555.6,1040.4 557.1,1040.4 558.6,1040.4 560.1,1040.4 561.6,1040.5 563.1,1040.5 564.6,1040.5 566.1,1040.5 567.6,1040.5 569.1,1040.5 570.6,1040.5 572.1,1040.5 573.6,1040.5 575.1,1040.5 576.6,1040.5 578.1,1040.5 579.6,1040.5 581.1,1040.5 582.6,1040.5 584.1,1040.5 585.6,1040.5 587.1,1040.5 588.6,1040.5 590.1,1040.5 591.6,1040.5 593.1,1040.5 594.6,1040.5 596.1,1040.5 597.6,1040.5 599.1,1040.5 600.6,1040.5 602.1,1040.5 603.6,1040.5 605.1,1040.5 606.6,1040.5 608.1,1040.5 609.6,1040.5 611.1,1040.5 612.6,1040.5 614.1,1040.5 615.6,1040.5 617.1,1040.5 618.6,1040.5 620.1,1040.5 621.6,1040.5 623.1,1040.5 624.6,1040.5 626.1,1040.5 627.6,1040.5 629.1,1040.5 630.6,1040.5 632.1,1040.5 633.6,1040.5 635.1,1040.5 636.6,1040.5 638.1,1040.5 639.6,1040.5 641.1,1040.5 642.6,1040.5 644.1,1040.5 645.6,1040.5 647.1,1040.5 648.6,1040.5 650.1,1040.5 651.6,1040.5 653.1,1040.5 654.6,1040.5 656.1,1040.5 657.6,1040.5 659.1,1040.5 660.6,1040.5 662.1,1040.5 663.6,1040.5 665.1,1040.5 666.6,1040.5 668.1,1040.4 669.6,1040.4 671.1,1040.4 672.6,1040.4 674.1,1040.4 675.6,1040.4 677.1,1040.4 678.6,1040.4 680.1,1040.4 681.6,1040.4 683.1,1040.4 684.6,1040.4 686.1,1040.4 687.6,1040.4 689.1,1040.4 690.6,1040.3 692.1,1040.3 693.6,1040.3 695.1,1040.3 696.6,1040.3 698.1,1040.3 699.6,1040.3 701.1,1040.3 702.6,1040.3 704.1,1040.3 705.6,1040.3 707.1,1040.3 708.6,1040.2 710.1,1040.2 711.6,1040.2 713.1,1040.2 714.6,1040.2 716.1,1040.2 717.6,1040.2 719.1,1040.2 720.6,1040.2 722.1,1040.2 723.6,1040.2 725.1,1040.2 726.6,1040.2 728.1,1040.1 729.6,1040.1 731.1,1040.1 732.6,1040.1 734.1,1040.1 735.6,1040.1 737.1,1040.1 738.6,1040.1 740.1,1040.1 741.6,1040.1 743.1,1040.1 744.6,1040.1 746.1,1040.1 747.6,1040.1 749.1,1040.1 750.6,1040.0 752.1,1040.0 753.6,1040.0 755.1,1040.0 756.6,1040.0 758.1,1040.0 759.6,1040.0 761.1,1040.0 762.6,1040.0 764.1,1040.0 765.6,1040.0 767.1,1040.0 768.6,1040.0 770.1,1040.0 771.6,1040.0 773.1,1040.0 774.6,1040.0 776.1,1040.0 777.6,1040.0 779.1,1040.0 780.6,1040.0 782.1,1040.0 783.6,1040.0 785.1,1040.0 786.6,1040.0 788.1,1040.0 789.6,1040.0 791.1,1040.0 792.6,1040.0 794.1,1040.0 795.6,1040.0 797.1,1040.0 798.6,1040.0 800.1,1040.0 801.6,1040.0 803.1,1040.0 804.6,1040.1 806.1,1040.1 807.6,1040.1 809.1,1040.1 810.6,1040.1 812.1,1040.1 813.6,1040.1 815.1,1040.1 816.6,1040.1 818.1,1040.1 819.6,1040.1 821.1,1040.1 822.6,1040.1 824.1,1040.1 825.6,1040.2 827.1,1040.2 828.6,1040.2 830.1,1040.2 831.6,1040.2 833.1,1040.2 834.6,1040.2 836.1,1040.2 837.6,1040.2 839.1,1040.2 840.6,1040.2 842.1,1040.3 843.6,1040.3 845.1,1040.3 846.6,1040.3 848.1,1040.3 849.6,1040.3 851.1,1040.3 852.6,1040.3 854.1,1040.3 855.6,1040.3 857.1,1040.4 858.6,1040.4 860.1,1040.4 861.6,1040.4 863.1,1040.4 864.6,1040.4 866.1,1040.4 867.6,1040.4 869.1,1040.4 870.6,1040.4 872.1,1040.5 873.6,1040.5 875.1,1040.5 876.6,1040.5 878.1,1040.5 879.6,1040.5 881.1,1040.5 882.6,1040.5 884.1,1040.5 885.6,1040.5 887.1,1040.6 888.6,1040.6 890.1,1040.6 891.6,1040.6 893.1,1040.6 894.6,1040.6 896.1,1040.6 897.6,1040.6 899.1,1040.6 900.6,1040.6 902.1,1040.6 903.6,1040.7 905.1,1040.7 906.6,1040.7 908.1,1040.7 909.6,1040.7 911.1,1040.7 912.6,1040.7 914.1,1040.7 915.6,1040.7 917.1,1040.7 918.6,1040.7 920.1,1040.7 921.6,1040.7 923.1,1040.7 924.6,1040.8 926.1,1040.8 927.6,1040.8 929.1,1040.8 930.6,1040.8 932.1,1040.8 933.6,1040.8 935.1,1040.8 936.6,1040.8 938.1,1040.8 939.6,1040.8 941.1,1040.8 942.6,1040.8 944.1,1040.8 945.6,1040.8 947.1,1040.8 948.6,1040.8 950.1,1040.8 951.6,1040.8 953.1,1040.8 954.6,1040.8 956.1,1040.8 957.6,1040.8 959.1,1040.7 960.6,1040.7 962.1,1040.7 963.6,1040.7 965.1,1040.7 966.6,1040.6 968.1,1040.6 969.6,1040.6 971.1,1040.5 972.6,1040.5 974.1,1040.5 975.6,1040.4 977.1,1040.4 978.6,1040.3 980.1,1040.3 981.6,1040.3 983.1,1040.2 984.6,1040.2 986.0,1040.1 987.5,1040.1 989.0,1040.0 990.5,1040.0 992.0,1039.9 993.5,1039.9 995.0,1039.9 996.5,1039.8 998.0,1039.8 999.5,1039.7 1001.0,1039.7 1002.5,1039.6 1004.0,1039.6 1005.5,1039.5 1007.0,1039.5 1008.5,1039.4 1010.0,1039.3 1011.5,1039.3 1013.0,1039.2 1014.5,1039.1 1016.0,1039.1 1017.5,1039.0 1019.0,1038.9 1020.5,1038.8 1022.0,1038.8 1023.5,1038.7 1025.0,1038.6 1026.5,1038.5 1028.0,1038.4 1029.5,1038.3 1031.0,1038.2 1032.5,1038.0 1034.0,1037.9 1035.5,1037.8 1037.0,1037.6 1038.5,1037.5 1040.0,1037.3 1041.5,1037.2 1042.9,1037.0 1044.4,1036.8 1045.9,1036.6 1047.4,1036.4 1048.9,1036.2 1050.4,1035.9 1051.8,1035.6 1053.3,1035.2 1054.7,1034.9 1056.2,1034.5 1057.7,1034.2 1059.1,1033.8 1060.6,1033.5 1062.0,1033.1 1063.5,1032.8 1065.0,1032.4 1066.4,1032.1 1067.9,1031.7 1069.3,1031.3 1070.8,1031.0 1072.2,1030.6 1073.7,1030.2 1075.1,1029.8 1076.6,1029.4 1078.0,1029.0 1079.5,1028.6 1080.9,1028.2 1082.3,1027.7 1083.7,1027.2 1085.2,1026.8 1086.6,1026.3 1088.0,1025.8 1089.5,1025.4 1090.9,1025.0 1092.4,1024.7 1093.8,1024.4 1095.3,1024.1 1096.8,1023.9 1098.3,1023.6 1099.8,1023.4 1101.2,1023.2 1102.7,1023.0 1104.2,1022.9 1105.7,1022.7 1107.2,1022.6 1108.7,1022.6 1110.2,1022.5 1111.7,1022.6 1113.2,1022.7 1114.7,1022.8 1116.2,1023.0 1117.7,1023.2 1119.1,1023.5 1120.6,1023.8 1122.1,1024.0 1123.6,1024.3 1125.0,1024.6 1126.5,1024.8 1128.0,1025.0 1129.5,1025.3 1131.0,1025.5 1132.4,1025.7 1133.9,1025.9 1135.4,1026.2 1136.9,1026.4 1138.4,1026.7 1139.8,1027.0 1141.3,1027.3 1142.8,1027.6 1144.2,1027.9 1145.7,1028.3 1147.1,1028.7 1148.6,1029.1 1150.0,1029.6 1151.4,1030.0 1152.9,1030.5 1154.3,1031.0 1155.7,1031.4 1157.1,1031.9 1158.6,1032.3 1160.0,1032.8 1161.4,1033.2 1162.8,1033.7 1164.3,1034.2 1165.7,1034.7 1167.1,1035.1 1168.6,1035.6 1170.0,1036.0 1171.4,1036.3 1172.9,1036.7 1174.4,1037.0 1175.9,1037.2 1177.3,1037.5 1178.8,1037.7 1180.3,1037.9 1181.8,1038.0 1183.3,1038.2 1184.8,1038.4 1186.3,1038.6 1187.8,1038.7 1189.3,1038.8 1190.8,1039.0 1192.2,1039.1 1193.7,1039.2 1195.2,1039.3 1196.7,1039.4 1198.2,1039.5 1199.7,1039.5 1201.2,1039.6 1202.7,1039.6 1204.2,1039.7 1205.7,1039.7 1207.2,1039.7 1208.7,1039.8 1210.2,1039.8 1211.7,1039.8 1213.2,1039.9 1214.7,1039.9 1216.2,1039.9 1217.7,1040.0 1219.2,1040.0 1220.7,1040.0 1222.2,1040.1 1223.7,1040.1 1225.2,1040.2 1226.7,1040.2 1228.2,1040.3 1229.7,1040.3 1231.2,1040.4 1232.7,1040.4 1234.2,1040.5 1235.7,1040.5 1237.2,1040.6 1238.7,1040.6 1240.2,1040.7 1241.7,1040.7 1243.2,1040.7 1244.7,1040.8 1246.2,1040.8 1247.7,1040.8 1249.2,1040.8 1250.7,1040.8 1252.2,1040.8 1253.7,1040.8 1255.2,1040.8 1256.7,1040.8 1258.2,1040.8 1259.7,1040.7 1261.2,1040.7 1262.7,1040.7 1264.2,1040.7 1265.7,1040.7 1267.2,1040.7 1268.7,1040.7 1270.2,1040.6 1271.7,1040.6 1273.2,1040.6 1274.7,1040.6 1276.2,1040.6 1277.7,1040.6 1279.2,1040.5 1280.7,1040.5 1282.2,1040.5 1283.7,1040.5 1285.2,1040.5 1286.7,1040.5 1288.2,1040.5 1289.7,1040.4 1291.2,1040.4 1292.7,1040.4 1294.2,1040.4 1295.7,1040.4 1297.2,1040.4 1298.7,1040.4 1300.2,1040.4 1301.7,1040.4 1303.2,1040.4 1304.7,1040.4 1306.2,1040.4 1307.7,1040.4 1309.2,1040.4 1310.7,1040.4 1312.2,1040.4 1313.7,1040.4 1315.2,1040.4 1316.7,1040.5 1318.2,1040.5 1319.7,1040.5 1321.2,1040.5 1322.7,1040.5 1324.2,1040.5 1325.7,1040.5 1327.2,1040.5 1328.7,1040.5 1330.2,1040.5 1331.7,1040.5 1333.2,1040.6 1334.7,1040.6 1336.2,1040.6 1337.7,1040.6 1339.2,1040.6 1340.7,1040.6 1342.2,1040.6 1343.7,1040.6 1345.2,1040.6 1346.7,1040.6 1348.2,1040.6 1349.7,1040.6 1351.2,1040.6 1352.7,1040.5 1354.2,1040.5 1355.7,1040.5 1357.2,1040.4 1358.7,1040.3 1360.2,1040.3 1361.7,1040.2 1363.2,1040.1 1364.7,1040.0 1366.2,1039.9 1367.7,1039.8 1369.2,1039.7 1370.7,1039.6 1372.2,1039.6 1373.7,1039.5 1375.2,1039.4 1376.7,1039.3 1378.2,1039.2 1379.7,1039.2 1381.2,1039.1 1382.7,1039.0 1384.2,1039.0 1385.7,1038.9 1387.2,1038.9 1388.7,1038.8 1390.2,1038.8 1391.7,1038.8 1393.2,1038.7 1394.7,1038.7 1396.2,1038.6 1397.7,1038.6 1399.2,1038.6 1400.7,1038.5 1402.2,1038.5 1403.7,1038.4 1405.2,1038.4 1406.7,1038.3 1408.2,1038.2 1409.7,1038.2 1411.2,1038.1 1412.7,1038.0 1414.2,1037.9 1415.6,1037.8 1417.1,1037.7 1418.6,1037.6 1420.1,1037.4 1421.6,1037.2 1423.1,1037.0 1424.6,1036.8 1426.1,1036.6 1427.6,1036.4 1429.0,1036.2 1430.5,1036.0 1432.0,1035.7 1433.5,1035.5 1435.0,1035.2 1436.4,1035.0 1437.9,1034.7 1439.4,1034.4 1440.9,1034.2 1442.3,1033.9 1443.8,1033.5 1445.3,1033.2 1446.7,1032.9 1448.2,1032.5 1449.6,1032.2 1451.1,1031.8 1452.5,1031.4 1454.0,1031.0 1455.5,1030.7 1456.9,1030.3 1458.4,1029.9 1459.8,1029.6 1461.3,1029.2 1462.7,1028.8 1464.2,1028.5 1465.6,1028.1 1467.1,1027.7 1468.5,1027.3 1470.0,1026.9 1471.4,1026.5 1472.9,1026.2 1474.3,1025.8 1475.8,1025.5 1477.3,1025.2 1478.8,1025.0 1480.2,1024.7 1481.7,1024.5 1483.2,1024.3 1484.7,1024.1 1486.2,1023.9 1487.7,1023.8 1489.2,1023.7 1490.7,1023.7 1492.2,1023.7 1493.7,1023.7 1495.2,1023.8 1496.6,1024.0 1498.1,1024.2 1499.6,1024.4 1501.1,1024.6 1502.6,1024.9 1504.1,1025.1 1505.5,1025.4 1507.0,1025.6 1508.5,1025.9 1510.0,1026.1 1511.4,1026.4 1512.9,1026.7 1514.4,1026.9 1515.9,1027.2 1517.3,1027.5 1518.8,1027.8 1520.3,1028.2 1521.7,1028.5 1523.2,1028.8 1524.7,1029.1 1526.1,1029.5 1527.6,1029.8 1529.1,1030.1 1530.5,1030.4 1532.0,1030.7 1533.5,1031.0 1534.9,1031.3 1536.4,1031.6 1537.9,1031.8 1539.4,1032.1 1540.8,1032.4 1542.3,1032.7 1543.8,1033.0 1545.3,1033.3 1546.7,1033.5 1548.2,1033.8 1549.7,1034.1 1551.2,1034.3 1552.6,1034.5 1554.1,1034.7 1555.6,1034.9 1557.1,1035.1 1558.6,1035.3 1560.1,1035.4 1561.6,1035.5 1563.1,1035.7 1564.6,1035.8 1566.1,1035.9 1567.6,1036.0 1569.1,1036.1 1570.6,1036.2 1572.1,1036.3 1573.6,1036.3 1575.1,1036.4 1576.6,1036.5 1578.1,1036.6 1579.6,1036.7 1581.0,1036.7 1582.5,1036.8 1584.0,1036.9 1585.5,1036.9 1587.0,1037.0 1588.5,1037.1 1590.0,1037.1 1591.5,1037.2 1593.0,1037.3 1594.5,1037.4 1596.0,1037.4 1597.5,1037.5 1599.0,1037.5 1600.5,1037.6 1602.0,1037.7 1603.5,1037.7 1605.0,1037.8 1606.5,1037.8 1608.0,1037.9 1609.5,1037.9 1611.0,1038.0 1612.5,1038.0 1614.0,1038.1 1615.5,1038.1 1617.0,1038.2 1618.5,1038.3 1620.0,1038.3 1621.5,1038.4 1623.0,1038.5 1624.5,1038.6 1626.0,1038.7 1627.5,1038.7 1629.0,1038.9 1630.5,1039.0 1632.0,1039.1 1633.5,1039.2 1635.0,1039.3 1636.5,1039.4 1638.0,1039.6 1639.5,1039.7 1641.0,1039.8 1642.5,1039.9 1644.0,1040.0 1645.5,1040.0 1647.0,1040.1 1648.5,1040.2 1650.0,1040.2 1651.5,1040.2 1653.0,1040.2 1654.5,1040.3 1656.0,1040.3 1657.5,1040.3 1659.0,1040.3 1660.5,1040.3 1662.0,1040.4 1663.5,1040.4 1665.0,1040.4 1666.5,1040.4 1668.0,1040.4 1669.5,1040.5 1671.0,1040.5 1672.5,1040.5 1674.0,1040.5 1675.5,1040.5 1677.0,1040.5 1678.5,1040.5 1680.0,1040.5 1681.5,1040.5 1683.0,1040.6 1684.5,1040.6 1686.0,1040.6 1687.5,1040.6 1689.0,1040.6 1690.5,1040.6 1692.0,1040.6 1693.5,1040.6 1695.0,1040.6 1696.5,1040.6 1698.0,1040.6 1699.5,1040.6 1701.0,1040.6 1702.5,1040.6 1704.0,1040.6 1705.5,1040.6 1707.0,1040.6 1708.5,1040.5 1710.0,1040.5 1711.5,1040.5 1713.0,1040.5 1714.5,1040.5 1716.0,1040.4 1717.5,1040.4 1718.9,1040.4 1720.4,1040.3 1721.9,1040.3 1723.4,1040.3 1724.9,1040.2 1726.4,1040.2 1727.9,1040.2 1729.4,1040.1 1730.9,1040.1 1732.4,1040.0 1733.9,1040.0 1735.4,1039.9 1736.9,1039.9 1738.4,1039.9 1739.9,1039.8 1741.4,1039.8 1742.9,1039.7 1744.4,1039.7 1745.9,1039.6 1747.4,1039.6 1748.9,1039.5 1750.4,1039.5 1751.9,1039.4 1753.4,1039.4 1754.9,1039.3 1756.4,1039.3 1757.9,1039.2 1759.4,1039.1 1760.9,1039.1 1762.4,1039.0 1763.9,1038.9 1765.4,1038.8 1766.9,1038.8 1768.4,1038.7 1769.9,1038.6 1771.4,1038.5 1772.9,1038.4 1774.4,1038.3 1775.9,1038.2 1777.4,1038.1 1778.9,1038.0 1780.4,1037.9 1781.9,1037.8 1783.4,1037.7 1784.9,1037.6 1786.4,1037.4 1787.9,1037.3 1789.4,1037.1 1790.8,1037.0 1792.3,1036.8 1793.8,1036.6 1795.3,1036.4 1796.8,1036.2 1798.3,1036.1 1799.8,1035.9 1801.3,1035.7 1802.8,1035.4 1804.2,1035.2 1805.7,1035.0 1807.2,1034.8 1808.7,1034.6 1810.2,1034.3 1811.7,1034.1 1813.1,1033.8 1814.6,1033.6 1816.1,1033.3 1817.5,1032.9 1819.0,1032.6 1820.5,1032.3 1821.9,1031.9 1823.4,1031.6 1824.8,1031.3 1826.3,1030.9 1827.8,1030.6 1829.3,1030.4 1830.7,1030.1 1832.2,1029.8 1833.7,1029.6 1835.2,1029.3 1836.6,1029.1 1838.1,1028.9 1839.6,1028.6 1841.1,1028.3 1842.5,1028.0 1844.0,1027.7 1845.4,1027.3 1846.9,1026.8 1848.3,1026.3 1849.7,1025.8 1851.1,1025.2 1852.5,1024.7 1853.9,1024.1 1855.3,1023.7 1856.7,1023.3 1858.2,1022.9 1859.7,1022.7 1861.2,1022.6 1862.7,1022.5 1864.2,1022.5 1865.7,1022.5 1867.2,1022.4 1868.7,1022.4 1870.2,1022.4 1871.7,1022.4 1873.2,1022.3 1874.7,1022.3 1876.2,1022.3 1877.7,1022.3 1879.2,1022.3 1880.7,1022.4 1882.2,1022.4 1883.6,1022.5 1885.1,1022.7 1886.6,1022.9 1888.1,1023.2 1889.6,1023.4 1891.0,1023.7 1892.5,1024.1 1894.0,1024.4 1895.4,1024.7 1896.9,1025.0 1898.4,1025.4 1899.8,1025.7 1901.3,1026.0 1902.7,1026.4 1904.2,1026.8 1905.6,1027.2 1907.1,1027.6 1908.5,1028.0 1910.0,1028.4 1911.4,1028.8 1912.9,1029.2 1914.3,1029.6 1915.8,1029.9 1917.2,1030.2 1918.7,1030.5 1920.2,1030.8 1921.7,1031.0 1923.2,1031.2 1924.6,1031.5 1926.1,1031.7 1927.6,1032.0 1929.1,1032.2 1930.5,1032.5 1932.0,1032.8 1933.5,1033.0 1935.0,1033.3 1936.4,1033.6 1937.9,1033.9 1939.4,1034.1 1940.9,1034.4 1942.3,1034.6 1943.8,1034.9 1945.3,1035.1 1946.8,1035.3 1948.3,1035.5 1949.8,1035.7 1951.3,1035.8 1952.8,1036.0 1954.3,1036.1 1955.7,1036.2 1957.2,1036.4 1958.7,1036.5 1960.2,1036.6 1961.7,1036.7 1963.2,1036.8 1964.7,1037.0 1966.2,1037.1 1967.7,1037.2 1969.2,1037.2 1970.7,1037.3 1972.2,1037.4 1973.7,1037.5 1975.2,1037.6 1976.7,1037.7 1978.2,1037.8 1979.7,1037.8 1981.2,1037.9 1982.7,1038.0 1984.2,1038.1 1985.7,1038.2 1987.2,1038.2 1988.7,1038.3 1990.2,1038.4 1991.7,1038.4 1993.2,1038.4 1994.7,1038.5 1996.2,1038.5 1997.7,1038.4 1999.2,1038.4 2000.7,1038.3 2002.2,1038.2 2003.7,1038.2 2005.2,1038.2 2006.7,1038.2 2008.2,1038.2 2009.7,1038.2 2011.2,1038.2 2012.7,1038.2 2014.2,1038.2 2015.7,1038.2 2017.2,1038.2 2018.7,1038.2 2020.2,1038.2 2021.7,1038.2 2023.2,1038.2 2024.7,1038.2 2026.2,1038.3 2027.7,1038.3 2029.2,1038.3 2030.7,1038.3 2032.2,1038.3 2033.7,1038.3 2035.2,1038.3 2036.7,1038.3 2038.2,1038.4 2039.7,1038.4 2041.2,1038.4 2042.7,1038.4 2044.2,1038.5 2045.7,1038.5 2047.2,1038.5 2048.7,1038.6 2050.2,1038.6 2051.7,1038.6 2053.2,1038.7 2054.7,1038.7 2056.2,1038.7 2057.7,1038.8 2059.2,1038.8 2060.7,1038.9 2062.2,1038.9 2063.7,1039.0 2065.2,1039.1 2066.7,1039.1 2068.2,1039.2 2069.6,1039.2 2071.1,1039.3 2072.6,1039.4 2074.1,1039.5 2075.6,1039.5 2077.1,1039.6 2078.6,1039.7 2080.1,1039.8 2081.6,1039.9 2083.1,1040.0 2084.6,1040.1 2086.1,1040.2 2087.3,1040.3 2088.3,1040.3" fill="none" stroke="#FF0000" stroke-width="7.4" stroke-linejoin="round" stroke-linecap="butt" shape-rendering="crispEdges"/>
<path d="M188.9,1038.5 189.9,1038.4 191.1,1038.3 192.6,1038.1 194.1,1038.0 195.6,1037.8 197.0,1037.7 198.5,1037.5 200.0,1037.4 201.5,1037.2 203.0,1037.1 204.5,1037.0 206.0,1036.8 207.5,1036.7 209.0,1036.5 210.5,1036.3 212.0,1036.1 213.4,1035.8 214.9,1035.5 216.4,1035.1 217.8,1034.8 219.3,1034.4 220.7,1034.0 222.2,1033.7 223.6,1033.3 225.1,1032.8 226.5,1032.4 227.9,1032.0 229.4,1031.5 230.8,1031.1 232.2,1030.6 233.7,1030.2 235.1,1029.8 236.5,1029.3 238.0,1028.9 239.4,1028.5 240.9,1028.1 242.3,1027.7 243.7,1027.2 245.1,1026.7 246.5,1026.2 247.9,1025.6 249.2,1024.9 250.5,1024.1 251.8,1023.3 253.0,1022.4 254.2,1021.5 255.3,1020.5 256.4,1019.5 257.5,1018.5 258.6,1017.4 259.6,1016.4 260.7,1015.3 261.7,1014.2 262.7,1013.1 263.7,1011.9 264.6,1010.8 265.5,1009.6 266.4,1008.4 267.2,1007.1 268.0,1005.8 268.7,1004.5 269.4,1003.2 270.1,1001.9 270.9,1000.6 271.7,999.3 272.6,998.1 273.5,997.0 274.5,995.8 275.4,994.7 276.2,993.4 276.9,992.1 277.5,990.7 278.0,989.3 278.5,987.9 279.0,986.5 279.5,985.0 280.0,983.6 280.4,982.2 280.9,980.8 281.3,979.3 281.8,977.9 282.3,976.5 282.7,975.1 283.2,973.6 283.6,972.2 284.1,970.8 284.5,969.3 285.0,967.9 285.4,966.5 285.8,965.0 286.2,963.6 286.6,962.1 287.0,960.7 287.4,959.2 287.7,957.8 288.1,956.3 288.5,954.9 288.8,953.4 289.2,951.9 289.5,950.5 289.8,949.0 290.1,947.6 290.4,946.1 290.8,944.6 291.0,943.1 291.3,941.7 291.6,940.2 291.9,938.7 292.1,937.2 292.4,935.8 292.6,934.3 292.9,932.8 293.1,931.3 293.3,929.8 293.6,928.4 293.8,926.9 294.0,925.4 294.2,923.9 294.5,922.4 294.7,920.9 294.9,919.5 295.1,918.0 295.4,916.5 295.6,915.0 295.8,913.5 296.0,912.0 296.2,910.6 296.5,909.1 296.7,907.6 296.9,906.1 297.2,904.6 297.4,903.2 297.7,901.7 297.9,900.2 298.2,898.7 298.4,897.2 298.6,895.8 298.8,894.3 299.0,892.8 299.2,891.3 299.5,889.8 299.7,888.3 299.9,886.8 300.1,885.4 300.3,883.9 300.6,882.4 300.8,880.9 301.1,879.4 301.3,878.0 301.5,876.5 301.8,875.0 302.0,873.5 302.3,872.0 302.5,870.6 302.7,869.1 303.0,867.6 303.2,866.1 303.5,864.6 303.7,863.1 303.9,861.7 304.1,860.2 304.4,858.7 304.6,857.2 304.8,855.7 305.0,854.2 305.2,852.8 305.5,851.3 305.7,849.8 305.9,848.3 306.1,846.8 306.3,845.3 306.5,843.9 306.7,842.4 306.9,840.9 307.1,839.4 307.3,837.9 307.5,836.4 307.7,834.9 307.9,833.4 308.0,832.0 308.2,830.5 308.4,829.0 308.6,827.5 308.9,826.0 309.2,824.6 309.6,823.1 310.1,821.7 310.7,820.3 311.3,819.0 312.0,817.7 312.9,816.5 313.9,815.7 315.0,815.5 316.2,815.9 317.2,816.7 318.0,817.9 318.7,819.2 319.3,820.6 319.7,822.0 320.0,823.5 320.3,824.9 320.6,826.4 320.9,827.9 321.2,829.3 321.4,830.8 321.7,832.3 322.0,833.8 322.2,835.2 322.5,836.7 322.8,838.2 323.0,839.7 323.2,841.2 323.5,842.6 323.7,844.1 323.9,845.6 324.2,847.1 324.4,848.6 324.6,850.1 324.8,851.5 325.0,853.0 325.2,854.5 325.4,856.0 325.6,857.5 325.8,859.0 326.0,860.5 326.2,861.9 326.4,863.4 326.6,864.9 326.8,866.4 327.0,867.9 327.2,869.4 327.4,870.9 327.6,872.3 327.9,873.8 328.1,875.3 328.3,876.8 328.5,878.3 328.8,879.8 329.0,881.2 329.3,882.7 329.7,884.2 330.0,885.6 330.3,887.1 330.6,888.6 330.9,890.0 331.1,891.5 331.4,893.0 331.6,894.5 331.8,896.0 332.0,897.5 332.3,898.9 332.5,900.4 332.8,901.9 333.1,903.4 333.3,904.8 333.6,906.3 333.8,907.8 334.1,909.3 334.3,910.8 334.5,912.2 334.8,913.7 335.0,915.2 335.2,916.7 335.4,918.2 335.6,919.7 335.8,921.1 336.1,922.6 336.3,924.1 336.5,925.6 336.7,927.1 337.0,928.6 337.2,930.0 337.4,931.5 337.6,933.0 337.9,934.5 338.1,936.0 338.3,937.5 338.6,938.9 338.8,940.4 339.1,941.9 339.4,943.4 339.7,944.8 340.0,946.3 340.4,947.8 340.7,949.2 341.1,950.7 341.4,952.1 341.8,953.6 342.2,955.0 342.6,956.5 343.0,957.9 343.4,959.4 343.9,960.8 344.3,962.2 344.8,963.6 345.2,965.1 345.7,966.5 346.2,967.9 346.7,969.3 347.2,970.7 347.8,972.1 348.3,973.5 348.8,975.0 349.3,976.4 349.9,977.8 350.4,979.2 350.9,980.6 351.5,982.0 352.0,983.4 352.6,984.7 353.1,986.1 353.7,987.5 354.3,988.9 354.9,990.3 355.5,991.7 356.1,993.0 356.7,994.4 357.4,995.8 358.0,997.1 358.6,998.5 359.2,999.8 359.9,1001.2 360.5,1002.6 361.2,1003.9 361.9,1005.2 362.6,1006.6 363.3,1007.9 364.1,1009.1 365.0,1010.3 366.0,1011.4 367.1,1012.4 368.3,1013.3 369.5,1014.1 370.7,1015.0 371.8,1016.1 372.8,1017.1 373.8,1018.2 374.9,1019.3 376.0,1020.3 377.2,1021.2 378.5,1021.9 379.8,1022.6 381.1,1023.3 382.4,1024.1 383.6,1024.9 384.7,1025.9 385.8,1026.9 386.9,1027.9 388.1,1028.9 389.3,1029.7 390.6,1030.4 392.0,1031.0 393.4,1031.5 394.8,1031.9 396.2,1032.3 397.7,1032.7 399.1,1033.1 400.6,1033.5 402.0,1033.8 403.5,1034.3 404.9,1034.7 406.4,1035.1 407.8,1035.5 409.3,1035.9 410.7,1036.3 412.2,1036.7 413.6,1037.0 415.1,1037.3 416.6,1037.6 418.0,1037.9 419.5,1038.2 421.0,1038.4 422.5,1038.7 423.9,1038.9 425.4,1039.1 426.9,1039.2 428.4,1039.4 429.9,1039.5 431.4,1039.7 432.9,1039.8 434.4,1039.9 435.9,1040.0 437.4,1040.1 438.9,1040.1 440.4,1040.3 441.9,1040.4 443.4,1040.5 444.9,1040.6 446.4,1040.8 447.9,1040.9 449.3,1041.1 450.8,1041.2 452.3,1041.2 453.8,1041.3 455.3,1041.2 456.8,1041.2 458.3,1041.1 459.8,1041.0 461.3,1040.9 462.8,1040.7 464.3,1040.6 465.8,1040.4 467.3,1040.2 468.8,1040.0 470.3,1039.8 471.7,1039.5 473.2,1039.3 474.7,1039.0 476.2,1038.8 477.7,1038.6 479.1,1038.5 480.6,1038.5 482.1,1038.5 483.6,1038.5 485.1,1038.6 486.6,1038.7 488.1,1038.8 489.6,1038.9 491.1,1039.1 492.6,1039.2 494.1,1039.3 495.6,1039.5 497.1,1039.6 498.6,1039.8 500.1,1039.9 501.6,1040.1 503.1,1040.2 504.6,1040.2 506.1,1040.3 507.6,1040.3 509.1,1040.3 510.6,1040.3 512.1,1040.3 513.6,1040.3 515.1,1040.3 516.6,1040.3 518.1,1040.3 519.6,1040.3 521.1,1040.4 522.6,1040.4 524.1,1040.4 525.6,1040.4 527.1,1040.4 528.6,1040.4 530.1,1040.4 531.6,1040.4 533.1,1040.4 534.6,1040.4 536.1,1040.4 537.6,1040.4 539.1,1040.4 540.6,1040.4 542.1,1040.4 543.6,1040.4 545.1,1040.4 546.6,1040.4 548.1,1040.4 549.6,1040.4 551.1,1040.4 552.6,1040.4 554.1,1040.4 555.6,1040.4 557.1,1040.4 558.6,1040.4 560.1,1040.4 561.6,1040.5 563.1,1040.5 564.6,1040.5 566.1,1040.5 567.6,1040.5 569.1,1040.5 570.6,1040.5 572.1,1040.5 573.6,1040.5 575.1,1040.5 576.6,1040.5 578.1,1040.5 579.6,1040.5 581.1,1040.5 582.6,1040.5 584.1,1040.5 585.6,1040.5 587.1,1040.5 588.6,1040.5 590.1,1040.5 591.6,1040.5 593.1,1040.5 594.6,1040.5 596.1,1040.5 597.6,1040.5 599.1,1040.5 600.6,1040.5 602.1,1040.5 603.6,1040.5 605.1,1040.5 606.6,1040.5 608.1,1040.5 609.6,1040.5 611.1,1040.5 612.6,1040.5 614.1,1040.5 615.6,1040.5 617.1,1040.5 618.6,1040.5 620.1,1040.5 621.6,1040.5 623.1,1040.5 624.6,1040.5 626.1,1040.5 627.6,1040.5 629.1,1040.5 630.6,1040.5 632.1,1040.5 633.6,1040.5 635.1,1040.5 636.6,1040.5 638.1,1040.5 639.6,1040.5 641.1,1040.5 642.6,1040.5 644.1,1040.5 645.6,1040.5 647.1,1040.5 648.6,1040.5 650.1,1040.5 651.6,1040.5 653.1,1040.5 654.6,1040.5 656.1,1040.5 657.6,1040.5 659.1,1040.5 660.6,1040.5 662.1,1040.5 663.6,1040.5 665.1,1040.5 666.6,1040.5 668.1,1040.4 669.6,1040.4 671.1,1040.4 672.6,1040.4 674.1,1040.4 675.6,1040.4 677.1,1040.4 678.6,1040.4 680.1,1040.4 681.6,1040.4 683.1,1040.4 684.6,1040.4 686.1,1040.4 687.6,1040.4 689.1,1040.4 690.6,1040.3 692.1,1040.3 693.6,1040.3 695.1,1040.3 696.6,1040.3 698.1,1040.3 699.6,1040.3 701.1,1040.3 702.6,1040.3 704.1,1040.3 705.6,1040.3 707.1,1040.3 708.6,1040.2 710.1,1040.2 711.6,1040.2 713.1,1040.2 714.6,1040.2 716.1,1040.2 717.6,1040.2 719.1,1040.2 720.6,1040.2 722.1,1040.2 723.6,1040.2 725.1,1040.2 726.6,1040.2 728.1,1040.1 729.6,1040.1 731.1,1040.1 732.6,1040.1 734.1,1040.1 735.6,1040.1 737.1,1040.1 738.6,1040.1 740.1,1040.1 741.6,1040.1 743.1,1040.1 744.6,1040.1 746.1,1040.1 747.6,1040.1 749.1,1040.1 750.6,1040.0 752.1,1040.0 753.6,1040.0 755.1,1040.0 756.6,1040.0 758.1,1040.0 759.6,1040.0 761.1,1040.0 762.6,1040.0 764.1,1040.0 765.6,1040.0 767.1,1040.0 768.6,1040.0 770.1,1040.0 771.6,1040.0 773.1,1040.0 774.6,1040.0 776.1,1040.0 777.6,1040.0 779.1,1040.0 780.6,1040.0 782.1,1040.0 783.6,1040.0 785.1,1040.0 786.6,1040.0 788.1,1040.0 789.6,1040.0 791.1,1040.0 792.6,1040.0 794.1,1040.0 795.6,1040.0 797.1,1040.0 798.6,1040.0 800.1,1040.0 801.6,1040.0 803.1,1040.0 804.6,1040.1 806.1,1040.1 807.6,1040.1 809.1,1040.1 810.6,1040.1 812.1,1040.1 813.6,1040.1 815.1,1040.1 816.6,1040.1 818.1,1040.1 819.6,1040.1 821.1,1040.1 822.6,1040.1 824.1,1040.1 825.6,1040.2 827.1,1040.2 828.6,1040.2 830.1,1040.2 831.6,1040.2 833.1,1040.2 834.6,1040.2 836.1,1040.2 837.6,1040.2 839.1,1040.2 840.6,1040.2 842.1,1040.3 843.6,1040.3 845.1,1040.3 846.6,1040.3 848.1,1040.3 849.6,1040.3 851.1,1040.3 852.6,1040.3 854.1,1040.3 855.6,1040.3 857.1,1040.4 858.6,1040.4 860.1,1040.4 861.6,1040.4 863.1,1040.4 864.6,1040.4 866.1,1040.4 867.6,1040.4 869.1,1040.4 870.6,1040.4 872.1,1040.5 873.6,1040.5 875.1,1040.5 876.6,1040.5 878.1,1040.5 879.6,1040.5 881.1,1040.5 882.6,1040.5 884.1,1040.5 885.6,1040.5 887.1,1040.6 888.6,1040.6 890.1,1040.6 891.6,1040.6 893.1,1040.6 894.6,1040.6 896.1,1040.6 897.6,1040.6 899.1,1040.6 900.6,1040.6 902.1,1040.6 903.6,1040.7 905.1,1040.7 906.6,1040.7 908.1,1040.7 909.6,1040.7 911.1,1040.7 912.6,1040.7 914.1,1040.7 915.6,1040.7 917.1,1040.7 918.6,1040.7 920.1,1040.7 921.6,1040.7 923.1,1040.7 924.6,1040.8 926.1,1040.8 927.6,1040.8 929.1,1040.8 930.6,1040.8 932.1,1040.8 933.6,1040.8 935.1,1040.8 936.6,1040.8 938.1,1040.8 939.6,1040.8 941.1,1040.8 942.6,1040.8 944.1,1040.8 945.6,1040.8 947.1,1040.8 948.6,1040.8 950.1,1040.8 951.6,1040.8 953.1,1040.8 954.6,1040.8 956.1,1040.8 957.6,1040.8 959.1,1040.7 960.6,1040.7 962.1,1040.7 963.6,1040.7 965.1,1040.7 966.6,1040.6 968.1,1040.6 969.6,1040.6 971.1,1040.5 972.6,1040.5 974.1,1040.5 975.6,1040.4 977.1,1040.4 978.6,1040.3 980.1,1040.3 981.6,1040.3 983.1,1040.2 984.6,1040.2 986.0,1040.1 987.5,1040.1 989.0,1040.0 990.5,1040.0 992.0,1039.9 993.5,1039.9 995.0,1039.9 996.5,1039.8 998.0,1039.8 999.5,1039.7 1001.0,1039.7 1002.5,1039.6 1004.0,1039.6 1005.5,1039.5 1007.0,1039.5 1008.5,1039.4 1010.0,1039.3 1011.5,1039.3 1013.0,1039.2 1014.5,1039.1 1016.0,1039.1 1017.5,1039.0 1019.0,1038.9 1020.5,1038.8 1022.0,1038.8 1023.5,1038.7 1025.0,1038.6 1026.5,1038.5 1028.0,1038.4 1029.5,1038.3 1031.0,1038.2 1032.5,1038.0 1034.0,1037.9 1035.5,1037.8 1037.0,1037.6 1038.5,1037.5 1040.0,1037.3 1041.5,1037.2 1042.9,1037.0 1044.4,1036.8 1045.9,1036.6 1047.4,1036.4 1048.9,1036.2 1050.4,1035.9 1051.8,1035.6 1053.3,1035.2 1054.7,1034.9 1056.2,1034.5 1057.7,1034.2 1059.1,1033.8 1060.6,1033.5 1062.0,1033.1 1063.5,1032.8 1065.0,1032.4 1066.4,1032.1 1067.9,1031.7 1069.3,1031.3 1070.8,1031.0 1072.2,1030.6 1073.7,1030.2 1075.1,1029.8 1076.6,1029.4 1078.0,1029.0 1079.5,1028.6 1080.9,1028.2 1082.3,1027.7 1083.7,1027.2 1085.2,1026.8 1086.6,1026.3 1088.0,1025.8 1089.5,1025.4 1090.9,1025.0 1092.4,1024.7 1093.8,1024.4 1095.3,1024.1 1096.8,1023.9 1098.3,1023.6 1099.8,1023.4 1101.2,1023.2 1102.7,1023.0 1104.2,1022.9 1105.7,1022.7 1107.2,1022.6 1108.7,1022.6 1110.2,1022.5 1111.7,1022.6 1113.2,1022.7 1114.7,1022.8 1116.2,1023.0 1117.7,1023.2 1119.1,1023.5 1120.6,1023.8 1122.1,1024.0 1123.6,1024.3 1125.0,1024.6 1126.5,1024.8 1128.0,1025.0 1129.5,1025.3 1131.0,1025.5 1132.4,1025.7 1133.9,1025.9 1135.4,1026.2 1136.9,1026.4 1138.4,1026.7 1139.8,1027.0 1141.3,1027.3 1142.8,1027.6 1144.2,1027.9 1145.7,1028.3 1147.1,1028.7 1148.6,1029.1 1150.0,1029.6 1151.4,1030.0 1152.9,1030.5 1154.3,1031.0 1155.7,1031.4 1157.1,1031.9 1158.6,1032.3 1160.0,1032.8 1161.4,1033.2 1162.8,1033.7 1164.3,1034.2 1165.7,1034.7 1167.1,1035.1 1168.6,1035.6 1170.0,1036.0 1171.4,1036.3 1172.9,1036.7 1174.4,1037.0 1175.9,1037.2 1177.3,1037.5 1178.8,1037.7 1180.3,1037.9 1181.8,1038.0 1183.3,1038.2 1184.8,1038.4 1186.3,1038.6 1187.8,1038.7 1189.3,1038.8 1190.8,1039.0 1192.2,1039.1 1193.7,1039.2 1195.2,1039.3 1196.7,1039.4 1198.2,1039.5 1199.7,1039.5 1201.2,1039.6 1202.7,1039.6 1204.2,1039.7 1205.7,1039.7 1207.2,1039.7 1208.7,1039.8 1210.2,1039.8 1211.7,1039.8 1213.2,1039.9 1214.7,1039.9 1216.2,1039.9 1217.7,1040.0 1219.2,1040.0 1220.7,1040.0 1222.2,1040.1 1223.7,1040.1 1225.2,1040.2 1226.7,1040.2 1228.2,1040.3 1229.7,1040.3 1231.2,1040.4 1232.7,1040.4 1234.2,1040.5 1235.7,1040.5 1237.2,1040.6 1238.7,1040.6 1240.2,1040.7 1241.7,1040.7 1243.2,1040.7 1244.7,1040.8 1246.2,1040.8 1247.7,1040.8 1249.2,1040.8 1250.7,1040.8 1252.2,1040.8 1253.7,1040.8 1255.2,1040.8 1256.7,1040.8 1258.2,1040.8 1259.7,1040.7 1261.2,1040.7 1262.7,1040.7 1264.2,1040.7 1265.7,1040.7 1267.2,1040.7 1268.7,1040.7 1270.2,1040.6 1271.7,1040.6 1273.2,1040.6 1274.7,1040.6 1276.2,1040.6 1277.7,1040.6 1279.2,1040.5 1280.7,1040.5 1282.2,1040.5 1283.7,1040.5 1285.2,1040.5 1286.7,1040.5 1288.2,1040.5 1289.7,1040.4 1291.2,1040.4 1292.7,1040.4 1294.2,1040.4 1295.7,1040.4 1297.2,1040.4 1298.7,1040.4 1300.2,1040.4 1301.7,1040.4 1303.2,1040.4 1304.7,1040.4 1306.2,1040.4 1307.7,1040.4 1309.2,1040.4 1310.7,1040.4 1312.2,1040.4 1313.7,1040.4 1315.2,1040.4 1316.7,1040.5 1318.2,1040.5 1319.7,1040.5 1321.2,1040.5 1322.7,1040.5 1324.2,1040.5 1325.7,1040.5 1327.2,1040.5 1328.7,1040.5 1330.2,1040.5 1331.7,1040.5 1333.2,1040.6 1334.7,1040.6 1336.2,1040.6 1337.7,1040.6 1339.2,1040.6 1340.7,1040.6 1342.2,1040.6 1343.7,1040.6 1345.2,1040.6 1346.7,1040.6 1348.2,1040.6 1349.7,1040.6 1351.2,1040.6 1352.7,1040.5 1354.2,1040.5 1355.7,1040.5 1357.2,1040.4 1358.7,1040.3 1360.2,1040.3 1361.7,1040.2 1363.2,1040.1 1364.7,1040.0 1366.2,1039.9 1367.7,1039.8 1369.2,1039.7 1370.7,1039.6 1372.2,1039.6 1373.7,1039.5 1375.2,1039.4 1376.7,1039.3 1378.2,1039.2 1379.7,1039.2 1381.2,1039.1 1382.7,1039.0 1384.2,1039.0 1385.7,1038.9 1387.2,1038.9 1388.7,1038.8 1390.2,1038.8 1391.7,1038.8 1393.2,1038.7 1394.7,1038.7 1396.2,1038.6 1397.7,1038.6 1399.2,1038.6 1400.7,1038.5 1402.2,1038.5 1403.7,1038.4 1405.2,1038.4 1406.7,1038.3 1408.2,1038.2 1409.7,1038.2 1411.2,1038.1 1412.7,1038.0 1414.2,1037.9 1415.6,1037.8 1417.1,1037.7 1418.6,1037.6 1420.1,1037.4 1421.6,1037.2 1423.1,1037.0 1424.6,1036.8 1426.1,1036.6 1427.6,1036.4 1429.0,1036.2 1430.5,1036.0 1432.0,1035.7 1433.5,1035.5 1435.0,1035.2 1436.4,1035.0 1437.9,1034.7 1439.4,1034.4 1440.9,1034.2 1442.3,1033.9 1443.8,1033.5 1445.3,1033.2 1446.7,1032.9 1448.2,1032.5 1449.6,1032.2 1451.1,1031.8 1452.5,1031.4 1454.0,1031.0 1455.5,1030.7 1456.9,1030.3 1458.4,1029.9 1459.8,1029.6 1461.3,1029.2 1462.7,1028.8 1464.2,1028.5 1465.6,1028.1 1467.1,1027.7 1468.5,1027.3 1470.0,1026.9 1471.4,1026.5 1472.9,1026.2 1474.3,1025.8 1475.8,1025.5 1477.3,1025.2 1478.8,1025.0 1480.2,1024.7 1481.7,1024.5 1483.2,1024.3 1484.7,1024.1 1486.2,1023.9 1487.7,1023.8 1489.2,1023.7 1490.7,1023.7 1492.2,1023.7 1493.7,1023.7 1495.2,1023.8 1496.6,1024.0 1498.1,1024.2 1499.6,1024.4 1501.1,1024.6 1502.6,1024.9 1504.1,1025.1 1505.5,1025.4 1507.0,1025.6 1508.5,1025.9 1510.0,1026.1 1511.4,1026.4 1512.9,1026.7 1514.4,1026.9 1515.9,1027.2 1517.3,1027.5 1518.8,1027.8 1520.3,1028.2 1521.7,1028.5 1523.2,1028.8 1524.7,1029.1 1526.1,1029.5 1527.6,1029.8 1529.1,1030.1 1530.5,1030.4 1532.0,1030.7 1533.5,1031.0 1534.9,1031.3 1536.4,1031.6 1537.9,1031.8 1539.4,1032.1 1540.8,1032.4 1542.3,1032.7 1543.8,1033.0 1545.3,1033.3 1546.7,1033.5 1548.2,1033.8 1549.7,1034.1 1551.2,1034.3 1552.6,1034.5 1554.1,1034.7 1555.6,1034.9 1557.1,1035.1 1558.6,1035.3 1560.1,1035.4 1561.6,1035.5 1563.1,1035.7 1564.6,1035.8 1566.1,1035.9 1567.6,1036.0 1569.1,1036.1 1570.6,1036.2 1572.1,1036.3 1573.6,1036.3 1575.1,1036.4 1576.6,1036.5 1578.1,1036.6 1579.6,1036.7 1581.0,1036.7 1582.5,1036.8 1584.0,1036.9 1585.5,1036.9 1587.0,1037.0 1588.5,1037.1 1590.0,1037.1 1591.5,1037.2 1593.0,1037.3 1594.5,1037.4 1596.0,1037.4 1597.5,1037.5 1599.0,1037.5 1600.5,1037.6 1602.0,1037.7 1603.5,1037.7 1605.0,1037.8 1606.5,1037.8 1608.0,1037.9 1609.5,1037.9 1611.0,1038.0 1612.5,1038.0 1614.0,1038.1 1615.5,1038.1 1617.0,1038.2 1618.5,1038.3 1620.0,1038.3 1621.5,1038.4 1623.0,1038.5 1624.5,1038.6 1626.0,1038.7 1627.5,1038.7 1629.0,1038.9 1630.5,1039.0 1632.0,1039.1 1633.5,1039.2 1635.0,1039.3 1636.5,1039.4 1638.0,1039.6 1639.5,1039.7 1641.0,1039.8 1642.5,1039.9 1644.0,1040.0 1645.5,1040.0 1647.0,1040.1 1648.5,1040.2 1650.0,1040.2 1651.5,1040.2 1653.0,1040.2 1654.5,1040.3 1656.0,1040.3 1657.5,1040.3 1659.0,1040.3 1660.5,1040.3 1662.0,1040.4 1663.5,1040.4 1665.0,1040.4 1666.5,1040.4 1668.0,1040.4 1669.5,1040.5 1671.0,1040.5 1672.5,1040.5 1674.0,1040.5 1675.5,1040.5 1677.0,1040.5 1678.5,1040.5 1680.0,1040.5 1681.5,1040.5 1683.0,1040.6 1684.5,1040.6 1686.0,1040.6 1687.5,1040.6 1689.0,1040.6 1690.5,1040.6 1692.0,1040.6 1693.5,1040.6 1695.0,1040.6 1696.5,1040.6 1698.0,1040.6 1699.5,1040.6 1701.0,1040.6 1702.5,1040.6 1704.0,1040.6 1705.5,1040.6 1707.0,1040.6 1708.5,1040.5 1710.0,1040.5 1711.5,1040.5 1713.0,1040.5 1714.5,1040.5 1716.0,1040.4 1717.5,1040.4 1718.9,1040.4 1720.4,1040.3 1721.9,1040.3 1723.4,1040.3 1724.9,1040.2 1726.4,1040.2 1727.9,1040.2 1729.4,1040.1 1730.9,1040.1 1732.4,1040.0 1733.9,1040.0 1735.4,1039.9 1736.9,1039.9 1738.4,1039.9 1739.9,1039.8 1741.4,1039.8 1742.9,1039.7 1744.4,1039.7 1745.9,1039.6 1747.4,1039.6 1748.9,1039.5 1750.4,1039.5 1751.9,1039.4 1753.4,1039.4 1754.9,1039.3 1756.4,1039.3 1757.9,1039.2 1759.4,1039.1 1760.9,1039.1 1762.4,1039.0 1763.9,1038.9 1765.4,1038.8 1766.9,1038.8 1768.4,1038.7 1769.9,1038.6 1771.4,1038.5 1772.9,1038.4 1774.4,1038.3 1775.9,1038.2 1777.4,1038.1 1778.9,1038.0 1780.4,1037.9 1781.9,1037.8 1783.4,1037.7 1784.9,1037.6 1786.4,1037.4 1787.9,1037.3 1789.4,1037.1 1790.8,1037.0 1792.3,1036.8 1793.8,1036.6 1795.3,1036.4 1796.8,1036.2 1798.3,1036.1 1799.8,1035.9 1801.3,1035.7 1802.8,1035.4 1804.2,1035.2 1805.7,1035.0 1807.2,1034.8 1808.7,1034.6 1810.2,1034.3 1811.7,1034.1 1813.1,1033.8 1814.6,1033.6 1816.1,1033.3 1817.5,1032.9 1819.0,1032.6 1820.5,1032.3 1821.9,1031.9 1823.4,1031.6 1824.8,1031.3 1826.3,1030.9 1827.8,1030.6 1829.3,1030.4 1830.7,1030.1 1832.2,1029.8 1833.7,1029.6 1835.2,1029.3 1836.6,1029.1 1838.1,1028.9 1839.6,1028.6 1841.1,1028.3 1842.5,1028.0 1844.0,1027.7 1845.4,1027.3 1846.9,1026.8 1848.3,1026.3 1849.7,1025.8 1851.1,1025.2 1852.5,1024.7 1853.9,1024.1 1855.3,1023.7 1856.7,1023.3 1858.2,1022.9 1859.7,1022.7 1861.2,1022.6 1862.7,1022.5 1864.2,1022.5 1865.7,1022.5 1867.2,1022.4 1868.7,1022.4 1870.2,1022.4 1871.7,1022.4 1873.2,1022.3 1874.7,1022.3 1876.2,1022.3 1877.7,1022.3 1879.2,1022.3 1880.7,1022.4 1882.2,1022.4 1883.6,1022.5 1885.1,1022.7 1886.6,1022.9 1888.1,1023.2 1889.6,1023.4 1891.0,1023.7 1892.5,1024.1 1894.0,1024.4 1895.4,1024.7 1896.9,1025.0 1898.4,1025.4 1899.8,1025.7 1901.3,1026.0 1902.7,1026.4 1904.2,1026.8 1905.6,1027.2 1907.1,1027.6 1908.5,1028.0 1910.0,1028.4 1911.4,1028.8 1912.9,1029.2 1914.3,1029.6 1915.8,1029.9 1917.2,1030.2 1918.7,1030.5 1920.2,1030.8 1921.7,1031.0 1923.2,1031.2 1924.6,1031.5 1926.1,1031.7 1927.6,1032.0 1929.1,1032.2 1930.5,1032.5 1932.0,1032.8 1933.5,1033.0 1935.0,1033.3 1936.4,1033.6 1937.9,1033.9 1939.4,1034.1 1940.9,1034.4 1942.3,1034.6 1943.8,1034.9 1945.3,1035.1 1946.8,1035.3 1948.3,1035.5 1949.8,1035.7 1951.3,1035.8 1952.8,1036.0 1954.3,1036.1 1955.7,1036.2 1957.2,1036.4 1958.7,1036.5 1960.2,1036.6 1961.7,1036.7 1963.2,1036.8 1964.7,1037.0 1966.2,1037.1 1967.7,1037.2 1969.2,1037.2 1970.7,1037.3 1972.2,1037.4 1973.7,1037.5 1975.2,1037.6 1976.7,1037.7 1978.2,1037.8 1979.7,1037.8 1981.2,1037.9 1982.7,1038.0 1984.2,1038.1 1985.7,1038.2 1987.2,1038.2 1988.7,1038.3 1990.2,1038.4 1991.7,1038.4 1993.2,1038.4 1994.7,1038.5 1996.2,1038.5 1997.7,1038.4 1999.2,1038.4 2000.7,1038.3 2002.2,1038.2 2003.7,1038.2 2005.2,1038.2 2006.7,1038.2 2008.2,1038.2 2009.7,1038.2 2011.2,1038.2 2012.7,1038.2 2014.2,1038.2 2015.7,1038.2 2017.2,1038.2 2018.7,1038.2 2020.2,1038.2 2021.7,1038.2 2023.2,1038.2 2024.7,1038.2 2026.2,1038.3 2027.7,1038.3 2029.2,1038.3 2030.7,1038.3 2032.2,1038.3 2033.7,1038.3 2035.2,1038.3 2036.7,1038.3 2038.2,1038.4 2039.7,1038.4 2041.2,1038.4 2042.7,1038.4 2044.2,1038.5 2045.7,1038.5 2047.2,1038.5 2048.7,1038.6 2050.2,1038.6 2051.7,1038.6 2053.2,1038.7 2054.7,1038.7 2056.2,1038.7 2057.7,1038.8 2059.2,1038.8 2060.7,1038.9 2062.2,1038.9 2063.7,1039.0 2065.2,1039.1 2066.7,1039.1 2068.2,1039.2 2069.6,1039.2 2071.1,1039.3 2072.6,1039.4 2074.1,1039.5 2075.6,1039.5 2077.1,1039.6 2078.6,1039.7 2080.1,1039.8 2081.6,1039.9 2083.1,1040.0 2084.6,1040.1 2086.1,1040.2 2087.3,1040.3 2088.3,1040.3" fill="none" stroke="#FF0000" stroke-width="4" stroke-linejoin="round" stroke-linecap="butt"/>
<path d="M192.0,1290.0 193.0,1290.0 194.3,1289.9 195.7,1289.9 197.2,1289.8 198.7,1289.7 200.2,1289.5 201.6,1289.3 203.1,1288.8 204.5,1288.3 205.8,1287.8 207.2,1287.3 208.7,1286.9 210.1,1286.6 211.6,1286.5 213.1,1286.5 214.6,1286.5 216.1,1286.4 217.6,1286.4 219.1,1286.4 220.6,1286.4 222.1,1286.4 223.6,1286.3 225.1,1286.1 226.6,1285.9 228.0,1285.6 229.5,1285.2 231.0,1284.8 232.4,1284.4 233.8,1284.0 235.3,1283.6 236.7,1283.1 238.1,1282.6 239.5,1282.1 240.9,1281.6 242.3,1281.0 243.7,1280.4 245.0,1279.8 246.4,1279.1 247.7,1278.4 249.0,1277.6 250.3,1276.8 251.5,1276.0 252.7,1275.1 253.9,1274.2 255.1,1273.3 256.3,1272.4 257.5,1271.5 258.7,1270.5 259.8,1269.5 260.8,1268.4 261.8,1267.3 262.8,1266.2 263.8,1265.1 264.9,1264.1 266.1,1263.3 267.3,1262.6 268.5,1261.8 269.5,1260.9 270.3,1259.7 271.0,1258.4 271.6,1257.0 272.3,1255.6 272.9,1254.3 273.5,1252.9 274.1,1251.5 274.7,1250.1 275.2,1248.7 275.8,1247.4 276.5,1246.0 277.1,1244.7 277.8,1243.3 278.4,1242.0 279.1,1240.6 279.6,1239.2 280.2,1237.8 280.7,1236.4 281.2,1235.0 281.6,1233.6 282.1,1232.1 282.6,1230.7 283.0,1229.3 283.4,1227.8 283.9,1226.4 284.3,1225.0 284.7,1223.5 285.1,1222.1 285.5,1220.6 285.9,1219.2 286.2,1217.7 286.6,1216.3 287.0,1214.8 287.3,1213.4 287.6,1211.9 288.0,1210.4 288.3,1209.0 288.6,1207.5 288.9,1206.0 289.2,1204.6 289.5,1203.1 289.7,1201.6 290.0,1200.1 290.3,1198.7 290.5,1197.2 290.8,1195.7 291.1,1194.2 291.3,1192.8 291.6,1191.3 291.9,1189.8 292.1,1188.3 292.4,1186.8 292.7,1185.4 292.9,1183.9 293.2,1182.4 293.4,1180.9 293.7,1179.5 294.0,1178.0 294.2,1176.5 294.5,1175.0 294.8,1173.6 295.0,1172.1 295.3,1170.6 295.6,1169.1 295.9,1167.7 296.2,1166.2 296.4,1164.7 296.7,1163.2 296.9,1161.8 297.2,1160.3 297.4,1158.8 297.6,1157.3 297.8,1155.8 298.0,1154.3 298.1,1152.8 298.3,1151.3 298.4,1149.9 298.6,1148.4 298.8,1146.9 299.0,1145.4 299.3,1143.9 299.5,1142.4 299.7,1140.9 299.9,1139.5 300.1,1138.0 300.3,1136.5 300.5,1135.0 300.6,1133.5 300.8,1132.0 301.0,1130.5 301.1,1129.0 301.3,1127.5 301.5,1126.1 301.6,1124.6 301.8,1123.1 302.0,1121.6 302.1,1120.1 302.3,1118.6 302.5,1117.1 302.6,1115.6 302.8,1114.1 303.0,1112.6 303.1,1111.1 303.3,1109.7 303.5,1108.2 303.7,1106.7 303.8,1105.2 304.0,1103.7 304.2,1102.2 304.4,1100.7 304.6,1099.2 304.8,1097.7 305.0,1096.3 305.2,1094.8 305.4,1093.3 305.6,1091.8 305.8,1090.3 306.0,1088.8 306.2,1087.3 306.5,1085.9 306.7,1084.4 307.0,1082.9 307.4,1081.5 307.8,1080.0 308.3,1078.6 308.7,1077.2 309.2,1075.8 309.8,1074.4 310.3,1073.0 310.9,1071.6 311.6,1070.3 312.4,1069.0 313.2,1067.9 314.1,1067.2 315.0,1067.1 315.6,1067.8 316.0,1069.0 316.2,1070.4 316.3,1071.9 316.5,1073.4 316.6,1074.9 316.7,1076.3 316.9,1077.8 317.0,1079.3 317.2,1080.8 317.3,1082.3 317.5,1083.8 317.7,1085.3 317.9,1086.8 318.1,1088.3 318.3,1089.8 318.5,1091.2 318.7,1092.7 318.9,1094.2 319.1,1095.7 319.3,1097.2 319.5,1098.7 319.7,1100.2 319.9,1101.6 320.1,1103.1 320.3,1104.6 320.5,1106.1 320.7,1107.6 320.9,1109.1 321.1,1110.6 321.3,1112.1 321.5,1113.5 321.7,1115.0 321.9,1116.5 322.1,1118.0 322.3,1119.5 322.5,1121.0 322.7,1122.5 322.9,1123.9 323.1,1125.4 323.3,1126.9 323.6,1128.4 323.8,1129.9 324.1,1131.3 324.4,1132.8 324.8,1134.3 325.1,1135.7 325.4,1137.2 325.7,1138.7 325.9,1140.2 326.0,1141.6 326.1,1143.1 326.2,1144.6 326.3,1146.1 326.4,1147.6 326.6,1149.1 326.9,1150.6 327.2,1152.1 327.5,1153.5 327.8,1155.0 328.1,1156.5 328.3,1157.9 328.6,1159.4 328.8,1160.9 329.0,1162.4 329.1,1163.9 329.3,1165.4 329.5,1166.9 329.7,1168.4 329.9,1169.8 330.0,1171.3 330.2,1172.8 330.4,1174.3 330.6,1175.8 330.8,1177.3 331.0,1178.8 331.2,1180.3 331.5,1181.7 331.7,1183.2 331.9,1184.7 332.1,1186.2 332.3,1187.7 332.6,1189.2 332.8,1190.6 333.1,1192.1 333.3,1193.6 333.6,1195.1 333.8,1196.5 334.1,1198.0 334.4,1199.5 334.7,1201.0 335.0,1202.4 335.3,1203.9 335.6,1205.4 335.9,1206.8 336.2,1208.3 336.6,1209.8 336.9,1211.2 337.3,1212.7 337.6,1214.1 338.0,1215.6 338.3,1217.1 338.7,1218.5 339.1,1220.0 339.5,1221.4 339.9,1222.8 340.3,1224.3 340.7,1225.7 341.2,1227.2 341.6,1228.6 342.1,1230.0 342.6,1231.4 343.1,1232.8 343.6,1234.3 344.1,1235.7 344.7,1237.1 345.2,1238.5 345.7,1239.9 346.3,1241.3 346.8,1242.6 347.5,1244.0 348.2,1245.3 349.0,1246.6 349.8,1247.8 350.7,1249.0 351.6,1250.2 352.6,1251.4 353.5,1252.5 354.5,1253.7 355.4,1254.9 356.3,1256.0 357.3,1257.2 358.2,1258.4 359.2,1259.5 360.1,1260.7 361.0,1261.9 361.8,1263.2 362.6,1264.4 363.4,1265.7 364.2,1267.0 365.0,1268.3 365.8,1269.5 366.9,1270.5 368.0,1271.5 369.2,1272.3 370.4,1273.2 371.6,1274.1 372.7,1275.1 373.8,1276.1 375.0,1277.0 376.2,1277.8 377.5,1278.5 378.9,1279.1 380.4,1279.5 381.8,1279.9 383.2,1280.3 384.7,1280.7 386.1,1281.1 387.6,1281.5 389.0,1281.9 390.5,1282.4 391.9,1282.8 393.3,1283.3 394.7,1283.8 396.1,1284.4 397.4,1285.2 398.6,1285.9 399.9,1286.7 401.2,1287.3 402.6,1287.8 404.1,1288.0 405.6,1288.2 407.1,1288.3 408.6,1288.4 410.1,1288.5 411.6,1288.5 413.1,1288.6 414.6,1288.7 416.1,1288.7 417.6,1288.8 419.1,1288.9 420.6,1288.9 422.1,1289.0 423.6,1289.0 425.1,1289.1 426.6,1289.2 428.0,1289.4 429.5,1289.6 431.0,1289.9 432.4,1290.3 433.9,1290.7 435.3,1291.2 436.7,1291.6 438.2,1291.9 439.7,1292.2 441.1,1292.3 442.6,1292.3 444.1,1292.3 445.6,1292.2 447.1,1292.1 448.6,1292.0 450.1,1291.9 451.6,1291.8 453.1,1291.7 454.6,1291.6 456.1,1291.5 457.6,1291.5 459.1,1291.4 460.6,1291.4 462.1,1291.3 463.6,1291.3 465.1,1291.2 466.6,1291.1 468.1,1290.9 469.6,1290.7 471.0,1290.4 472.5,1290.1 474.0,1289.8 475.4,1289.5 476.9,1289.3 478.4,1289.1 479.9,1289.0 481.4,1289.0 482.9,1289.1 484.4,1289.3 485.9,1289.5 487.3,1289.7 488.8,1289.9 490.3,1290.2 491.8,1290.4 493.3,1290.7 494.7,1290.9 496.2,1291.2 497.7,1291.4 499.2,1291.7 500.7,1291.9 502.1,1292.1 503.6,1292.2 505.1,1292.3 506.6,1292.4 508.1,1292.4 509.6,1292.4 511.1,1292.4 512.6,1292.4 514.1,1292.4 515.6,1292.4 517.1,1292.4 518.6,1292.4 520.1,1292.4 521.6,1292.4 523.1,1292.4 524.6,1292.4 526.1,1292.4 527.6,1292.3 529.1,1292.3 530.6,1292.3 532.1,1292.3 533.6,1292.3 535.1,1292.3 536.6,1292.3 538.1,1292.3 539.6,1292.3 541.1,1292.3 542.6,1292.3 544.1,1292.3 545.6,1292.2 547.1,1292.2 548.6,1292.2 550.1,1292.2 551.6,1292.2 553.1,1292.2 554.6,1292.2 556.1,1292.2 557.6,1292.1 559.1,1292.1 560.6,1292.1 562.1,1292.1 563.6,1292.1 565.1,1292.1 566.6,1292.1 568.1,1292.0 569.6,1292.0 571.1,1292.0 572.6,1292.0 574.1,1292.0 575.6,1292.0 577.1,1292.0 578.6,1291.9 580.1,1291.9 581.6,1291.9 583.1,1291.9 584.6,1291.9 586.1,1291.9 587.6,1291.8 589.1,1291.8 590.6,1291.8 592.1,1291.8 593.6,1291.7 595.1,1291.7 596.6,1291.7 598.1,1291.6 599.6,1291.6 601.1,1291.5 602.6,1291.5 604.1,1291.4 605.6,1291.4 607.1,1291.3 608.6,1291.3 610.1,1291.2 611.6,1291.2 613.1,1291.1 614.6,1291.1 616.1,1291.0 617.6,1291.0 619.1,1290.9 620.6,1290.9 622.1,1290.8 623.6,1290.7 625.1,1290.7 626.6,1290.6 628.1,1290.5 629.6,1290.5 631.1,1290.4 632.6,1290.4 634.1,1290.3 635.6,1290.2 637.1,1290.2 638.6,1290.1 640.1,1290.0 641.6,1290.0 643.1,1289.9 644.6,1289.9 646.1,1289.8 647.6,1289.7 649.1,1289.7 650.6,1289.6 652.1,1289.6 653.6,1289.5 655.1,1289.4 656.6,1289.4 658.1,1289.3 659.6,1289.3 661.1,1289.2 662.6,1289.2 664.1,1289.1 665.6,1289.1 667.1,1289.0 668.6,1289.0 670.1,1289.0 671.6,1288.9 673.1,1288.9 674.6,1288.8 676.1,1288.8 677.6,1288.8 679.1,1288.7 680.6,1288.7 682.1,1288.7 683.6,1288.7 685.1,1288.7 686.6,1288.6 688.1,1288.6 689.6,1288.6 691.1,1288.6 692.6,1288.6 694.1,1288.6 695.6,1288.6 697.1,1288.6 698.6,1288.6 700.1,1288.6 701.6,1288.7 703.1,1288.7 704.6,1288.7 706.1,1288.7 707.6,1288.8 709.1,1288.8 710.6,1288.9 712.1,1288.9 713.6,1288.9 715.1,1289.0 716.6,1289.0 718.1,1289.1 719.6,1289.1 721.1,1289.2 722.6,1289.3 724.1,1289.3 725.6,1289.4 727.1,1289.4 728.6,1289.5 730.1,1289.6 731.6,1289.6 733.1,1289.7 734.5,1289.8 736.0,1289.8 737.5,1289.9 739.0,1290.0 740.5,1290.0 742.0,1290.1 743.5,1290.1 745.0,1290.2 746.5,1290.3 748.0,1290.3 749.5,1290.4 751.0,1290.4 752.5,1290.5 754.0,1290.5 755.5,1290.6 757.0,1290.6 758.5,1290.7 760.0,1290.7 761.5,1290.8 763.0,1290.8 764.5,1290.9 766.0,1290.9 767.5,1290.9 769.0,1290.9 770.5,1291.0 772.0,1291.0 773.5,1291.0 775.0,1291.0 776.5,1291.0 778.0,1291.0 779.5,1291.0 781.0,1291.0 782.5,1291.0 784.0,1291.0 785.5,1291.0 787.0,1291.0 788.5,1291.0 790.0,1291.0 791.5,1291.0 793.0,1291.0 794.5,1291.0 796.0,1291.0 797.5,1291.0 799.0,1291.0 800.5,1291.0 802.0,1291.0 803.5,1291.0 805.0,1291.0 806.5,1291.0 808.0,1291.0 809.5,1291.0 811.0,1291.0 812.5,1291.0 814.0,1291.0 815.5,1291.0 817.0,1291.0 818.5,1291.0 820.0,1291.0 821.5,1291.0 823.0,1291.0 824.5,1291.0 826.0,1291.0 827.5,1291.0 829.0,1291.0 830.5,1291.0 832.0,1291.0 833.5,1291.0 835.0,1291.0 836.5,1291.0 838.0,1291.0 839.5,1291.0 841.0,1291.0 842.5,1291.0 844.0,1291.0 845.5,1291.0 847.0,1291.0 848.5,1291.0 850.0,1291.0 851.5,1291.0 853.0,1291.0 854.5,1291.0 856.0,1291.0 857.5,1291.0 859.0,1291.0 860.5,1291.0 862.0,1291.0 863.5,1291.0 865.0,1291.0 866.5,1291.0 868.0,1291.0 869.5,1291.0 871.0,1291.0 872.5,1291.0 874.0,1291.0 875.5,1291.0 877.0,1291.0 878.5,1291.0 880.0,1291.0 881.5,1291.0 883.0,1291.0 884.5,1291.0 886.0,1291.0 887.5,1291.0 889.0,1291.0 890.5,1291.0 892.0,1291.0 893.5,1291.0 895.0,1291.0 896.5,1291.0 898.0,1291.0 899.5,1291.0 901.0,1291.0 902.5,1291.0 904.0,1291.0 905.5,1291.0 907.0,1291.0 908.5,1291.0 910.0,1291.0 911.5,1291.0 913.0,1291.0 914.5,1291.0 916.0,1291.0 917.5,1291.0 919.0,1291.0 920.5,1290.9 922.0,1290.9 923.5,1290.9 925.0,1290.8 926.5,1290.7 928.0,1290.7 929.5,1290.6 931.0,1290.5 932.5,1290.5 934.0,1290.4 935.5,1290.3 937.0,1290.3 938.5,1290.2 940.0,1290.1 941.5,1290.1 943.0,1290.0 944.5,1290.0 946.0,1290.0 947.5,1289.9 949.0,1289.9 950.5,1289.9 952.0,1289.9 953.5,1290.0 955.0,1290.0 956.5,1290.1 958.0,1290.1 959.5,1290.2 961.0,1290.3 962.5,1290.4 964.0,1290.5 965.5,1290.6 967.0,1290.7 968.5,1290.8 970.0,1290.9 971.5,1291.0 973.0,1291.1 974.5,1291.2 976.0,1291.2 977.5,1291.3 979.0,1291.3 980.5,1291.4 982.0,1291.4 983.5,1291.4 985.0,1291.4 986.5,1291.4 988.0,1291.3 989.5,1291.3 991.0,1291.3 992.5,1291.2 994.0,1291.2 995.5,1291.1 997.0,1291.0 998.5,1291.0 1000.0,1290.9 1001.5,1290.8 1002.9,1290.7 1004.4,1290.6 1005.9,1290.5 1007.4,1290.4 1008.9,1290.3 1010.4,1290.2 1011.9,1290.1 1013.4,1290.0 1014.9,1289.8 1016.4,1289.6 1017.9,1289.4 1019.4,1289.1 1020.8,1288.9 1022.3,1288.6 1023.8,1288.4 1025.3,1288.3 1026.8,1288.4 1028.3,1288.5 1029.7,1288.7 1031.2,1289.1 1032.6,1289.4 1034.1,1289.8 1035.6,1290.1 1037.0,1290.3 1038.5,1290.5 1040.0,1290.5 1041.5,1290.5 1043.0,1290.4 1044.5,1290.3 1046.0,1290.1 1047.5,1290.0 1049.0,1289.8 1050.5,1289.5 1051.9,1289.3 1053.4,1289.1 1054.9,1288.8 1056.4,1288.6 1057.9,1288.3 1059.3,1288.1 1060.8,1287.9 1062.3,1287.6 1063.8,1287.4 1065.3,1287.2 1066.8,1287.0 1068.3,1286.9 1069.7,1286.7 1071.2,1286.5 1072.7,1286.3 1074.2,1286.1 1075.7,1286.0 1077.2,1285.8 1078.7,1285.6 1080.2,1285.3 1081.6,1285.1 1083.1,1284.9 1084.6,1284.6 1086.1,1284.3 1087.5,1284.0 1089.0,1283.6 1090.4,1283.2 1091.8,1282.7 1093.2,1282.1 1094.6,1281.5 1095.9,1280.9 1097.3,1280.3 1098.7,1279.8 1100.2,1279.4 1101.6,1279.1 1103.1,1279.0 1104.6,1279.0 1106.1,1279.3 1107.5,1279.6 1109.0,1279.9 1110.4,1280.2 1111.9,1280.3 1113.4,1280.2 1114.8,1279.9 1116.3,1279.6 1117.7,1279.2 1119.2,1279.0 1120.7,1278.9 1122.2,1278.9 1123.7,1279.1 1125.2,1279.2 1126.6,1279.4 1128.1,1279.6 1129.6,1279.9 1131.1,1280.1 1132.6,1280.4 1134.0,1280.6 1135.5,1280.8 1137.0,1281.0 1138.5,1281.2 1140.0,1281.4 1141.5,1281.5 1143.0,1281.7 1144.5,1281.8 1146.0,1282.0 1147.5,1282.2 1148.9,1282.4 1150.4,1282.7 1151.9,1283.0 1153.3,1283.5 1154.7,1284.0 1156.0,1284.6 1157.4,1285.3 1158.8,1285.8 1160.2,1286.3 1161.6,1286.7 1163.1,1287.1 1164.5,1287.4 1166.0,1287.6 1167.5,1287.8 1169.0,1288.0 1170.5,1288.2 1172.0,1288.4 1173.5,1288.7 1174.9,1288.9 1176.4,1289.1 1177.9,1289.4 1179.4,1289.7 1180.8,1290.0 1182.3,1290.4 1183.7,1290.7 1185.2,1290.9 1186.7,1291.1 1188.2,1291.3 1189.7,1291.3 1191.2,1291.3 1192.7,1291.3 1194.2,1291.2 1195.7,1291.1 1197.2,1290.9 1198.7,1290.8 1200.2,1290.6 1201.6,1290.4 1203.1,1290.3 1204.6,1290.1 1206.1,1289.9 1207.6,1289.7 1209.1,1289.6 1210.6,1289.4 1212.1,1289.3 1213.6,1289.2 1215.1,1289.2 1216.6,1289.1 1218.1,1289.1 1219.6,1289.2 1221.1,1289.2 1222.6,1289.3 1224.1,1289.4 1225.6,1289.5 1227.1,1289.7 1228.5,1289.8 1230.0,1289.9 1231.5,1290.1 1233.0,1290.2 1234.5,1290.3 1236.0,1290.4 1237.5,1290.5 1239.0,1290.5 1240.5,1290.6 1242.0,1290.6 1243.5,1290.6 1245.0,1290.6 1246.5,1290.5 1248.0,1290.5 1249.5,1290.4 1251.0,1290.4 1252.5,1290.3 1254.0,1290.3 1255.5,1290.2 1257.0,1290.1 1258.5,1290.0 1260.0,1289.9 1261.5,1289.9 1263.0,1289.8 1264.5,1289.7 1266.0,1289.6 1267.5,1289.5 1269.0,1289.4 1270.5,1289.3 1272.0,1289.2 1273.5,1289.1 1275.0,1289.0 1276.5,1288.8 1278.0,1288.7 1279.4,1288.5 1280.9,1288.3 1282.4,1288.2 1283.9,1288.0 1285.4,1287.9 1286.9,1287.8 1288.4,1287.8 1289.9,1287.9 1291.3,1288.2 1292.7,1288.7 1294.1,1289.3 1295.4,1290.0 1296.7,1290.6 1298.1,1291.1 1299.6,1291.4 1301.0,1291.6 1302.5,1291.5 1304.0,1291.4 1305.5,1291.3 1307.0,1291.1 1308.5,1290.9 1310.0,1290.6 1311.5,1290.4 1312.9,1290.2 1314.4,1290.1 1315.9,1289.9 1317.4,1289.8 1318.9,1289.7 1320.4,1289.7 1321.9,1289.6 1323.4,1289.5 1324.9,1289.4 1326.4,1289.4 1327.9,1289.3 1329.4,1289.2 1330.9,1289.2 1332.4,1289.1 1333.9,1289.1 1335.4,1289.1 1336.9,1289.0 1338.4,1289.0 1339.9,1289.0 1341.4,1289.0 1342.9,1289.1 1344.4,1289.2 1345.9,1289.3 1347.4,1289.5 1348.9,1289.7 1350.4,1289.9 1351.8,1290.1 1353.3,1290.3 1354.8,1290.5 1356.3,1290.7 1357.8,1290.9 1359.3,1291.1 1360.8,1291.2 1362.3,1291.3 1363.8,1291.3 1365.3,1291.4 1366.8,1291.3 1368.3,1291.3 1369.8,1291.2 1371.3,1291.0 1372.7,1290.9 1374.2,1290.7 1375.7,1290.6 1377.2,1290.4 1378.7,1290.2 1380.2,1290.0 1381.7,1289.8 1383.2,1289.6 1384.7,1289.4 1386.1,1289.3 1387.6,1289.1 1389.1,1289.0 1390.6,1288.9 1392.1,1288.8 1393.6,1288.7 1395.1,1288.6 1396.6,1288.5 1398.1,1288.4 1399.6,1288.2 1401.1,1288.1 1402.6,1288.1 1404.1,1288.0 1405.6,1287.9 1407.1,1287.8 1408.6,1287.7 1410.1,1287.6 1411.6,1287.5 1413.1,1287.5 1414.6,1287.4 1416.1,1287.4 1417.6,1287.3 1419.1,1287.3 1420.6,1287.2 1422.1,1287.2 1423.6,1287.2 1425.1,1287.1 1426.6,1287.1 1428.1,1287.1 1429.6,1287.1 1431.1,1287.1 1432.6,1287.1 1434.1,1287.1 1435.6,1287.0 1437.1,1287.0 1438.6,1287.0 1440.1,1287.0 1441.6,1287.0 1443.1,1286.9 1444.6,1286.9 1446.1,1286.9 1447.6,1286.8 1449.1,1286.7 1450.6,1286.5 1452.0,1286.3 1453.5,1286.1 1455.0,1285.8 1456.5,1285.5 1457.9,1285.2 1459.4,1284.9 1460.9,1284.5 1462.3,1284.1 1463.7,1283.6 1465.1,1283.0 1466.4,1282.4 1467.8,1281.7 1469.2,1281.2 1470.6,1280.8 1472.0,1280.4 1473.5,1280.0 1475.0,1279.7 1476.4,1279.5 1477.9,1279.2 1479.4,1279.0 1480.9,1278.8 1482.4,1278.6 1483.9,1278.4 1485.4,1278.2 1486.8,1278.0 1488.3,1277.8 1489.8,1277.7 1491.3,1277.5 1492.8,1277.3 1494.3,1277.2 1495.8,1277.1 1497.3,1277.0 1498.8,1276.9 1500.3,1276.9 1501.8,1276.8 1503.3,1276.8 1504.8,1276.9 1506.3,1277.0 1507.8,1277.1 1509.3,1277.2 1510.8,1277.4 1512.2,1277.6 1513.7,1277.8 1515.2,1278.1 1516.7,1278.3 1518.1,1278.7 1519.5,1279.2 1520.8,1279.9 1522.1,1280.7 1523.4,1281.4 1524.7,1282.0 1526.1,1282.4 1527.6,1282.5 1529.1,1282.5 1530.6,1282.4 1532.0,1282.2 1533.5,1282.0 1535.0,1281.7 1536.5,1281.5 1538.0,1281.3 1539.5,1281.1 1541.0,1281.0 1542.5,1281.0 1543.9,1281.1 1545.4,1281.2 1546.9,1281.5 1548.4,1281.9 1549.8,1282.3 1551.2,1282.7 1552.7,1283.0 1554.1,1283.4 1555.6,1283.7 1557.1,1283.9 1558.6,1284.0 1560.1,1284.1 1561.6,1284.1 1563.1,1284.0 1564.6,1284.0 1566.1,1284.1 1567.6,1284.2 1569.0,1284.5 1570.5,1284.8 1571.9,1285.3 1573.3,1285.9 1574.7,1286.4 1576.1,1286.8 1577.6,1287.0 1579.1,1287.1 1580.6,1287.1 1582.0,1287.0 1583.5,1286.9 1585.0,1286.8 1586.5,1286.7 1588.0,1286.6 1589.5,1286.7 1590.9,1286.9 1592.2,1287.4 1593.5,1288.1 1594.7,1288.8 1596.0,1289.4 1597.4,1289.6 1598.9,1289.7 1600.4,1289.7 1601.9,1289.6 1603.4,1289.5 1604.9,1289.4 1606.4,1289.3 1607.9,1289.2 1609.4,1289.0 1610.9,1288.9 1612.3,1288.8 1613.8,1288.7 1615.3,1288.5 1616.8,1288.4 1618.3,1288.4 1619.8,1288.3 1621.3,1288.2 1622.8,1288.2 1624.3,1288.2 1625.8,1288.2 1627.3,1288.2 1628.8,1288.2 1630.3,1288.3 1631.8,1288.3 1633.3,1288.3 1634.8,1288.4 1636.3,1288.4 1637.8,1288.4 1639.3,1288.5 1640.8,1288.5 1642.3,1288.5 1643.8,1288.5 1645.3,1288.6 1646.8,1288.6 1648.3,1288.6 1649.8,1288.6 1651.3,1288.5 1652.8,1288.5 1654.3,1288.3 1655.8,1288.2 1657.3,1288.1 1658.8,1287.9 1660.3,1287.8 1661.8,1287.8 1663.3,1287.8 1664.8,1288.0 1666.2,1288.3 1667.7,1288.7 1669.1,1289.1 1670.5,1289.6 1672.0,1289.9 1673.5,1290.1 1674.9,1290.1 1676.4,1289.9 1677.8,1289.6 1679.3,1289.2 1680.8,1288.9 1682.2,1288.7 1683.7,1288.7 1685.2,1288.7 1686.7,1288.8 1688.2,1288.9 1689.7,1289.0 1691.2,1289.2 1692.7,1289.3 1694.2,1289.5 1695.7,1289.6 1697.2,1289.8 1698.7,1289.9 1700.2,1290.1 1701.7,1290.2 1703.1,1290.3 1704.6,1290.3 1706.1,1290.4 1707.6,1290.4 1709.1,1290.3 1710.6,1290.3 1712.1,1290.2 1713.6,1290.2 1715.1,1290.1 1716.6,1290.0 1718.1,1289.9 1719.6,1289.8 1721.1,1289.7 1722.6,1289.6 1724.1,1289.5 1725.6,1289.4 1727.1,1289.4 1728.6,1289.3 1730.1,1289.3 1731.6,1289.3 1733.1,1289.4 1734.6,1289.4 1736.1,1289.5 1737.6,1289.6 1739.1,1289.7 1740.6,1289.8 1742.1,1290.0 1743.6,1290.1 1745.1,1290.2 1746.6,1290.3 1748.1,1290.3 1749.6,1290.3 1751.1,1290.3 1752.6,1290.2 1754.1,1290.0 1755.5,1289.8 1757.0,1289.5 1758.5,1289.2 1759.9,1288.9 1761.4,1288.6 1762.9,1288.3 1764.4,1288.1 1765.9,1287.9 1767.3,1287.8 1768.8,1287.7 1770.3,1287.7 1771.8,1287.7 1773.3,1287.6 1774.8,1287.6 1776.3,1287.6 1777.8,1287.6 1779.3,1287.6 1780.8,1287.6 1782.3,1287.6 1783.8,1287.6 1785.3,1287.6 1786.8,1287.6 1788.3,1287.5 1789.8,1287.5 1791.3,1287.5 1792.8,1287.5 1794.3,1287.5 1795.8,1287.5 1797.3,1287.5 1798.8,1287.5 1800.3,1287.5 1801.8,1287.4 1803.3,1287.4 1804.8,1287.4 1806.3,1287.4 1807.8,1287.4 1809.3,1287.4 1810.8,1287.4 1812.3,1287.3 1813.8,1287.3 1815.3,1287.3 1816.8,1287.3 1818.3,1287.2 1819.8,1287.1 1821.3,1287.0 1822.8,1286.8 1824.3,1286.5 1825.7,1286.1 1827.1,1285.6 1828.6,1285.2 1830.0,1284.7 1831.4,1284.2 1832.8,1283.7 1834.2,1283.2 1835.7,1282.8 1837.1,1282.4 1838.6,1282.1 1840.1,1281.8 1841.5,1281.4 1843.0,1281.1 1844.5,1280.8 1845.9,1280.5 1847.4,1280.2 1848.8,1279.8 1850.3,1279.4 1851.7,1279.0 1853.2,1278.5 1854.6,1278.0 1855.9,1277.5 1857.3,1276.9 1858.7,1276.2 1860.0,1275.6 1861.4,1274.9 1862.7,1274.3 1864.1,1273.7 1865.5,1273.1 1866.9,1272.5 1868.3,1272.0 1869.7,1271.5 1871.1,1271.1 1872.6,1270.6 1874.0,1270.1 1875.4,1269.6 1876.8,1269.2 1878.3,1268.8 1879.7,1268.5 1881.2,1268.2 1882.7,1268.1 1884.2,1268.0 1885.7,1268.0 1887.2,1268.2 1888.7,1268.4 1890.1,1268.7 1891.6,1269.1 1893.0,1269.5 1894.4,1270.0 1895.9,1270.4 1897.3,1270.9 1898.7,1271.4 1900.1,1271.8 1901.6,1272.3 1903.0,1272.7 1904.4,1273.1 1905.9,1273.6 1907.3,1274.0 1908.7,1274.5 1910.2,1275.0 1911.6,1275.5 1913.0,1276.0 1914.4,1276.6 1915.7,1277.2 1917.1,1277.8 1918.4,1278.5 1919.7,1279.3 1920.9,1280.1 1922.2,1281.0 1923.3,1281.9 1924.5,1282.8 1925.8,1283.7 1927.0,1284.5 1928.3,1285.3 1929.6,1285.9 1931.0,1286.4 1932.5,1286.7 1933.9,1286.8 1935.4,1286.8 1936.9,1286.6 1938.4,1286.5 1939.9,1286.3 1941.4,1286.1 1942.9,1285.9 1944.4,1285.7 1945.8,1285.5 1947.3,1285.3 1948.8,1285.1 1950.3,1285.0 1951.8,1285.0 1953.3,1285.0 1954.8,1285.1 1956.3,1285.3 1957.8,1285.6 1959.2,1285.9 1960.7,1286.3 1962.1,1286.7 1963.6,1287.1 1965.0,1287.5 1966.4,1287.9 1967.9,1288.3 1969.3,1288.6 1970.8,1288.9 1972.3,1289.2 1973.8,1289.4 1975.3,1289.6 1976.8,1289.7 1978.3,1289.8 1979.7,1290.0 1981.2,1290.1 1982.7,1290.2 1984.2,1290.3 1985.7,1290.4 1987.2,1290.5 1988.7,1290.6 1990.2,1290.7 1991.7,1290.8 1993.2,1290.8 1994.7,1290.9 1996.2,1290.9 1997.7,1290.9 1999.2,1290.9 2000.7,1290.9 2002.2,1290.9 2003.7,1290.9 2005.2,1290.8 2006.7,1290.8 2008.2,1290.8 2009.7,1290.7 2011.2,1290.7 2012.7,1290.7 2014.2,1290.6 2015.7,1290.6 2017.2,1290.6 2018.7,1290.5 2020.2,1290.5 2021.7,1290.4 2023.2,1290.4 2024.7,1290.3 2026.2,1290.3 2027.7,1290.2 2029.2,1290.2 2030.7,1290.2 2032.2,1290.1 2033.7,1290.1 2035.2,1290.0 2036.7,1290.0 2038.2,1290.0 2039.7,1289.9 2041.2,1289.9 2042.7,1289.8 2044.2,1289.8 2045.7,1289.8 2047.2,1289.7 2048.7,1289.7 2050.2,1289.6 2051.7,1289.6 2053.2,1289.6 2054.7,1289.5 2056.2,1289.5 2057.7,1289.4 2059.2,1289.4 2060.7,1289.4 2062.2,1289.3 2063.7,1289.3 2065.2,1289.2 2066.7,1289.2 2068.2,1289.1 2069.7,1289.1 2071.2,1289.0 2072.7,1289.0 2074.2,1289.0 2075.7,1288.9 2077.2,1288.9 2078.7,1288.8 2080.2,1288.8 2081.7,1288.7 2083.2,1288.7 2084.7,1288.6 2086.1,1288.6 2087.4,1288.6 2088.3,1288.5" fill="none" stroke="#000000" stroke-width="7.4" stroke-linejoin="round" stroke-linecap="butt" shape-rendering="crispEdges"/>
<path d="M192.0,1290.0 193.0,1290.0 194.3,1289.9 195.7,1289.9 197.2,1289.8 198.7,1289.7 200.2,1289.5 201.6,1289.3 203.1,1288.8 204.5,1288.3 205.8,1287.8 207.2,1287.3 208.7,1286.9 210.1,1286.6 211.6,1286.5 213.1,1286.5 214.6,1286.5 216.1,1286.4 217.6,1286.4 219.1,1286.4 220.6,1286.4 222.1,1286.4 223.6,1286.3 225.1,1286.1 226.6,1285.9 228.0,1285.6 229.5,1285.2 231.0,1284.8 232.4,1284.4 233.8,1284.0 235.3,1283.6 236.7,1283.1 238.1,1282.6 239.5,1282.1 240.9,1281.6 242.3,1281.0 243.7,1280.4 245.0,1279.8 246.4,1279.1 247.7,1278.4 249.0,1277.6 250.3,1276.8 251.5,1276.0 252.7,1275.1 253.9,1274.2 255.1,1273.3 256.3,1272.4 257.5,1271.5 258.7,1270.5 259.8,1269.5 260.8,1268.4 261.8,1267.3 262.8,1266.2 263.8,1265.1 264.9,1264.1 266.1,1263.3 267.3,1262.6 268.5,1261.8 269.5,1260.9 270.3,1259.7 271.0,1258.4 271.6,1257.0 272.3,1255.6 272.9,1254.3 273.5,1252.9 274.1,1251.5 274.7,1250.1 275.2,1248.7 275.8,1247.4 276.5,1246.0 277.1,1244.7 277.8,1243.3 278.4,1242.0 279.1,1240.6 279.6,1239.2 280.2,1237.8 280.7,1236.4 281.2,1235.0 281.6,1233.6 282.1,1232.1 282.6,1230.7 283.0,1229.3 283.4,1227.8 283.9,1226.4 284.3,1225.0 284.7,1223.5 285.1,1222.1 285.5,1220.6 285.9,1219.2 286.2,1217.7 286.6,1216.3 287.0,1214.8 287.3,1213.4 287.6,1211.9 288.0,1210.4 288.3,1209.0 288.6,1207.5 288.9,1206.0 289.2,1204.6 289.5,1203.1 289.7,1201.6 290.0,1200.1 290.3,1198.7 290.5,1197.2 290.8,1195.7 291.1,1194.2 291.3,1192.8 291.6,1191.3 291.9,1189.8 292.1,1188.3 292.4,1186.8 292.7,1185.4 292.9,1183.9 293.2,1182.4 293.4,1180.9 293.7,1179.5 294.0,1178.0 294.2,1176.5 294.5,1175.0 294.8,1173.6 295.0,1172.1 295.3,1170.6 295.6,1169.1 295.9,1167.7 296.2,1166.2 296.4,1164.7 296.7,1163.2 296.9,1161.8 297.2,1160.3 297.4,1158.8 297.6,1157.3 297.8,1155.8 298.0,1154.3 298.1,1152.8 298.3,1151.3 298.4,1149.9 298.6,1148.4 298.8,1146.9 299.0,1145.4 299.3,1143.9 299.5,1142.4 299.7,1140.9 299.9,1139.5 300.1,1138.0 300.3,1136.5 300.5,1135.0 300.6,1133.5 300.8,1132.0 301.0,1130.5 301.1,1129.0 301.3,1127.5 301.5,1126.1 301.6,1124.6 301.8,1123.1 302.0,1121.6 302.1,1120.1 302.3,1118.6 302.5,1117.1 302.6,1115.6 302.8,1114.1 303.0,1112.6 303.1,1111.1 303.3,1109.7 303.5,1108.2 303.7,1106.7 303.8,1105.2 304.0,1103.7 304.2,1102.2 304.4,1100.7 304.6,1099.2 304.8,1097.7 305.0,1096.3 305.2,1094.8 305.4,1093.3 305.6,1091.8 305.8,1090.3 306.0,1088.8 306.2,1087.3 306.5,1085.9 306.7,1084.4 307.0,1082.9 307.4,1081.5 307.8,1080.0 308.3,1078.6 308.7,1077.2 309.2,1075.8 309.8,1074.4 310.3,1073.0 310.9,1071.6 311.6,1070.3 312.4,1069.0 313.2,1067.9 314.1,1067.2 315.0,1067.1 315.6,1067.8 316.0,1069.0 316.2,1070.4 316.3,1071.9 316.5,1073.4 316.6,1074.9 316.7,1076.3 316.9,1077.8 317.0,1079.3 317.2,1080.8 317.3,1082.3 317.5,1083.8 317.7,1085.3 317.9,1086.8 318.1,1088.3 318.3,1089.8 318.5,1091.2 318.7,1092.7 318.9,1094.2 319.1,1095.7 319.3,1097.2 319.5,1098.7 319.7,1100.2 319.9,1101.6 320.1,1103.1 320.3,1104.6 320.5,1106.1 320.7,1107.6 320.9,1109.1 321.1,1110.6 321.3,1112.1 321.5,1113.5 321.7,1115.0 321.9,1116.5 322.1,1118.0 322.3,1119.5 322.5,1121.0 322.7,1122.5 322.9,1123.9 323.1,1125.4 323.3,1126.9 323.6,1128.4 323.8,1129.9 324.1,1131.3 324.4,1132.8 324.8,1134.3 325.1,1135.7 325.4,1137.2 325.7,1138.7 325.9,1140.2 326.0,1141.6 326.1,1143.1 326.2,1144.6 326.3,1146.1 326.4,1147.6 326.6,1149.1 326.9,1150.6 327.2,1152.1 327.5,1153.5 327.8,1155.0 328.1,1156.5 328.3,1157.9 328.6,1159.4 328.8,1160.9 329.0,1162.4 329.1,1163.9 329.3,1165.4 329.5,1166.9 329.7,1168.4 329.9,1169.8 330.0,1171.3 330.2,1172.8 330.4,1174.3 330.6,1175.8 330.8,1177.3 331.0,1178.8 331.2,1180.3 331.5,1181.7 331.7,1183.2 331.9,1184.7 332.1,1186.2 332.3,1187.7 332.6,1189.2 332.8,1190.6 333.1,1192.1 333.3,1193.6 333.6,1195.1 333.8,1196.5 334.1,1198.0 334.4,1199.5 334.7,1201.0 335.0,1202.4 335.3,1203.9 335.6,1205.4 335.9,1206.8 336.2,1208.3 336.6,1209.8 336.9,1211.2 337.3,1212.7 337.6,1214.1 338.0,1215.6 338.3,1217.1 338.7,1218.5 339.1,1220.0 339.5,1221.4 339.9,1222.8 340.3,1224.3 340.7,1225.7 341.2,1227.2 341.6,1228.6 342.1,1230.0 342.6,1231.4 343.1,1232.8 343.6,1234.3 344.1,1235.7 344.7,1237.1 345.2,1238.5 345.7,1239.9 346.3,1241.3 346.8,1242.6 347.5,1244.0 348.2,1245.3 349.0,1246.6 349.8,1247.8 350.7,1249.0 351.6,1250.2 352.6,1251.4 353.5,1252.5 354.5,1253.7 355.4,1254.9 356.3,1256.0 357.3,1257.2 358.2,1258.4 359.2,1259.5 360.1,1260.7 361.0,1261.9 361.8,1263.2 362.6,1264.4 363.4,1265.7 364.2,1267.0 365.0,1268.3 365.8,1269.5 366.9,1270.5 368.0,1271.5 369.2,1272.3 370.4,1273.2 371.6,1274.1 372.7,1275.1 373.8,1276.1 375.0,1277.0 376.2,1277.8 377.5,1278.5 378.9,1279.1 380.4,1279.5 381.8,1279.9 383.2,1280.3 384.7,1280.7 386.1,1281.1 387.6,1281.5 389.0,1281.9 390.5,1282.4 391.9,1282.8 393.3,1283.3 394.7,1283.8 396.1,1284.4 397.4,1285.2 398.6,1285.9 399.9,1286.7 401.2,1287.3 402.6,1287.8 404.1,1288.0 405.6,1288.2 407.1,1288.3 408.6,1288.4 410.1,1288.5 411.6,1288.5 413.1,1288.6 414.6,1288.7 416.1,1288.7 417.6,1288.8 419.1,1288.9 420.6,1288.9 422.1,1289.0 423.6,1289.0 425.1,1289.1 426.6,1289.2 428.0,1289.4 429.5,1289.6 431.0,1289.9 432.4,1290.3 433.9,1290.7 435.3,1291.2 436.7,1291.6 438.2,1291.9 439.7,1292.2 441.1,1292.3 442.6,1292.3 444.1,1292.3 445.6,1292.2 447.1,1292.1 448.6,1292.0 450.1,1291.9 451.6,1291.8 453.1,1291.7 454.6,1291.6 456.1,1291.5 457.6,1291.5 459.1,1291.4 460.6,1291.4 462.1,1291.3 463.6,1291.3 465.1,1291.2 466.6,1291.1 468.1,1290.9 469.6,1290.7 471.0,1290.4 472.5,1290.1 474.0,1289.8 475.4,1289.5 476.9,1289.3 478.4,1289.1 479.9,1289.0 481.4,1289.0 482.9,1289.1 484.4,1289.3 485.9,1289.5 487.3,1289.7 488.8,1289.9 490.3,1290.2 491.8,1290.4 493.3,1290.7 494.7,1290.9 496.2,1291.2 497.7,1291.4 499.2,1291.7 500.7,1291.9 502.1,1292.1 503.6,1292.2 505.1,1292.3 506.6,1292.4 508.1,1292.4 509.6,1292.4 511.1,1292.4 512.6,1292.4 514.1,1292.4 515.6,1292.4 517.1,1292.4 518.6,1292.4 520.1,1292.4 521.6,1292.4 523.1,1292.4 524.6,1292.4 526.1,1292.4 527.6,1292.3 529.1,1292.3 530.6,1292.3 532.1,1292.3 533.6,1292.3 535.1,1292.3 536.6,1292.3 538.1,1292.3 539.6,1292.3 541.1,1292.3 542.6,1292.3 544.1,1292.3 545.6,1292.2 547.1,1292.2 548.6,1292.2 550.1,1292.2 551.6,1292.2 553.1,1292.2 554.6,1292.2 556.1,1292.2 557.6,1292.1 559.1,1292.1 560.6,1292.1 562.1,1292.1 563.6,1292.1 565.1,1292.1 566.6,1292.1 568.1,1292.0 569.6,1292.0 571.1,1292.0 572.6,1292.0 574.1,1292.0 575.6,1292.0 577.1,1292.0 578.6,1291.9 580.1,1291.9 581.6,1291.9 583.1,1291.9 584.6,1291.9 586.1,1291.9 587.6,1291.8 589.1,1291.8 590.6,1291.8 592.1,1291.8 593.6,1291.7 595.1,1291.7 596.6,1291.7 598.1,1291.6 599.6,1291.6 601.1,1291.5 602.6,1291.5 604.1,1291.4 605.6,1291.4 607.1,1291.3 608.6,1291.3 610.1,1291.2 611.6,1291.2 613.1,1291.1 614.6,1291.1 616.1,1291.0 617.6,1291.0 619.1,1290.9 620.6,1290.9 622.1,1290.8 623.6,1290.7 625.1,1290.7 626.6,1290.6 628.1,1290.5 629.6,1290.5 631.1,1290.4 632.6,1290.4 634.1,1290.3 635.6,1290.2 637.1,1290.2 638.6,1290.1 640.1,1290.0 641.6,1290.0 643.1,1289.9 644.6,1289.9 646.1,1289.8 647.6,1289.7 649.1,1289.7 650.6,1289.6 652.1,1289.6 653.6,1289.5 655.1,1289.4 656.6,1289.4 658.1,1289.3 659.6,1289.3 661.1,1289.2 662.6,1289.2 664.1,1289.1 665.6,1289.1 667.1,1289.0 668.6,1289.0 670.1,1289.0 671.6,1288.9 673.1,1288.9 674.6,1288.8 676.1,1288.8 677.6,1288.8 679.1,1288.7 680.6,1288.7 682.1,1288.7 683.6,1288.7 685.1,1288.7 686.6,1288.6 688.1,1288.6 689.6,1288.6 691.1,1288.6 692.6,1288.6 694.1,1288.6 695.6,1288.6 697.1,1288.6 698.6,1288.6 700.1,1288.6 701.6,1288.7 703.1,1288.7 704.6,1288.7 706.1,1288.7 707.6,1288.8 709.1,1288.8 710.6,1288.9 712.1,1288.9 713.6,1288.9 715.1,1289.0 716.6,1289.0 718.1,1289.1 719.6,1289.1 721.1,1289.2 722.6,1289.3 724.1,1289.3 725.6,1289.4 727.1,1289.4 728.6,1289.5 730.1,1289.6 731.6,1289.6 733.1,1289.7 734.5,1289.8 736.0,1289.8 737.5,1289.9 739.0,1290.0 740.5,1290.0 742.0,1290.1 743.5,1290.1 745.0,1290.2 746.5,1290.3 748.0,1290.3 749.5,1290.4 751.0,1290.4 752.5,1290.5 754.0,1290.5 755.5,1290.6 757.0,1290.6 758.5,1290.7 760.0,1290.7 761.5,1290.8 763.0,1290.8 764.5,1290.9 766.0,1290.9 767.5,1290.9 769.0,1290.9 770.5,1291.0 772.0,1291.0 773.5,1291.0 775.0,1291.0 776.5,1291.0 778.0,1291.0 779.5,1291.0 781.0,1291.0 782.5,1291.0 784.0,1291.0 785.5,1291.0 787.0,1291.0 788.5,1291.0 790.0,1291.0 791.5,1291.0 793.0,1291.0 794.5,1291.0 796.0,1291.0 797.5,1291.0 799.0,1291.0 800.5,1291.0 802.0,1291.0 803.5,1291.0 805.0,1291.0 806.5,1291.0 808.0,1291.0 809.5,1291.0 811.0,1291.0 812.5,1291.0 814.0,1291.0 815.5,1291.0 817.0,1291.0 818.5,1291.0 820.0,1291.0 821.5,1291.0 823.0,1291.0 824.5,1291.0 826.0,1291.0 827.5,1291.0 829.0,1291.0 830.5,1291.0 832.0,1291.0 833.5,1291.0 835.0,1291.0 836.5,1291.0 838.0,1291.0 839.5,1291.0 841.0,1291.0 842.5,1291.0 844.0,1291.0 845.5,1291.0 847.0,1291.0 848.5,1291.0 850.0,1291.0 851.5,1291.0 853.0,1291.0 854.5,1291.0 856.0,1291.0 857.5,1291.0 859.0,1291.0 860.5,1291.0 862.0,1291.0 863.5,1291.0 865.0,1291.0 866.5,1291.0 868.0,1291.0 869.5,1291.0 871.0,1291.0 872.5,1291.0 874.0,1291.0 875.5,1291.0 877.0,1291.0 878.5,1291.0 880.0,1291.0 881.5,1291.0 883.0,1291.0 884.5,1291.0 886.0,1291.0 887.5,1291.0 889.0,1291.0 890.5,1291.0 892.0,1291.0 893.5,1291.0 895.0,1291.0 896.5,1291.0 898.0,1291.0 899.5,1291.0 901.0,1291.0 902.5,1291.0 904.0,1291.0 905.5,1291.0 907.0,1291.0 908.5,1291.0 910.0,1291.0 911.5,1291.0 913.0,1291.0 914.5,1291.0 916.0,1291.0 917.5,1291.0 919.0,1291.0 920.5,1290.9 922.0,1290.9 923.5,1290.9 925.0,1290.8 926.5,1290.7 928.0,1290.7 929.5,1290.6 931.0,1290.5 932.5,1290.5 934.0,1290.4 935.5,1290.3 937.0,1290.3 938.5,1290.2 940.0,1290.1 941.5,1290.1 943.0,1290.0 944.5,1290.0 946.0,1290.0 947.5,1289.9 949.0,1289.9 950.5,1289.9 952.0,1289.9 953.5,1290.0 955.0,1290.0 956.5,1290.1 958.0,1290.1 959.5,1290.2 961.0,1290.3 962.5,1290.4 964.0,1290.5 965.5,1290.6 967.0,1290.7 968.5,1290.8 970.0,1290.9 971.5,1291.0 973.0,1291.1 974.5,1291.2 976.0,1291.2 977.5,1291.3 979.0,1291.3 980.5,1291.4 982.0,1291.4 983.5,1291.4 985.0,1291.4 986.5,1291.4 988.0,1291.3 989.5,1291.3 991.0,1291.3 992.5,1291.2 994.0,1291.2 995.5,1291.1 997.0,1291.0 998.5,1291.0 1000.0,1290.9 1001.5,1290.8 1002.9,1290.7 1004.4,1290.6 1005.9,1290.5 1007.4,1290.4 1008.9,1290.3 1010.4,1290.2 1011.9,1290.1 1013.4,1290.0 1014.9,1289.8 1016.4,1289.6 1017.9,1289.4 1019.4,1289.1 1020.8,1288.9 1022.3,1288.6 1023.8,1288.4 1025.3,1288.3 1026.8,1288.4 1028.3,1288.5 1029.7,1288.7 1031.2,1289.1 1032.6,1289.4 1034.1,1289.8 1035.6,1290.1 1037.0,1290.3 1038.5,1290.5 1040.0,1290.5 1041.5,1290.5 1043.0,1290.4 1044.5,1290.3 1046.0,1290.1 1047.5,1290.0 1049.0,1289.8 1050.5,1289.5 1051.9,1289.3 1053.4,1289.1 1054.9,1288.8 1056.4,1288.6 1057.9,1288.3 1059.3,1288.1 1060.8,1287.9 1062.3,1287.6 1063.8,1287.4 1065.3,1287.2 1066.8,1287.0 1068.3,1286.9 1069.7,1286.7 1071.2,1286.5 1072.7,1286.3 1074.2,1286.1 1075.7,1286.0 1077.2,1285.8 1078.7,1285.6 1080.2,1285.3 1081.6,1285.1 1083.1,1284.9 1084.6,1284.6 1086.1,1284.3 1087.5,1284.0 1089.0,1283.6 1090.4,1283.2 1091.8,1282.7 1093.2,1282.1 1094.6,1281.5 1095.9,1280.9 1097.3,1280.3 1098.7,1279.8 1100.2,1279.4 1101.6,1279.1 1103.1,1279.0 1104.6,1279.0 1106.1,1279.3 1107.5,1279.6 1109.0,1279.9 1110.4,1280.2 1111.9,1280.3 1113.4,1280.2 1114.8,1279.9 1116.3,1279.6 1117.7,1279.2 1119.2,1279.0 1120.7,1278.9 1122.2,1278.9 1123.7,1279.1 1125.2,1279.2 1126.6,1279.4 1128.1,1279.6 1129.6,1279.9 1131.1,1280.1 1132.6,1280.4 1134.0,1280.6 1135.5,1280.8 1137.0,1281.0 1138.5,1281.2 1140.0,1281.4 1141.5,1281.5 1143.0,1281.7 1144.5,1281.8 1146.0,1282.0 1147.5,1282.2 1148.9,1282.4 1150.4,1282.7 1151.9,1283.0 1153.3,1283.5 1154.7,1284.0 1156.0,1284.6 1157.4,1285.3 1158.8,1285.8 1160.2,1286.3 1161.6,1286.7 1163.1,1287.1 1164.5,1287.4 1166.0,1287.6 1167.5,1287.8 1169.0,1288.0 1170.5,1288.2 1172.0,1288.4 1173.5,1288.7 1174.9,1288.9 1176.4,1289.1 1177.9,1289.4 1179.4,1289.7 1180.8,1290.0 1182.3,1290.4 1183.7,1290.7 1185.2,1290.9 1186.7,1291.1 1188.2,1291.3 1189.7,1291.3 1191.2,1291.3 1192.7,1291.3 1194.2,1291.2 1195.7,1291.1 1197.2,1290.9 1198.7,1290.8 1200.2,1290.6 1201.6,1290.4 1203.1,1290.3 1204.6,1290.1 1206.1,1289.9 1207.6,1289.7 1209.1,1289.6 1210.6,1289.4 1212.1,1289.3 1213.6,1289.2 1215.1,1289.2 1216.6,1289.1 1218.1,1289.1 1219.6,1289.2 1221.1,1289.2 1222.6,1289.3 1224.1,1289.4 1225.6,1289.5 1227.1,1289.7 1228.5,1289.8 1230.0,1289.9 1231.5,1290.1 1233.0,1290.2 1234.5,1290.3 1236.0,1290.4 1237.5,1290.5 1239.0,1290.5 1240.5,1290.6 1242.0,1290.6 1243.5,1290.6 1245.0,1290.6 1246.5,1290.5 1248.0,1290.5 1249.5,1290.4 1251.0,1290.4 1252.5,1290.3 1254.0,1290.3 1255.5,1290.2 1257.0,1290.1 1258.5,1290.0 1260.0,1289.9 1261.5,1289.9 1263.0,1289.8 1264.5,1289.7 1266.0,1289.6 1267.5,1289.5 1269.0,1289.4 1270.5,1289.3 1272.0,1289.2 1273.5,1289.1 1275.0,1289.0 1276.5,1288.8 1278.0,1288.7 1279.4,1288.5 1280.9,1288.3 1282.4,1288.2 1283.9,1288.0 1285.4,1287.9 1286.9,1287.8 1288.4,1287.8 1289.9,1287.9 1291.3,1288.2 1292.7,1288.7 1294.1,1289.3 1295.4,1290.0 1296.7,1290.6 1298.1,1291.1 1299.6,1291.4 1301.0,1291.6 1302.5,1291.5 1304.0,1291.4 1305.5,1291.3 1307.0,1291.1 1308.5,1290.9 1310.0,1290.6 1311.5,1290.4 1312.9,1290.2 1314.4,1290.1 1315.9,1289.9 1317.4,1289.8 1318.9,1289.7 1320.4,1289.7 1321.9,1289.6 1323.4,1289.5 1324.9,1289.4 1326.4,1289.4 1327.9,1289.3 1329.4,1289.2 1330.9,1289.2 1332.4,1289.1 1333.9,1289.1 1335.4,1289.1 1336.9,1289.0 1338.4,1289.0 1339.9,1289.0 1341.4,1289.0 1342.9,1289.1 1344.4,1289.2 1345.9,1289.3 1347.4,1289.5 1348.9,1289.7 1350.4,1289.9 1351.8,1290.1 1353.3,1290.3 1354.8,1290.5 1356.3,1290.7 1357.8,1290.9 1359.3,1291.1 1360.8,1291.2 1362.3,1291.3 1363.8,1291.3 1365.3,1291.4 1366.8,1291.3 1368.3,1291.3 1369.8,1291.2 1371.3,1291.0 1372.7,1290.9 1374.2,1290.7 1375.7,1290.6 1377.2,1290.4 1378.7,1290.2 1380.2,1290.0 1381.7,1289.8 1383.2,1289.6 1384.7,1289.4 1386.1,1289.3 1387.6,1289.1 1389.1,1289.0 1390.6,1288.9 1392.1,1288.8 1393.6,1288.7 1395.1,1288.6 1396.6,1288.5 1398.1,1288.4 1399.6,1288.2 1401.1,1288.1 1402.6,1288.1 1404.1,1288.0 1405.6,1287.9 1407.1,1287.8 1408.6,1287.7 1410.1,1287.6 1411.6,1287.5 1413.1,1287.5 1414.6,1287.4 1416.1,1287.4 1417.6,1287.3 1419.1,1287.3 1420.6,1287.2 1422.1,1287.2 1423.6,1287.2 1425.1,1287.1 1426.6,1287.1 1428.1,1287.1 1429.6,1287.1 1431.1,1287.1 1432.6,1287.1 1434.1,1287.1 1435.6,1287.0 1437.1,1287.0 1438.6,1287.0 1440.1,1287.0 1441.6,1287.0 1443.1,1286.9 1444.6,1286.9 1446.1,1286.9 1447.6,1286.8 1449.1,1286.7 1450.6,1286.5 1452.0,1286.3 1453.5,1286.1 1455.0,1285.8 1456.5,1285.5 1457.9,1285.2 1459.4,1284.9 1460.9,1284.5 1462.3,1284.1 1463.7,1283.6 1465.1,1283.0 1466.4,1282.4 1467.8,1281.7 1469.2,1281.2 1470.6,1280.8 1472.0,1280.4 1473.5,1280.0 1475.0,1279.7 1476.4,1279.5 1477.9,1279.2 1479.4,1279.0 1480.9,1278.8 1482.4,1278.6 1483.9,1278.4 1485.4,1278.2 1486.8,1278.0 1488.3,1277.8 1489.8,1277.7 1491.3,1277.5 1492.8,1277.3 1494.3,1277.2 1495.8,1277.1 1497.3,1277.0 1498.8,1276.9 1500.3,1276.9 1501.8,1276.8 1503.3,1276.8 1504.8,1276.9 1506.3,1277.0 1507.8,1277.1 1509.3,1277.2 1510.8,1277.4 1512.2,1277.6 1513.7,1277.8 1515.2,1278.1 1516.7,1278.3 1518.1,1278.7 1519.5,1279.2 1520.8,1279.9 1522.1,1280.7 1523.4,1281.4 1524.7,1282.0 1526.1,1282.4 1527.6,1282.5 1529.1,1282.5 1530.6,1282.4 1532.0,1282.2 1533.5,1282.0 1535.0,1281.7 1536.5,1281.5 1538.0,1281.3 1539.5,1281.1 1541.0,1281.0 1542.5,1281.0 1543.9,1281.1 1545.4,1281.2 1546.9,1281.5 1548.4,1281.9 1549.8,1282.3 1551.2,1282.7 1552.7,1283.0 1554.1,1283.4 1555.6,1283.7 1557.1,1283.9 1558.6,1284.0 1560.1,1284.1 1561.6,1284.1 1563.1,1284.0 1564.6,1284.0 1566.1,1284.1 1567.6,1284.2 1569.0,1284.5 1570.5,1284.8 1571.9,1285.3 1573.3,1285.9 1574.7,1286.4 1576.1,1286.8 1577.6,1287.0 1579.1,1287.1 1580.6,1287.1 1582.0,1287.0 1583.5,1286.9 1585.0,1286.8 1586.5,1286.7 1588.0,1286.6 1589.5,1286.7 1590.9,1286.9 1592.2,1287.4 1593.5,1288.1 1594.7,1288.8 1596.0,1289.4 1597.4,1289.6 1598.9,1289.7 1600.4,1289.7 1601.9,1289.6 1603.4,1289.5 1604.9,1289.4 1606.4,1289.3 1607.9,1289.2 1609.4,1289.0 1610.9,1288.9 1612.3,1288.8 1613.8,1288.7 1615.3,1288.5 1616.8,1288.4 1618.3,1288.4 1619.8,1288.3 1621.3,1288.2 1622.8,1288.2 1624.3,1288.2 1625.8,1288.2 1627.3,1288.2 1628.8,1288.2 1630.3,1288.3 1631.8,1288.3 1633.3,1288.3 1634.8,1288.4 1636.3,1288.4 1637.8,1288.4 1639.3,1288.5 1640.8,1288.5 1642.3,1288.5 1643.8,1288.5 1645.3,1288.6 1646.8,1288.6 1648.3,1288.6 1649.8,1288.6 1651.3,1288.5 1652.8,1288.5 1654.3,1288.3 1655.8,1288.2 1657.3,1288.1 1658.8,1287.9 1660.3,1287.8 1661.8,1287.8 1663.3,1287.8 1664.8,1288.0 1666.2,1288.3 1667.7,1288.7 1669.1,1289.1 1670.5,1289.6 1672.0,1289.9 1673.5,1290.1 1674.9,1290.1 1676.4,1289.9 1677.8,1289.6 1679.3,1289.2 1680.8,1288.9 1682.2,1288.7 1683.7,1288.7 1685.2,1288.7 1686.7,1288.8 1688.2,1288.9 1689.7,1289.0 1691.2,1289.2 1692.7,1289.3 1694.2,1289.5 1695.7,1289.6 1697.2,1289.8 1698.7,1289.9 1700.2,1290.1 1701.7,1290.2 1703.1,1290.3 1704.6,1290.3 1706.1,1290.4 1707.6,1290.4 1709.1,1290.3 1710.6,1290.3 1712.1,1290.2 1713.6,1290.2 1715.1,1290.1 1716.6,1290.0 1718.1,1289.9 1719.6,1289.8 1721.1,1289.7 1722.6,1289.6 1724.1,1289.5 1725.6,1289.4 1727.1,1289.4 1728.6,1289.3 1730.1,1289.3 1731.6,1289.3 1733.1,1289.4 1734.6,1289.4 1736.1,1289.5 1737.6,1289.6 1739.1,1289.7 1740.6,1289.8 1742.1,1290.0 1743.6,1290.1 1745.1,1290.2 1746.6,1290.3 1748.1,1290.3 1749.6,1290.3 1751.1,1290.3 1752.6,1290.2 1754.1,1290.0 1755.5,1289.8 1757.0,1289.5 1758.5,1289.2 1759.9,1288.9 1761.4,1288.6 1762.9,1288.3 1764.4,1288.1 1765.9,1287.9 1767.3,1287.8 1768.8,1287.7 1770.3,1287.7 1771.8,1287.7 1773.3,1287.6 1774.8,1287.6 1776.3,1287.6 1777.8,1287.6 1779.3,1287.6 1780.8,1287.6 1782.3,1287.6 1783.8,1287.6 1785.3,1287.6 1786.8,1287.6 1788.3,1287.5 1789.8,1287.5 1791.3,1287.5 1792.8,1287.5 1794.3,1287.5 1795.8,1287.5 1797.3,1287.5 1798.8,1287.5 1800.3,1287.5 1801.8,1287.4 1803.3,1287.4 1804.8,1287.4 1806.3,1287.4 1807.8,1287.4 1809.3,1287.4 1810.8,1287.4 1812.3,1287.3 1813.8,1287.3 1815.3,1287.3 1816.8,1287.3 1818.3,1287.2 1819.8,1287.1 1821.3,1287.0 1822.8,1286.8 1824.3,1286.5 1825.7,1286.1 1827.1,1285.6 1828.6,1285.2 1830.0,1284.7 1831.4,1284.2 1832.8,1283.7 1834.2,1283.2 1835.7,1282.8 1837.1,1282.4 1838.6,1282.1 1840.1,1281.8 1841.5,1281.4 1843.0,1281.1 1844.5,1280.8 1845.9,1280.5 1847.4,1280.2 1848.8,1279.8 1850.3,1279.4 1851.7,1279.0 1853.2,1278.5 1854.6,1278.0 1855.9,1277.5 1857.3,1276.9 1858.7,1276.2 1860.0,1275.6 1861.4,1274.9 1862.7,1274.3 1864.1,1273.7 1865.5,1273.1 1866.9,1272.5 1868.3,1272.0 1869.7,1271.5 1871.1,1271.1 1872.6,1270.6 1874.0,1270.1 1875.4,1269.6 1876.8,1269.2 1878.3,1268.8 1879.7,1268.5 1881.2,1268.2 1882.7,1268.1 1884.2,1268.0 1885.7,1268.0 1887.2,1268.2 1888.7,1268.4 1890.1,1268.7 1891.6,1269.1 1893.0,1269.5 1894.4,1270.0 1895.9,1270.4 1897.3,1270.9 1898.7,1271.4 1900.1,1271.8 1901.6,1272.3 1903.0,1272.7 1904.4,1273.1 1905.9,1273.6 1907.3,1274.0 1908.7,1274.5 1910.2,1275.0 1911.6,1275.5 1913.0,1276.0 1914.4,1276.6 1915.7,1277.2 1917.1,1277.8 1918.4,1278.5 1919.7,1279.3 1920.9,1280.1 1922.2,1281.0 1923.3,1281.9 1924.5,1282.8 1925.8,1283.7 1927.0,1284.5 1928.3,1285.3 1929.6,1285.9 1931.0,1286.4 1932.5,1286.7 1933.9,1286.8 1935.4,1286.8 1936.9,1286.6 1938.4,1286.5 1939.9,1286.3 1941.4,1286.1 1942.9,1285.9 1944.4,1285.7 1945.8,1285.5 1947.3,1285.3 1948.8,1285.1 1950.3,1285.0 1951.8,1285.0 1953.3,1285.0 1954.8,1285.1 1956.3,1285.3 1957.8,1285.6 1959.2,1285.9 1960.7,1286.3 1962.1,1286.7 1963.6,1287.1 1965.0,1287.5 1966.4,1287.9 1967.9,1288.3 1969.3,1288.6 1970.8,1288.9 1972.3,1289.2 1973.8,1289.4 1975.3,1289.6 1976.8,1289.7 1978.3,1289.8 1979.7,1290.0 1981.2,1290.1 1982.7,1290.2 1984.2,1290.3 1985.7,1290.4 1987.2,1290.5 1988.7,1290.6 1990.2,1290.7 1991.7,1290.8 1993.2,1290.8 1994.7,1290.9 1996.2,1290.9 1997.7,1290.9 1999.2,1290.9 2000.7,1290.9 2002.2,1290.9 2003.7,1290.9 2005.2,1290.8 2006.7,1290.8 2008.2,1290.8 2009.7,1290.7 2011.2,1290.7 2012.7,1290.7 2014.2,1290.6 2015.7,1290.6 2017.2,1290.6 2018.7,1290.5 2020.2,1290.5 2021.7,1290.4 2023.2,1290.4 2024.7,1290.3 2026.2,1290.3 2027.7,1290.2 2029.2,1290.2 2030.7,1290.2 2032.2,1290.1 2033.7,1290.1 2035.2,1290.0 2036.7,1290.0 2038.2,1290.0 2039.7,1289.9 2041.2,1289.9 2042.7,1289.8 2044.2,1289.8 2045.7,1289.8 2047.2,1289.7 2048.7,1289.7 2050.2,1289.6 2051.7,1289.6 2053.2,1289.6 2054.7,1289.5 2056.2,1289.5 2057.7,1289.4 2059.2,1289.4 2060.7,1289.4 2062.2,1289.3 2063.7,1289.3 2065.2,1289.2 2066.7,1289.2 2068.2,1289.1 2069.7,1289.1 2071.2,1289.0 2072.7,1289.0 2074.2,1289.0 2075.7,1288.9 2077.2,1288.9 2078.7,1288.8 2080.2,1288.8 2081.7,1288.7 2083.2,1288.7 2084.7,1288.6 2086.1,1288.6 2087.4,1288.6 2088.3,1288.5" fill="none" stroke="#000000" stroke-width="4" stroke-linejoin="round" stroke-linecap="butt"/>
<rect x="188" y="37" width="1901" height="1314" fill="none" stroke="#000" stroke-width="6"/>
<path d="M346.42,1348V1339M346.42,40V48.4M504.83,1348V1326M504.83,40V60.6M663.25,1348V1339M663.25,40V48.4M821.67,1348V1326M821.67,40V60.6M980.08,1348V1339M980.08,40V48.4M1138.50,1348V1326M1138.50,40V60.6M1296.92,1348V1339M1296.92,40V48.4M1455.33,1348V1326M1455.33,40V60.6M1613.75,1348V1339M1613.75,40V48.4M1772.17,1348V1326M1772.17,40V60.6M1930.58,1348V1339M1930.58,40V48.4" stroke="#000" stroke-width="6" fill="none"/>
<filter id="crisp" x="0" y="0" width="2164" height="1603" filterUnits="userSpaceOnUse" color-interpolation-filters="sRGB"><feComponentTransfer><feFuncA type="discrete" tableValues="0 1"/></feComponentTransfer></filter>
<g font-family="Liberation Sans, Arial, sans-serif" font-weight="bold" style="font-kerning:none" filter="url(#crisp)">
<text transform="translate(129.24 1426.80) scale(1.0804 1)" font-size="65.20" fill="#000" clip-path="url(#c0)">100</text>
<text transform="translate(446.07 1426.80) scale(1.0804 1)" font-size="65.20" fill="#000">200</text>
<text transform="translate(762.90 1426.80) scale(1.0804 1)" font-size="65.20" fill="#000">300</text>
<text transform="translate(1079.74 1426.80) scale(1.0804 1)" font-size="65.20" fill="#000">400</text>
<text transform="translate(1396.57 1426.80) scale(1.0804 1)" font-size="65.20" fill="#000">500</text>
<text transform="translate(1713.40 1426.80) scale(1.0804 1)" font-size="65.20" fill="#000">600</text>
<text transform="translate(2030.24 1426.80) scale(1.0804 1)" font-size="65.20" fill="#000">700</text>
<text transform="translate(731.84 1560.00) scale(1.1049 1)" font-size="82.00" fill="#000">Raman Shift</text>
<text transform="translate(1285.88 1559.50) scale(0.9887 1)" font-size="79.60" fill="#000">(</text>
<text transform="translate(1316.26 1560.00) scale(1.1049 1)" font-size="82.00" fill="#000">cm</text>
<text transform="translate(1443.85 1531.40) scale(1.1687 1)" font-size="58.70" fill="#000">−</text>
<text transform="translate(1482.41 1527.30) scale(1.0801 1)" font-size="58.70" fill="#000" clip-path="url(#c1)">1</text>
<text transform="translate(1519.93 1559.50) scale(0.9548 1)" font-size="79.60" fill="#000">)</text>
<text transform="translate(87.1 977.42) rotate(-90) scale(0.9939 1)" font-size="81.50" fill="#000">Intensity (a. u.)</text>
<text transform="translate(348.63 108.10) scale(1.0703 1)" font-size="65.40" fill="#000">E</text>
<text transform="translate(396.16 124.40) scale(1.0899 1)" font-size="44.50" fill="#000">g</text>
<text transform="translate(454.38 236.00) scale(1.0703 1)" font-size="65.40" fill="#000">E</text>
<text transform="translate(501.86 252.50) scale(1.0899 1)" font-size="44.50" fill="#000">g</text>
<text transform="translate(1079.12 223.90) scale(1.0703 1)" font-size="65.40" fill="#000">B</text>
<text transform="translate(1132.31 241.10) scale(1.0899 1)" font-size="44.50" fill="#000" clip-path="url(#c2)">1</text>
<text transform="translate(1158.01 240.20) scale(1.0899 1)" font-size="44.50" fill="#000">g</text>
<text transform="translate(1349.28 224.10) scale(1.0703 1)" font-size="65.40" fill="#000">A</text>
<text transform="translate(1403.31 240.90) scale(1.0899 1)" font-size="44.50" fill="#000" clip-path="url(#c3)">1</text>
<text transform="translate(1427.96 240.00) scale(1.0899 1)" font-size="44.50" fill="#000">g</text>
<text transform="translate(1457.96 223.60) scale(1.0703 1)" font-size="65.40" fill="#000">+</text>
<text transform="translate(1499.87 224.10) scale(1.0703 1)" font-size="65.40" fill="#000">B</text>
<text transform="translate(1552.21 240.90) scale(1.0899 1)" font-size="44.50" fill="#000" clip-path="url(#c4)">1</text>
<text transform="translate(1577.81 240.00) scale(1.0899 1)" font-size="44.50" fill="#000">g</text>
<text transform="translate(1814.53 224.30) scale(1.0703 1)" font-size="65.40" fill="#000">E</text>
<text transform="translate(1862.06 240.40) scale(1.0899 1)" font-size="44.50" fill="#000">g</text>
<text transform="translate(1906.83 231.00) scale(1.0661 1)" font-size="71.10" fill="#8000FF" dx="0.00 2.34 -2.34 0.00" dy="0.00 1.50 -1.50 0.00">B-60</text>
<text transform="translate(1907.83 478.00) scale(1.0661 1)" font-size="71.10" fill="#008000" dx="0.00 2.34 -2.34 0.00" dy="0.00 1.50 -1.50 0.00">B-45</text>
<text transform="translate(1907.83 729.00) scale(1.0661 1)" font-size="71.10" fill="#0000FF" dx="0.00 2.34 -2.34 0.00" dy="0.00 1.50 -1.50 0.00">B-30</text>
<text transform="translate(1907.83 979.90) scale(1.0661 1)" font-size="71.10" fill="#FF0000" dx="0.00 2.34 -2.34 0.00" dy="0.00 1.50 -1.50 0.00" clip-path="url(#c5)">B-15</text>
<text transform="translate(1839.70 1229.70) scale(1.0807 1)" font-size="70.60" fill="#000">P-TiO</text>
<text transform="translate(2044.58 1247.90) scale(1.0532 1)" font-size="47.00" fill="#000">2</text>
</g>
<path d="M306,37.0H314V41.8H306ZM306,66.7H314V96.2H306ZM306,121.1H314V150.7H306ZM306,175.6H314V205.2H306ZM306,230.0H314V259.6H306ZM306,284.5H314V314.1H306ZM306,338.9H314V368.5H306ZM306,393.4H314V423.0H306ZM306,447.8H314V477.4H306ZM306,502.2H314V531.9H306ZM306,556.7H314V586.3H306ZM306,611.1H314V640.8H306ZM306,665.6H314V695.2H306ZM306,720.1H314V749.7H306ZM306,774.5H314V804.1H306ZM306,829.0H314V858.6H306ZM306,883.4H314V913.0H306ZM306,937.9H314V967.5H306ZM306,992.3H314V1021.9H306ZM306,1046.8H314V1076.3H306ZM306,1101.2H314V1130.8H306ZM306,1155.7H314V1185.2H306ZM306,1210.1H314V1239.7H306ZM306,1264.6H314V1294.2H306ZM306,1319.0H314V1348.6H306ZM478,242.2H485V261.7H478ZM478,286.6H485V316.2H478ZM478,341.0H485V370.6H478ZM478,395.5H485V425.1H478ZM478,449.9H485V479.5H478ZM478,504.4H485V534.0H478ZM478,558.8H485V588.4H478ZM478,613.2H485V642.9H478ZM478,667.7H485V697.3H478ZM478,722.2H485V751.8H478ZM478,776.6H485V806.2H478ZM478,831.0H485V860.6H478ZM478,885.5H485V915.1H478ZM478,940.0H485V969.6H478ZM478,994.4H485V1024.0H478ZM478,1048.9H485V1078.5H478ZM478,1103.3H485V1132.9H478ZM478,1157.8H485V1187.3H478ZM478,1212.2H485V1241.8H478ZM478,1266.7H485V1296.2H478ZM478,1321.1H485V1350.7H478ZM1107,246.0H1115V265.9H1107ZM1107,290.8H1115V320.4H1107ZM1107,345.2H1115V374.8H1107ZM1107,399.6H1115V429.2H1107ZM1107,454.1H1115V483.7H1107ZM1107,508.6H1115V538.1H1107ZM1107,563.0H1115V592.6H1107ZM1107,617.5H1115V647.1H1107ZM1107,671.9H1115V701.5H1107ZM1107,726.4H1115V756.0H1107ZM1107,780.8H1115V810.4H1107ZM1107,835.2H1115V864.9H1107ZM1107,889.7H1115V919.3H1107ZM1107,944.2H1115V973.8H1107ZM1107,998.6H1115V1028.2H1107ZM1107,1053.1H1115V1082.7H1107ZM1107,1107.5H1115V1137.1H1107ZM1107,1162.0H1115V1191.5H1107ZM1107,1216.4H1115V1246.0H1107ZM1107,1270.8H1115V1300.4H1107ZM1107,1325.3H1115V1354.5H1107ZM1485,240.9H1492V259.8H1485ZM1485,284.6H1492V314.2H1485ZM1485,339.1H1492V368.7H1485ZM1485,393.5H1492V423.1H1485ZM1485,448.0H1492V477.6H1485ZM1485,502.4H1492V532.0H1485ZM1485,556.9H1492V586.5H1485ZM1485,611.4H1492V641.0H1485ZM1485,665.8H1492V695.4H1485ZM1485,720.2H1492V749.9H1485ZM1485,774.7H1492V804.3H1485ZM1485,829.1H1492V858.8H1485ZM1485,883.6H1492V913.2H1485ZM1485,938.1H1492V967.7H1485ZM1485,992.5H1492V1022.1H1485ZM1485,1047.0H1492V1076.5H1485ZM1485,1101.4H1492V1131.0H1485ZM1485,1155.8H1492V1185.4H1485ZM1485,1210.3H1492V1239.9H1485ZM1485,1264.8H1492V1294.3H1485ZM1485,1319.2H1492V1348.8H1485ZM1882,245.3H1890V264.8H1882ZM1882,289.6H1890V319.2H1882ZM1882,344.1H1890V373.7H1882ZM1882,398.5H1890V428.1H1882ZM1882,453.0H1890V482.6H1882ZM1882,507.4H1890V537.0H1882ZM1882,561.9H1890V591.5H1882ZM1882,616.4H1890V646.0H1882ZM1882,670.8H1890V700.4H1882ZM1882,725.2H1890V754.9H1882ZM1882,779.7H1890V809.3H1882ZM1882,834.1H1890V863.8H1882ZM1882,888.6H1890V918.2H1882ZM1882,943.1H1890V972.7H1882ZM1882,997.5H1890V1027.1H1882ZM1882,1052.0H1890V1081.5H1882ZM1882,1106.4H1890V1136.0H1882ZM1882,1160.8H1890V1190.4H1882ZM1882,1215.3H1890V1244.9H1882ZM1882,1269.8H1890V1299.3H1882ZM1882,1324.2H1890V1353.8H1882Z" fill="#808080" shape-rendering="crispEdges"/>
<defs><clipPath id="c0" clipPathUnits="userSpaceOnUse"><rect x="-10000" y="-10000" width="20000" height="9991.85"/><rect x="-10000.00" y="-10000" width="10003.26" height="20000"/><rect x="15.15" y="-10000" width="9.08" height="20000"/><rect x="35.53" y="-10000" width="9964.47" height="20000"/></clipPath><clipPath id="c1" clipPathUnits="userSpaceOnUse"><rect x="-10000" y="-10000" width="20000" height="9992.66"/><rect x="-10000.00" y="-10000" width="10002.93" height="20000"/><rect x="13.64" y="-10000" width="8.17" height="20000"/><rect x="31.99" y="-10000" width="9968.01" height="20000"/></clipPath><clipPath id="c2" clipPathUnits="userSpaceOnUse"><rect x="-10000" y="-10000" width="20000" height="9994.44"/><rect x="-10000.00" y="-10000" width="10002.23" height="20000"/><rect x="10.34" y="-10000" width="6.19" height="20000"/><rect x="24.25" y="-10000" width="9975.75" height="20000"/></clipPath><clipPath id="c3" clipPathUnits="userSpaceOnUse"><rect x="-10000" y="-10000" width="20000" height="9994.44"/><rect x="-10000.00" y="-10000" width="10002.23" height="20000"/><rect x="10.34" y="-10000" width="6.19" height="20000"/><rect x="24.25" y="-10000" width="9975.75" height="20000"/></clipPath><clipPath id="c4" clipPathUnits="userSpaceOnUse"><rect x="-10000" y="-10000" width="20000" height="9994.44"/><rect x="-10000.00" y="-10000" width="10002.23" height="20000"/><rect x="10.34" y="-10000" width="6.19" height="20000"/><rect x="24.25" y="-10000" width="9975.75" height="20000"/></clipPath><clipPath id="c5" clipPathUnits="userSpaceOnUse"><rect x="-10000" y="-10000" width="20000" height="9991.11"/><rect x="-10000.00" y="-10000" width="10078.58" height="20000"/><rect x="91.55" y="-10000" width="9.90" height="20000"/><rect x="113.77" y="-10000" width="9886.23" height="20000"/></clipPath></defs>
</svg>
</body></html>
